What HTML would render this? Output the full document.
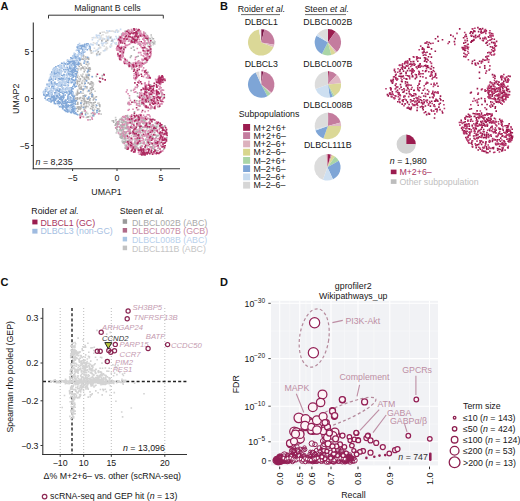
<!DOCTYPE html><html><head><meta charset="utf-8"><style>html,body{margin:0;padding:0;background:#fff;width:520px;height:501px;overflow:hidden}svg{display:block}</style></head><body><svg width="520" height="501" viewBox="0 0 520 501" font-family="Liberation Sans, sans-serif">
<rect width="520" height="501" fill="#fff"/>
<g>
<text x="0.5" y="9.8" font-size="11" fill="#111" stroke="#111" stroke-width="0" text-anchor="start" font-weight="bold">A</text>
<text x="107.5" y="11.0" font-size="8.8" fill="#222" stroke="#222" stroke-width="0" text-anchor="middle" >Malignant B cells</text>
<path d="M48.5,18.5 V15.2 H163.3 V18.5" fill="none" stroke="#333" stroke-width="1"/>
<line x1="33.3" y1="22.5" x2="33.3" y2="169.3" stroke="#333" stroke-width="1.1" />
<line x1="32.7" y1="168.8" x2="180.0" y2="168.8" stroke="#333" stroke-width="1.1" />
<line x1="31.0" y1="51.5" x2="33.3" y2="51.5" stroke="#333" stroke-width="1" />
<text x="29.5" y="54.6" font-size="8.8" fill="#161616" stroke="#161616" stroke-width="0" text-anchor="end" >5</text>
<line x1="31.0" y1="98.5" x2="33.3" y2="98.5" stroke="#333" stroke-width="1" />
<text x="29.5" y="101.6" font-size="8.8" fill="#161616" stroke="#161616" stroke-width="0" text-anchor="end" >0</text>
<line x1="31.0" y1="145.5" x2="33.3" y2="145.5" stroke="#333" stroke-width="1" />
<text x="29.5" y="148.6" font-size="8.8" fill="#161616" stroke="#161616" stroke-width="0" text-anchor="end" >−5</text>
<line x1="72.6" y1="168.8" x2="72.6" y2="171.0" stroke="#333" stroke-width="1" />
<text x="72.6" y="180.8" font-size="8.8" fill="#161616" stroke="#161616" stroke-width="0" text-anchor="middle" >−5</text>
<line x1="117.0" y1="168.8" x2="117.0" y2="171.0" stroke="#333" stroke-width="1" />
<text x="117.0" y="180.8" font-size="8.8" fill="#161616" stroke="#161616" stroke-width="0" text-anchor="middle" >0</text>
<line x1="160.9" y1="168.8" x2="160.9" y2="171.0" stroke="#333" stroke-width="1" />
<text x="160.9" y="180.8" font-size="8.8" fill="#161616" stroke="#161616" stroke-width="0" text-anchor="middle" >5</text>
<text x="106.5" y="194.5" font-size="8.8" fill="#161616" stroke="#161616" stroke-width="0" text-anchor="middle" >UMAP1</text>
<text x="0" y="0" font-size="8.8" fill="#161616" stroke="#161616" stroke-width="0" text-anchor="middle" transform="translate(18.8,98.8) rotate(-90)">UMAP2</text>
<text x="35.6" y="165.3" font-size="8.8" fill="#161616" stroke="#161616" stroke-width="0" text-anchor="start" ><tspan font-style="italic">n</tspan> = 8,235</text>
<text x="31.3" y="213.8" font-size="8.8" fill="#161616" stroke="#161616" stroke-width="0" text-anchor="start" >Roider <tspan font-style="italic">et al.</tspan></text>
<rect x="32.3" y="219.6" width="5.2" height="4.8" fill="#9b1c4f"/>
<text x="40.4" y="225.6" font-size="8.8" fill="#a8345f" stroke="#a8345f" stroke-width="0" text-anchor="start" >DLBCL1 (GC)</text>
<rect x="32.3" y="228.8" width="5.2" height="4.8" fill="#9fbbe0"/>
<text x="40.4" y="234.4" font-size="8.8" fill="#a6c0e2" stroke="#a6c0e2" stroke-width="0" text-anchor="start" >DLBCL3 (non-GC)</text>
<text x="119.8" y="213.8" font-size="8.8" fill="#161616" stroke="#161616" stroke-width="0" text-anchor="start" >Steen <tspan font-style="italic">et al.</tspan></text>
<rect x="122.7" y="219.2" width="4.4" height="4.6" fill="#9a9a9a"/>
<text x="131.9" y="225.5" font-size="8.8" fill="#a9a9a9" stroke="#a9a9a9" stroke-width="0" text-anchor="start" >DLBCL002B (ABC)</text>
<rect x="122.7" y="228.0" width="4.4" height="4.6" fill="#b06a88"/>
<text x="131.9" y="234.3" font-size="8.8" fill="#c88aa4" stroke="#c88aa4" stroke-width="0" text-anchor="start" >DLBCL007B (GCB)</text>
<rect x="122.7" y="236.8" width="4.4" height="4.6" fill="#a9c6e4"/>
<text x="131.9" y="243.1" font-size="8.8" fill="#b9d1ec" stroke="#b9d1ec" stroke-width="0" text-anchor="start" >DLBCL008B (ABC)</text>
<rect x="122.7" y="245.6" width="4.4" height="4.6" fill="#c2c2c2"/>
<text x="131.9" y="251.9" font-size="8.8" fill="#c6c6c6" stroke="#c6c6c6" stroke-width="0" text-anchor="start" >DLBCL111B (ABC)</text>
<path fill="#dcdcdc" d="M103.3 45.3h1.6v1.6h-1.6zM97.8 47.6h1.6v1.6h-1.6zM94.4 42.7h1.6v1.6h-1.6zM105.3 42.9h1.6v1.6h-1.6zM110.2 43.7h1.6v1.6h-1.6zM104.5 48.4h1.6v1.6h-1.6zM107.2 30.8h1.6v1.6h-1.6zM102.1 39.0h1.6v1.6h-1.6zM102.1 37.6h1.6v1.6h-1.6zM95.4 49.6h1.6v1.6h-1.6zM103.3 31.3h1.6v1.6h-1.6zM89.6 49.9h1.6v1.6h-1.6zM112.8 30.6h1.6v1.6h-1.6zM95.2 36.8h1.6v1.6h-1.6zM102.6 50.0h1.6v1.6h-1.6zM93.6 47.4h1.6v1.6h-1.6zM120.5 36.4h1.6v1.6h-1.6zM106.8 32.0h1.6v1.6h-1.6zM98.8 38.3h1.6v1.6h-1.6zM103.8 38.3h1.6v1.6h-1.6zM105.6 46.3h1.6v1.6h-1.6zM100.5 34.8h1.6v1.6h-1.6zM91.9 52.0h1.6v1.6h-1.6zM99.8 46.8h1.6v1.6h-1.6zM99.0 46.3h1.6v1.6h-1.6zM106.5 36.4h1.6v1.6h-1.6zM110.1 30.4h1.6v1.6h-1.6zM116.0 43.6h1.6v1.6h-1.6zM102.2 34.0h1.6v1.6h-1.6zM116.9 30.5h1.6v1.6h-1.6zM118.3 35.5h1.6v1.6h-1.6zM109.2 45.6h1.6v1.6h-1.6zM105.1 32.2h1.6v1.6h-1.6zM117.8 30.3h1.6v1.6h-1.6zM106.6 47.6h1.6v1.6h-1.6zM118.5 40.3h1.6v1.6h-1.6zM114.6 30.8h1.6v1.6h-1.6zM111.3 30.2h1.6v1.6h-1.6zM101.5 31.5h1.6v1.6h-1.6zM110.3 36.1h1.6v1.6h-1.6zM106.5 38.5h1.6v1.6h-1.6zM115.2 29.7h1.6v1.6h-1.6zM114.0 42.2h1.6v1.6h-1.6zM90.6 51.7h1.6v1.6h-1.6zM98.5 38.6h1.6v1.6h-1.6zM100.2 36.8h1.6v1.6h-1.6zM105.2 48.1h1.6v1.6h-1.6zM96.8 52.0h1.6v1.6h-1.6zM106.6 42.3h1.6v1.6h-1.6zM101.6 42.8h1.6v1.6h-1.6zM110.7 45.1h1.6v1.6h-1.6zM105.8 48.8h1.6v1.6h-1.6zM92.7 42.0h1.6v1.6h-1.6zM99.9 51.9h1.6v1.6h-1.6zM99.0 47.2h1.6v1.6h-1.6zM91.5 36.9h1.6v1.6h-1.6zM105.7 35.6h1.6v1.6h-1.6zM108.1 35.6h1.6v1.6h-1.6z"/>
<path fill="#c9daef" d="M105.1 41.6h1.6v1.6h-1.6zM121.8 33.2h1.6v1.6h-1.6zM93.1 36.8h1.6v1.6h-1.6zM102.3 42.9h1.6v1.6h-1.6zM99.9 38.2h1.6v1.6h-1.6zM107.9 37.5h1.6v1.6h-1.6zM97.2 40.2h1.6v1.6h-1.6zM95.6 34.3h1.6v1.6h-1.6zM103.6 38.0h1.6v1.6h-1.6zM91.2 43.8h1.6v1.6h-1.6zM89.3 47.7h1.6v1.6h-1.6zM110.5 40.5h1.6v1.6h-1.6zM108.8 30.0h1.6v1.6h-1.6zM107.8 39.0h1.6v1.6h-1.6zM107.3 36.3h1.6v1.6h-1.6zM108.4 30.3h1.6v1.6h-1.6zM101.6 44.7h1.6v1.6h-1.6zM96.1 43.6h1.6v1.6h-1.6zM96.8 49.1h1.6v1.6h-1.6zM113.8 38.5h1.6v1.6h-1.6zM96.0 54.6h1.6v1.6h-1.6zM103.3 41.9h1.6v1.6h-1.6zM112.1 39.3h1.6v1.6h-1.6zM94.6 50.2h1.6v1.6h-1.6zM95.9 35.4h1.6v1.6h-1.6zM97.0 36.9h1.6v1.6h-1.6zM96.2 42.0h1.6v1.6h-1.6zM121.6 34.4h1.6v1.6h-1.6zM110.1 37.2h1.6v1.6h-1.6zM109.7 46.3h1.6v1.6h-1.6zM97.1 34.8h1.6v1.6h-1.6zM88.7 44.3h1.6v1.6h-1.6zM92.2 44.1h1.6v1.6h-1.6zM100.7 42.6h1.6v1.6h-1.6zM98.7 53.3h1.6v1.6h-1.6zM114.8 43.2h1.6v1.6h-1.6zM106.0 30.0h1.6v1.6h-1.6zM92.6 50.5h1.6v1.6h-1.6zM103.3 49.9h1.6v1.6h-1.6zM99.1 36.2h1.6v1.6h-1.6zM118.1 37.1h1.6v1.6h-1.6zM111.5 38.5h1.6v1.6h-1.6zM106.6 37.4h1.6v1.6h-1.6zM115.2 35.7h1.6v1.6h-1.6zM115.5 42.0h1.6v1.6h-1.6zM119.8 28.6h1.6v1.6h-1.6zM114.5 31.5h1.6v1.6h-1.6zM101.1 40.6h1.6v1.6h-1.6zM96.9 54.1h1.6v1.6h-1.6zM97.8 47.7h1.6v1.6h-1.6zM104.2 49.6h1.6v1.6h-1.6zM112.2 40.9h1.6v1.6h-1.6zM116.9 31.4h1.6v1.6h-1.6zM116.0 37.6h1.6v1.6h-1.6zM89.9 43.2h1.6v1.6h-1.6zM98.5 34.5h1.6v1.6h-1.6zM98.0 44.1h1.6v1.6h-1.6zM116.1 29.3h1.6v1.6h-1.6zM91.6 39.0h1.6v1.6h-1.6zM120.8 33.4h1.6v1.6h-1.6zM110.8 42.9h1.6v1.6h-1.6zM112.2 40.4h1.6v1.6h-1.6z"/>
<path fill="#cdcdcd" d="M85.3 58.5h1.6v1.6h-1.6zM91.8 82.1h1.6v1.6h-1.6zM98.9 104.3h1.6v1.6h-1.6zM89.3 115.6h1.6v1.6h-1.6zM74.9 97.4h1.6v1.6h-1.6zM83.1 96.0h1.6v1.6h-1.6zM81.2 115.7h1.6v1.6h-1.6zM76.2 98.2h1.6v1.6h-1.6zM83.2 108.5h1.6v1.6h-1.6zM98.2 102.3h1.6v1.6h-1.6zM88.1 66.9h1.6v1.6h-1.6zM94.5 96.6h1.6v1.6h-1.6zM87.5 73.8h1.6v1.6h-1.6zM79.4 79.1h1.6v1.6h-1.6zM83.4 69.0h1.6v1.6h-1.6zM86.9 73.4h1.6v1.6h-1.6zM81.0 81.6h1.6v1.6h-1.6zM82.2 115.4h1.6v1.6h-1.6zM85.2 61.1h1.6v1.6h-1.6zM74.3 94.6h1.6v1.6h-1.6zM79.1 107.1h1.6v1.6h-1.6zM82.5 92.5h1.6v1.6h-1.6zM82.1 76.6h1.6v1.6h-1.6zM83.5 110.4h1.6v1.6h-1.6zM95.2 104.0h1.6v1.6h-1.6zM81.0 101.6h1.6v1.6h-1.6zM94.7 106.2h1.6v1.6h-1.6zM85.6 116.7h1.6v1.6h-1.6zM76.2 79.8h1.6v1.6h-1.6zM92.7 83.6h1.6v1.6h-1.6zM83.7 107.6h1.6v1.6h-1.6zM79.4 108.7h1.6v1.6h-1.6zM82.8 76.7h1.6v1.6h-1.6zM84.6 59.0h1.6v1.6h-1.6zM91.6 93.9h1.6v1.6h-1.6zM80.0 102.6h1.6v1.6h-1.6zM86.0 105.5h1.6v1.6h-1.6zM83.8 98.7h1.6v1.6h-1.6zM86.5 61.4h1.6v1.6h-1.6zM86.8 90.6h1.6v1.6h-1.6zM77.3 69.2h1.6v1.6h-1.6zM92.0 85.7h1.6v1.6h-1.6zM83.5 78.9h1.6v1.6h-1.6zM92.3 84.7h1.6v1.6h-1.6zM78.0 68.0h1.6v1.6h-1.6zM81.2 111.6h1.6v1.6h-1.6zM88.6 90.3h1.6v1.6h-1.6zM81.3 99.5h1.6v1.6h-1.6zM87.5 82.5h1.6v1.6h-1.6zM74.4 100.1h1.6v1.6h-1.6zM93.8 108.6h1.6v1.6h-1.6zM87.4 102.4h1.6v1.6h-1.6zM83.2 104.2h1.6v1.6h-1.6zM83.9 87.9h1.6v1.6h-1.6zM88.6 89.5h1.6v1.6h-1.6zM97.0 102.4h1.6v1.6h-1.6zM92.0 104.4h1.6v1.6h-1.6zM85.5 94.5h1.6v1.6h-1.6zM87.5 58.1h1.6v1.6h-1.6zM84.2 58.0h1.6v1.6h-1.6zM88.2 78.3h1.6v1.6h-1.6zM87.3 105.9h1.6v1.6h-1.6zM88.2 62.8h1.6v1.6h-1.6zM83.7 81.1h1.6v1.6h-1.6zM75.5 92.4h1.6v1.6h-1.6zM76.4 106.0h1.6v1.6h-1.6zM86.9 65.1h1.6v1.6h-1.6zM81.8 79.8h1.6v1.6h-1.6zM84.3 69.4h1.6v1.6h-1.6zM87.5 78.3h1.6v1.6h-1.6zM78.5 75.9h1.6v1.6h-1.6zM86.2 87.7h1.6v1.6h-1.6zM77.2 68.6h1.6v1.6h-1.6zM79.2 92.4h1.6v1.6h-1.6zM82.8 56.6h1.6v1.6h-1.6zM88.4 103.9h1.6v1.6h-1.6zM76.8 98.5h1.6v1.6h-1.6zM85.6 100.7h1.6v1.6h-1.6zM87.7 77.3h1.6v1.6h-1.6zM85.7 111.3h1.6v1.6h-1.6zM87.1 60.7h1.6v1.6h-1.6zM81.1 92.4h1.6v1.6h-1.6zM76.0 103.4h1.6v1.6h-1.6zM87.1 63.6h1.6v1.6h-1.6zM83.8 76.4h1.6v1.6h-1.6zM100.4 113.3h1.6v1.6h-1.6zM80.6 104.3h1.6v1.6h-1.6zM86.2 97.3h1.6v1.6h-1.6zM76.3 93.6h1.6v1.6h-1.6zM85.2 73.7h1.6v1.6h-1.6zM91.3 75.7h1.6v1.6h-1.6zM78.8 113.7h1.6v1.6h-1.6zM93.8 97.4h1.6v1.6h-1.6zM82.1 73.3h1.6v1.6h-1.6zM95.3 106.3h1.6v1.6h-1.6zM77.9 97.5h1.6v1.6h-1.6zM85.5 74.1h1.6v1.6h-1.6zM74.3 97.1h1.6v1.6h-1.6zM88.5 104.2h1.6v1.6h-1.6zM80.9 75.4h1.6v1.6h-1.6zM78.9 96.9h1.6v1.6h-1.6zM98.6 104.2h1.6v1.6h-1.6zM89.0 70.4h1.6v1.6h-1.6zM87.0 70.9h1.6v1.6h-1.6zM75.8 79.2h1.6v1.6h-1.6zM80.1 68.9h1.6v1.6h-1.6zM87.0 75.2h1.6v1.6h-1.6zM91.1 82.8h1.6v1.6h-1.6zM82.4 89.9h1.6v1.6h-1.6zM84.1 65.9h1.6v1.6h-1.6zM90.5 52.3h1.6v1.6h-1.6zM87.0 75.8h1.6v1.6h-1.6zM76.8 89.3h1.6v1.6h-1.6zM83.9 68.3h1.6v1.6h-1.6zM94.3 90.5h1.6v1.6h-1.6zM82.7 85.4h1.6v1.6h-1.6zM93.3 115.0h1.6v1.6h-1.6zM90.8 84.8h1.6v1.6h-1.6zM91.2 103.3h1.6v1.6h-1.6zM80.1 74.2h1.6v1.6h-1.6zM78.4 86.5h1.6v1.6h-1.6zM94.6 112.7h1.6v1.6h-1.6zM87.0 112.8h1.6v1.6h-1.6zM77.3 68.8h1.6v1.6h-1.6zM92.6 88.0h1.6v1.6h-1.6zM82.2 95.2h1.6v1.6h-1.6zM80.5 85.4h1.6v1.6h-1.6zM77.4 107.4h1.6v1.6h-1.6zM92.5 94.5h1.6v1.6h-1.6zM77.1 74.5h1.6v1.6h-1.6zM81.6 67.3h1.6v1.6h-1.6zM86.7 74.1h1.6v1.6h-1.6zM98.6 113.0h1.6v1.6h-1.6zM85.8 87.1h1.6v1.6h-1.6zM77.9 77.8h1.6v1.6h-1.6zM84.0 106.0h1.6v1.6h-1.6zM93.7 111.9h1.6v1.6h-1.6zM149.2 37.9h1.6v1.6h-1.6zM148.6 42.1h1.6v1.6h-1.6zM146.3 42.1h1.6v1.6h-1.6zM149.7 41.7h1.6v1.6h-1.6zM149.7 41.0h1.6v1.6h-1.6zM145.7 34.1h1.6v1.6h-1.6zM150.0 42.4h1.6v1.6h-1.6zM147.1 39.2h1.6v1.6h-1.6zM153.1 42.0h1.6v1.6h-1.6zM147.7 37.0h1.6v1.6h-1.6zM152.4 43.8h1.6v1.6h-1.6zM151.7 37.9h1.6v1.6h-1.6zM153.5 40.3h1.6v1.6h-1.6zM154.2 41.1h1.6v1.6h-1.6zM154.0 43.2h1.6v1.6h-1.6zM153.6 41.6h1.6v1.6h-1.6zM151.2 36.7h1.6v1.6h-1.6zM150.5 39.4h1.6v1.6h-1.6zM150.4 34.0h1.6v1.6h-1.6zM149.0 43.7h1.6v1.6h-1.6zM150.4 34.9h1.6v1.6h-1.6zM144.7 32.4h1.6v1.6h-1.6zM152.5 42.6h1.6v1.6h-1.6zM149.4 42.5h1.6v1.6h-1.6zM114.8 116.8h1.6v1.6h-1.6zM119.6 128.3h1.6v1.6h-1.6zM122.7 115.9h1.6v1.6h-1.6zM119.0 119.2h1.6v1.6h-1.6zM115.5 132.1h1.6v1.6h-1.6zM116.1 130.6h1.6v1.6h-1.6zM121.2 124.7h1.6v1.6h-1.6zM121.0 134.2h1.6v1.6h-1.6zM121.5 134.5h1.6v1.6h-1.6zM114.5 119.8h1.6v1.6h-1.6zM111.3 119.9h1.6v1.6h-1.6zM129.6 120.0h1.6v1.6h-1.6zM142.3 121.9h1.6v1.6h-1.6zM124.8 122.6h1.6v1.6h-1.6zM122.7 115.4h1.6v1.6h-1.6zM124.8 127.0h1.6v1.6h-1.6zM153.5 145.5h1.6v1.6h-1.6zM125.7 115.3h1.6v1.6h-1.6zM126.1 134.5h1.6v1.6h-1.6zM146.7 131.1h1.6v1.6h-1.6zM118.9 121.1h1.6v1.6h-1.6zM144.5 134.0h1.6v1.6h-1.6zM124.9 118.2h1.6v1.6h-1.6zM151.4 146.1h1.6v1.6h-1.6zM118.5 133.3h1.6v1.6h-1.6zM122.5 127.0h1.6v1.6h-1.6zM149.6 138.3h1.6v1.6h-1.6zM124.6 134.2h1.6v1.6h-1.6zM122.6 137.6h1.6v1.6h-1.6zM135.7 129.1h1.6v1.6h-1.6zM120.9 133.2h1.6v1.6h-1.6zM121.8 133.9h1.6v1.6h-1.6zM125.4 130.9h1.6v1.6h-1.6zM122.1 139.6h1.6v1.6h-1.6zM153.5 125.4h1.6v1.6h-1.6zM138.7 131.8h1.6v1.6h-1.6zM124.0 126.5h1.6v1.6h-1.6zM132.1 118.1h1.6v1.6h-1.6zM139.1 138.7h1.6v1.6h-1.6zM142.1 122.7h1.6v1.6h-1.6zM146.2 142.6h1.6v1.6h-1.6zM124.6 139.6h1.6v1.6h-1.6zM144.7 126.6h1.6v1.6h-1.6zM121.7 134.9h1.6v1.6h-1.6zM121.0 117.7h1.6v1.6h-1.6zM156.1 126.8h1.6v1.6h-1.6zM125.4 121.0h1.6v1.6h-1.6zM148.8 127.8h1.6v1.6h-1.6zM139.3 131.7h1.6v1.6h-1.6zM115.2 126.7h1.6v1.6h-1.6zM146.8 134.8h1.6v1.6h-1.6zM143.5 143.6h1.6v1.6h-1.6zM145.1 138.2h1.6v1.6h-1.6zM137.3 128.9h1.6v1.6h-1.6zM147.9 140.7h1.6v1.6h-1.6zM133.1 134.8h1.6v1.6h-1.6zM149.0 140.3h1.6v1.6h-1.6zM157.0 142.8h1.6v1.6h-1.6zM124.8 144.0h1.6v1.6h-1.6zM134.8 144.4h1.6v1.6h-1.6zM118.5 129.3h1.6v1.6h-1.6zM121.4 134.5h1.6v1.6h-1.6zM143.1 130.7h1.6v1.6h-1.6zM117.6 122.5h1.6v1.6h-1.6zM140.5 144.9h1.6v1.6h-1.6zM141.6 131.6h1.6v1.6h-1.6zM136.6 137.3h1.6v1.6h-1.6zM134.9 115.9h1.6v1.6h-1.6zM152.1 131.1h1.6v1.6h-1.6zM139.0 122.3h1.6v1.6h-1.6zM153.2 147.8h1.6v1.6h-1.6zM118.5 123.0h1.6v1.6h-1.6zM139.1 125.8h1.6v1.6h-1.6zM124.2 144.5h1.6v1.6h-1.6zM136.4 146.7h1.6v1.6h-1.6zM138.8 119.8h1.6v1.6h-1.6zM139.9 115.5h1.6v1.6h-1.6zM136.8 144.3h1.6v1.6h-1.6zM153.7 128.1h1.6v1.6h-1.6zM139.6 136.0h1.6v1.6h-1.6zM124.4 146.2h1.6v1.6h-1.6zM141.8 136.2h1.6v1.6h-1.6zM144.3 116.0h1.6v1.6h-1.6zM118.9 134.1h1.6v1.6h-1.6zM122.3 125.2h1.6v1.6h-1.6zM123.6 138.5h1.6v1.6h-1.6zM121.3 140.3h1.6v1.6h-1.6zM121.1 136.6h1.6v1.6h-1.6zM145.4 125.1h1.6v1.6h-1.6zM124.7 122.7h1.6v1.6h-1.6zM121.7 117.7h1.6v1.6h-1.6zM133.5 145.7h1.6v1.6h-1.6zM136.6 147.8h1.6v1.6h-1.6zM131.9 139.0h1.6v1.6h-1.6zM134.4 125.9h1.6v1.6h-1.6zM156.8 135.1h1.6v1.6h-1.6zM149.4 134.1h1.6v1.6h-1.6zM120.7 128.7h1.6v1.6h-1.6zM145.7 129.1h1.6v1.6h-1.6zM158.1 140.3h1.6v1.6h-1.6zM146.7 125.7h1.6v1.6h-1.6zM116.1 125.6h1.6v1.6h-1.6zM124.2 120.2h1.6v1.6h-1.6zM134.0 147.1h1.6v1.6h-1.6zM154.8 139.7h1.6v1.6h-1.6zM121.2 118.1h1.6v1.6h-1.6zM120.8 126.5h1.6v1.6h-1.6zM116.3 125.5h1.6v1.6h-1.6zM144.6 139.5h1.6v1.6h-1.6zM151.2 143.1h1.6v1.6h-1.6zM127.2 137.5h1.6v1.6h-1.6zM118.0 130.6h1.6v1.6h-1.6zM146.4 146.3h1.6v1.6h-1.6zM123.1 128.5h1.6v1.6h-1.6zM135.8 144.0h1.6v1.6h-1.6zM148.2 132.9h1.6v1.6h-1.6zM137.4 147.6h1.6v1.6h-1.6zM141.4 129.7h1.6v1.6h-1.6zM123.9 125.1h1.6v1.6h-1.6zM140.1 119.5h1.6v1.6h-1.6zM123.8 135.1h1.6v1.6h-1.6zM131.2 117.7h1.6v1.6h-1.6zM135.8 125.4h1.6v1.6h-1.6zM137.6 122.1h1.6v1.6h-1.6zM123.7 137.4h1.6v1.6h-1.6zM134.1 139.3h1.6v1.6h-1.6zM131.8 146.1h1.6v1.6h-1.6zM122.0 126.4h1.6v1.6h-1.6zM124.0 124.8h1.6v1.6h-1.6zM143.1 143.0h1.6v1.6h-1.6zM133.1 122.4h1.6v1.6h-1.6zM153.1 128.3h1.6v1.6h-1.6zM118.4 119.8h1.6v1.6h-1.6zM156.4 126.0h1.6v1.6h-1.6zM127.4 121.7h1.6v1.6h-1.6zM138.5 133.8h1.6v1.6h-1.6zM129.6 138.2h1.6v1.6h-1.6zM121.2 131.3h1.6v1.6h-1.6zM124.4 138.5h1.6v1.6h-1.6zM125.8 127.8h1.6v1.6h-1.6zM125.5 148.0h1.6v1.6h-1.6zM146.7 128.0h1.6v1.6h-1.6zM136.5 121.9h1.6v1.6h-1.6zM123.2 119.7h1.6v1.6h-1.6zM129.6 130.0h1.6v1.6h-1.6zM125.6 132.7h1.6v1.6h-1.6zM143.4 140.9h1.6v1.6h-1.6zM134.4 116.3h1.6v1.6h-1.6zM151.1 124.1h1.6v1.6h-1.6zM144.9 121.2h1.6v1.6h-1.6zM130.4 116.6h1.6v1.6h-1.6zM130.8 134.9h1.6v1.6h-1.6zM125.7 144.1h1.6v1.6h-1.6zM131.2 118.5h1.6v1.6h-1.6zM125.7 139.8h1.6v1.6h-1.6zM134.3 118.4h1.6v1.6h-1.6zM119.5 129.9h1.6v1.6h-1.6zM154.0 125.2h1.6v1.6h-1.6zM134.9 140.3h1.6v1.6h-1.6zM118.0 121.4h1.6v1.6h-1.6zM132.1 138.6h1.6v1.6h-1.6zM129.9 122.1h1.6v1.6h-1.6zM153.7 145.3h1.6v1.6h-1.6zM125.7 143.5h1.6v1.6h-1.6zM132.5 126.8h1.6v1.6h-1.6zM120.8 116.9h1.6v1.6h-1.6zM135.2 120.4h1.6v1.6h-1.6zM118.5 129.8h1.6v1.6h-1.6zM125.1 136.2h1.6v1.6h-1.6zM119.8 135.5h1.6v1.6h-1.6zM124.7 117.9h1.6v1.6h-1.6zM156.5 135.1h1.6v1.6h-1.6zM126.2 133.2h1.6v1.6h-1.6zM149.0 121.2h1.6v1.6h-1.6zM125.0 138.3h1.6v1.6h-1.6zM124.4 133.1h1.6v1.6h-1.6zM123.2 116.2h1.6v1.6h-1.6zM130.0 126.5h1.6v1.6h-1.6zM127.9 138.2h1.6v1.6h-1.6zM140.3 142.0h1.6v1.6h-1.6zM140.4 120.6h1.6v1.6h-1.6zM157.0 125.6h1.6v1.6h-1.6zM121.4 141.0h1.6v1.6h-1.6zM145.4 122.5h1.6v1.6h-1.6zM127.8 116.7h1.6v1.6h-1.6zM122.2 130.5h1.6v1.6h-1.6zM146.6 132.7h1.6v1.6h-1.6zM135.5 148.1h1.6v1.6h-1.6zM133.1 114.3h1.6v1.6h-1.6zM136.1 146.1h1.6v1.6h-1.6zM145.8 142.8h1.6v1.6h-1.6zM143.0 142.1h1.6v1.6h-1.6zM128.6 119.9h1.6v1.6h-1.6zM127.5 118.3h1.6v1.6h-1.6zM135.2 146.2h1.6v1.6h-1.6zM140.9 127.7h1.6v1.6h-1.6zM155.9 135.7h1.6v1.6h-1.6zM125.1 132.6h1.6v1.6h-1.6zM152.3 125.0h1.6v1.6h-1.6zM118.1 132.4h1.6v1.6h-1.6zM120.5 132.3h1.6v1.6h-1.6zM122.7 131.7h1.6v1.6h-1.6zM146.1 141.1h1.6v1.6h-1.6zM133.6 116.7h1.6v1.6h-1.6zM117.0 130.6h1.6v1.6h-1.6z"/>
<path fill="#b0b0b0" d="M76.4 82.6h1.6v1.6h-1.6zM86.5 57.5h1.6v1.6h-1.6zM92.2 96.2h1.6v1.6h-1.6zM89.4 97.9h1.6v1.6h-1.6zM83.6 97.2h1.6v1.6h-1.6zM77.9 108.3h1.6v1.6h-1.6zM84.0 94.4h1.6v1.6h-1.6zM79.0 83.8h1.6v1.6h-1.6zM83.8 83.2h1.6v1.6h-1.6zM81.2 82.7h1.6v1.6h-1.6zM87.3 76.8h1.6v1.6h-1.6zM81.5 75.6h1.6v1.6h-1.6zM92.8 104.6h1.6v1.6h-1.6zM86.7 98.5h1.6v1.6h-1.6zM83.4 100.2h1.6v1.6h-1.6zM91.4 94.7h1.6v1.6h-1.6zM90.9 95.9h1.6v1.6h-1.6zM91.8 114.9h1.6v1.6h-1.6zM82.8 55.2h1.6v1.6h-1.6zM92.9 109.9h1.6v1.6h-1.6zM96.6 108.0h1.6v1.6h-1.6zM85.6 77.0h1.6v1.6h-1.6zM81.3 111.8h1.6v1.6h-1.6zM76.9 110.4h1.6v1.6h-1.6zM85.6 75.3h1.6v1.6h-1.6zM83.7 100.6h1.6v1.6h-1.6zM82.7 94.9h1.6v1.6h-1.6zM89.5 87.6h1.6v1.6h-1.6zM90.0 83.1h1.6v1.6h-1.6zM80.2 107.2h1.6v1.6h-1.6zM80.3 88.5h1.6v1.6h-1.6zM86.6 116.3h1.6v1.6h-1.6zM88.5 74.6h1.6v1.6h-1.6zM80.7 100.0h1.6v1.6h-1.6zM83.7 77.8h1.6v1.6h-1.6zM87.4 67.8h1.6v1.6h-1.6zM87.5 82.0h1.6v1.6h-1.6zM83.4 71.0h1.6v1.6h-1.6zM90.3 86.9h1.6v1.6h-1.6zM76.8 93.3h1.6v1.6h-1.6zM88.1 70.5h1.6v1.6h-1.6zM82.6 106.4h1.6v1.6h-1.6zM85.8 75.9h1.6v1.6h-1.6zM91.9 82.2h1.6v1.6h-1.6zM78.4 92.5h1.6v1.6h-1.6zM90.4 101.9h1.6v1.6h-1.6zM85.6 105.4h1.6v1.6h-1.6zM89.0 100.0h1.6v1.6h-1.6zM90.2 50.0h1.6v1.6h-1.6zM85.6 105.4h1.6v1.6h-1.6zM98.1 108.2h1.6v1.6h-1.6zM98.7 104.0h1.6v1.6h-1.6zM79.0 114.2h1.6v1.6h-1.6zM79.8 62.8h1.6v1.6h-1.6zM83.1 98.6h1.6v1.6h-1.6zM87.9 58.4h1.6v1.6h-1.6zM79.0 97.9h1.6v1.6h-1.6zM90.9 81.2h1.6v1.6h-1.6zM79.6 78.1h1.6v1.6h-1.6zM80.6 105.4h1.6v1.6h-1.6zM76.4 76.3h1.6v1.6h-1.6zM79.7 107.9h1.6v1.6h-1.6zM78.6 87.8h1.6v1.6h-1.6zM78.8 80.7h1.6v1.6h-1.6zM89.2 92.8h1.6v1.6h-1.6zM88.6 98.6h1.6v1.6h-1.6zM83.7 102.5h1.6v1.6h-1.6zM82.6 55.2h1.6v1.6h-1.6zM92.5 101.9h1.6v1.6h-1.6zM74.7 100.3h1.6v1.6h-1.6zM84.8 112.4h1.6v1.6h-1.6zM85.5 101.1h1.6v1.6h-1.6zM91.5 86.6h1.6v1.6h-1.6zM80.3 86.4h1.6v1.6h-1.6zM83.7 108.9h1.6v1.6h-1.6zM90.6 91.6h1.6v1.6h-1.6zM92.9 98.3h1.6v1.6h-1.6zM82.5 89.2h1.6v1.6h-1.6zM74.4 98.0h1.6v1.6h-1.6zM84.9 56.2h1.6v1.6h-1.6zM87.8 68.6h1.6v1.6h-1.6zM85.5 63.5h1.6v1.6h-1.6zM91.1 105.6h1.6v1.6h-1.6zM84.3 100.2h1.6v1.6h-1.6zM81.2 58.3h1.6v1.6h-1.6zM99.0 110.1h1.6v1.6h-1.6zM80.1 86.7h1.6v1.6h-1.6zM81.9 88.4h1.6v1.6h-1.6zM81.8 97.5h1.6v1.6h-1.6zM77.1 80.6h1.6v1.6h-1.6zM87.7 57.2h1.6v1.6h-1.6zM80.5 64.4h1.6v1.6h-1.6zM89.8 107.7h1.6v1.6h-1.6zM92.4 88.5h1.6v1.6h-1.6zM85.5 67.3h1.6v1.6h-1.6zM89.5 68.5h1.6v1.6h-1.6zM76.8 83.1h1.6v1.6h-1.6zM75.8 107.7h1.6v1.6h-1.6zM78.4 65.7h1.6v1.6h-1.6zM76.5 80.8h1.6v1.6h-1.6zM92.5 99.2h1.6v1.6h-1.6zM89.1 83.5h1.6v1.6h-1.6zM99.0 105.6h1.6v1.6h-1.6zM82.8 54.8h1.6v1.6h-1.6zM79.7 106.6h1.6v1.6h-1.6zM81.9 66.3h1.6v1.6h-1.6zM76.4 97.0h1.6v1.6h-1.6zM89.4 82.7h1.6v1.6h-1.6zM80.3 67.6h1.6v1.6h-1.6zM77.1 106.6h1.6v1.6h-1.6zM95.6 96.0h1.6v1.6h-1.6zM77.9 85.2h1.6v1.6h-1.6zM89.2 101.9h1.6v1.6h-1.6zM90.7 89.3h1.6v1.6h-1.6zM92.8 112.4h1.6v1.6h-1.6zM91.1 93.7h1.6v1.6h-1.6zM76.7 90.8h1.6v1.6h-1.6zM85.7 102.8h1.6v1.6h-1.6zM84.9 106.8h1.6v1.6h-1.6zM85.1 105.8h1.6v1.6h-1.6zM89.4 48.6h1.6v1.6h-1.6zM88.3 73.8h1.6v1.6h-1.6zM76.5 98.5h1.6v1.6h-1.6zM81.2 111.6h1.6v1.6h-1.6zM80.4 87.8h1.6v1.6h-1.6zM86.1 86.1h1.6v1.6h-1.6zM90.5 80.9h1.6v1.6h-1.6zM92.7 113.5h1.6v1.6h-1.6zM79.8 96.7h1.6v1.6h-1.6zM83.0 103.5h1.6v1.6h-1.6zM78.1 106.1h1.6v1.6h-1.6zM82.6 58.5h1.6v1.6h-1.6zM77.0 103.4h1.6v1.6h-1.6zM87.4 57.6h1.6v1.6h-1.6zM79.6 113.0h1.6v1.6h-1.6zM94.4 101.4h1.6v1.6h-1.6zM90.8 105.6h1.6v1.6h-1.6zM92.2 106.7h1.6v1.6h-1.6zM89.0 66.9h1.6v1.6h-1.6zM77.0 101.8h1.6v1.6h-1.6zM76.6 72.0h1.6v1.6h-1.6zM76.2 94.1h1.6v1.6h-1.6zM91.6 108.4h1.6v1.6h-1.6zM84.7 78.9h1.6v1.6h-1.6zM93.0 102.2h1.6v1.6h-1.6zM82.5 67.3h1.6v1.6h-1.6zM87.3 101.1h1.6v1.6h-1.6zM77.0 91.9h1.6v1.6h-1.6zM87.6 67.7h1.6v1.6h-1.6zM85.7 80.2h1.6v1.6h-1.6zM98.3 110.7h1.6v1.6h-1.6zM101.0 39.8h1.6v1.6h-1.6zM95.9 53.2h1.6v1.6h-1.6zM98.8 53.6h1.6v1.6h-1.6zM109.5 36.8h1.6v1.6h-1.6zM97.9 44.5h1.6v1.6h-1.6zM99.4 32.4h1.6v1.6h-1.6zM105.2 40.5h1.6v1.6h-1.6zM97.5 51.0h1.6v1.6h-1.6zM111.2 39.8h1.6v1.6h-1.6zM106.8 39.6h1.6v1.6h-1.6zM87.6 116.1h1.6v1.6h-1.6zM90.6 112.7h1.6v1.6h-1.6zM89.3 118.9h1.6v1.6h-1.6zM101.5 74.8h1.6v1.6h-1.6zM101.4 77.5h1.6v1.6h-1.6zM103.0 73.2h1.6v1.6h-1.6zM98.4 80.3h1.6v1.6h-1.6zM95.6 75.6h1.6v1.6h-1.6zM99.6 81.1h1.6v1.6h-1.6zM123.9 61.0h1.6v1.6h-1.6zM146.6 52.3h1.6v1.6h-1.6zM139.2 33.0h1.6v1.6h-1.6zM145.7 61.3h1.6v1.6h-1.6zM122.1 33.1h1.6v1.6h-1.6zM146.2 56.9h1.6v1.6h-1.6zM137.1 31.0h1.6v1.6h-1.6zM127.7 64.4h1.6v1.6h-1.6zM143.6 36.4h1.6v1.6h-1.6zM133.3 64.2h1.6v1.6h-1.6zM127.5 29.3h1.6v1.6h-1.6zM119.7 36.0h1.6v1.6h-1.6zM136.9 29.8h1.6v1.6h-1.6zM137.1 32.5h1.6v1.6h-1.6zM124.4 30.6h1.6v1.6h-1.6zM148.8 49.3h1.6v1.6h-1.6zM137.7 61.7h1.6v1.6h-1.6zM119.3 50.1h1.6v1.6h-1.6zM146.8 48.9h1.6v1.6h-1.6zM149.2 46.9h1.6v1.6h-1.6zM133.2 40.5h1.6v1.6h-1.6zM135.4 28.8h1.6v1.6h-1.6zM146.3 38.8h1.6v1.6h-1.6zM144.5 53.0h1.6v1.6h-1.6zM145.7 37.7h1.6v1.6h-1.6zM127.8 64.1h1.6v1.6h-1.6zM118.2 47.3h1.6v1.6h-1.6zM132.5 65.5h1.6v1.6h-1.6zM122.5 52.4h1.6v1.6h-1.6zM127.7 40.5h1.6v1.6h-1.6zM127.3 30.9h1.6v1.6h-1.6zM146.6 42.3h1.6v1.6h-1.6zM147.0 39.2h1.6v1.6h-1.6zM127.2 31.0h1.6v1.6h-1.6zM132.5 64.2h1.6v1.6h-1.6zM136.4 36.4h1.6v1.6h-1.6zM141.1 64.6h1.6v1.6h-1.6zM129.8 62.4h1.6v1.6h-1.6zM139.9 43.7h1.6v1.6h-1.6zM135.0 41.5h1.6v1.6h-1.6zM142.5 59.1h1.6v1.6h-1.6zM131.7 39.6h1.6v1.6h-1.6zM146.7 43.0h1.6v1.6h-1.6zM137.0 32.3h1.6v1.6h-1.6zM126.8 60.7h1.6v1.6h-1.6zM139.6 43.3h1.6v1.6h-1.6zM145.9 60.6h1.6v1.6h-1.6zM118.3 37.7h1.6v1.6h-1.6zM144.3 58.7h1.6v1.6h-1.6zM132.6 28.5h1.6v1.6h-1.6zM137.4 43.2h1.6v1.6h-1.6zM144.3 61.8h1.6v1.6h-1.6zM145.9 53.0h1.6v1.6h-1.6zM123.0 47.5h1.6v1.6h-1.6zM130.7 65.8h1.6v1.6h-1.6zM121.2 33.3h1.6v1.6h-1.6zM147.4 45.5h1.6v1.6h-1.6zM144.1 32.4h1.6v1.6h-1.6zM130.6 66.0h1.6v1.6h-1.6zM122.4 34.7h1.6v1.6h-1.6zM144.1 46.9h1.6v1.6h-1.6zM149.0 43.6h1.6v1.6h-1.6zM132.7 66.4h1.6v1.6h-1.6zM124.7 35.3h1.6v1.6h-1.6zM117.3 46.7h1.6v1.6h-1.6zM133.5 49.3h1.6v1.6h-1.6zM129.6 56.6h1.6v1.6h-1.6zM135.9 56.0h1.6v1.6h-1.6zM132.6 46.1h1.6v1.6h-1.6zM130.5 47.5h1.6v1.6h-1.6zM130.5 55.1h1.6v1.6h-1.6zM137.4 55.5h1.6v1.6h-1.6zM149.9 45.4h1.6v1.6h-1.6zM153.0 42.4h1.6v1.6h-1.6zM149.6 46.0h1.6v1.6h-1.6zM151.7 41.5h1.6v1.6h-1.6zM148.9 43.6h1.6v1.6h-1.6zM149.3 37.7h1.6v1.6h-1.6zM152.6 38.0h1.6v1.6h-1.6zM147.1 38.0h1.6v1.6h-1.6zM146.2 36.0h1.6v1.6h-1.6zM131.1 68.1h1.6v1.6h-1.6zM137.9 60.0h1.6v1.6h-1.6zM147.2 75.8h1.6v1.6h-1.6zM147.2 71.4h1.6v1.6h-1.6zM141.0 65.0h1.6v1.6h-1.6zM158.0 93.6h1.6v1.6h-1.6zM144.9 98.7h1.6v1.6h-1.6zM160.9 93.1h1.6v1.6h-1.6zM151.7 106.8h1.6v1.6h-1.6zM144.8 90.0h1.6v1.6h-1.6zM158.3 106.1h1.6v1.6h-1.6zM162.1 93.5h1.6v1.6h-1.6zM149.0 102.6h1.6v1.6h-1.6zM160.0 90.7h1.6v1.6h-1.6zM154.0 107.0h1.6v1.6h-1.6zM152.6 86.6h1.6v1.6h-1.6zM145.5 89.9h1.6v1.6h-1.6zM163.5 95.9h1.6v1.6h-1.6zM151.8 95.5h1.6v1.6h-1.6zM149.0 97.1h1.6v1.6h-1.6zM149.9 98.4h1.6v1.6h-1.6zM149.5 99.9h1.6v1.6h-1.6zM145.2 98.3h1.6v1.6h-1.6zM139.7 95.3h1.6v1.6h-1.6zM139.2 94.5h1.6v1.6h-1.6zM156.6 93.8h1.6v1.6h-1.6zM140.5 89.6h1.6v1.6h-1.6zM147.5 99.3h1.6v1.6h-1.6zM146.0 101.5h1.6v1.6h-1.6zM153.6 96.9h1.6v1.6h-1.6zM145.6 90.2h1.6v1.6h-1.6zM148.4 92.2h1.6v1.6h-1.6zM148.2 92.7h1.6v1.6h-1.6zM142.5 95.8h1.6v1.6h-1.6zM148.1 92.6h1.6v1.6h-1.6zM161.7 89.0h1.6v1.6h-1.6zM141.1 103.3h1.6v1.6h-1.6zM142.8 100.5h1.6v1.6h-1.6zM160.8 95.6h1.6v1.6h-1.6zM149.9 107.5h1.6v1.6h-1.6zM160.9 92.1h1.6v1.6h-1.6zM149.7 84.1h1.6v1.6h-1.6zM148.2 99.5h1.6v1.6h-1.6zM147.9 98.7h1.6v1.6h-1.6zM143.6 96.6h1.6v1.6h-1.6zM143.1 93.8h1.6v1.6h-1.6zM127.1 102.8h1.6v1.6h-1.6zM139.2 99.8h1.6v1.6h-1.6zM130.3 89.8h1.6v1.6h-1.6zM127.0 102.4h1.6v1.6h-1.6zM136.0 100.0h1.6v1.6h-1.6zM128.7 97.3h1.6v1.6h-1.6zM136.7 92.3h1.6v1.6h-1.6zM137.2 102.8h1.6v1.6h-1.6zM136.9 85.5h1.6v1.6h-1.6zM133.5 88.4h1.6v1.6h-1.6zM136.8 95.6h1.6v1.6h-1.6zM138.9 104.3h1.6v1.6h-1.6zM137.9 108.7h1.6v1.6h-1.6zM138.6 116.1h1.6v1.6h-1.6zM133.7 111.1h1.6v1.6h-1.6zM132.3 101.4h1.6v1.6h-1.6zM119.7 124.5h1.6v1.6h-1.6zM117.8 123.3h1.6v1.6h-1.6zM112.9 121.5h1.6v1.6h-1.6zM112.4 119.9h1.6v1.6h-1.6zM115.3 127.4h1.6v1.6h-1.6zM115.3 118.9h1.6v1.6h-1.6zM124.3 127.2h1.6v1.6h-1.6zM124.1 131.5h1.6v1.6h-1.6zM115.7 121.6h1.6v1.6h-1.6zM114.4 124.4h1.6v1.6h-1.6zM124.5 127.6h1.6v1.6h-1.6zM116.3 129.0h1.6v1.6h-1.6zM150.8 129.3h1.6v1.6h-1.6zM156.2 140.6h1.6v1.6h-1.6zM148.0 151.7h1.6v1.6h-1.6zM135.2 130.9h1.6v1.6h-1.6zM122.0 119.2h1.6v1.6h-1.6zM124.3 134.4h1.6v1.6h-1.6zM137.7 122.1h1.6v1.6h-1.6zM118.1 120.7h1.6v1.6h-1.6zM161.6 132.8h1.6v1.6h-1.6zM123.2 124.5h1.6v1.6h-1.6zM132.6 133.2h1.6v1.6h-1.6zM157.9 146.5h1.6v1.6h-1.6zM150.7 141.9h1.6v1.6h-1.6zM159.4 123.2h1.6v1.6h-1.6zM156.8 142.6h1.6v1.6h-1.6zM121.2 137.7h1.6v1.6h-1.6zM155.3 127.5h1.6v1.6h-1.6zM134.1 142.8h1.6v1.6h-1.6zM143.1 122.8h1.6v1.6h-1.6zM128.6 141.0h1.6v1.6h-1.6zM134.4 143.0h1.6v1.6h-1.6zM121.4 128.8h1.6v1.6h-1.6zM121.3 124.8h1.6v1.6h-1.6zM122.9 124.7h1.6v1.6h-1.6zM146.0 126.6h1.6v1.6h-1.6zM149.9 125.2h1.6v1.6h-1.6zM154.4 127.9h1.6v1.6h-1.6zM159.4 133.4h1.6v1.6h-1.6zM137.4 147.7h1.6v1.6h-1.6zM124.7 116.8h1.6v1.6h-1.6zM137.1 119.5h1.6v1.6h-1.6zM124.4 141.6h1.6v1.6h-1.6zM124.4 140.4h1.6v1.6h-1.6zM124.2 134.0h1.6v1.6h-1.6zM136.6 121.6h1.6v1.6h-1.6zM164.6 132.7h1.6v1.6h-1.6zM162.9 138.3h1.6v1.6h-1.6zM120.7 118.3h1.6v1.6h-1.6zM133.1 130.5h1.6v1.6h-1.6zM149.0 152.0h1.6v1.6h-1.6zM127.4 143.2h1.6v1.6h-1.6zM156.6 141.6h1.6v1.6h-1.6zM137.3 130.3h1.6v1.6h-1.6zM135.3 135.4h1.6v1.6h-1.6zM136.1 131.1h1.6v1.6h-1.6zM129.1 132.1h1.6v1.6h-1.6zM116.5 126.7h1.6v1.6h-1.6zM157.4 144.5h1.6v1.6h-1.6zM128.2 132.4h1.6v1.6h-1.6zM151.6 137.0h1.6v1.6h-1.6zM122.6 140.9h1.6v1.6h-1.6zM148.4 138.8h1.6v1.6h-1.6zM130.6 141.5h1.6v1.6h-1.6zM142.8 118.5h1.6v1.6h-1.6zM163.9 137.0h1.6v1.6h-1.6zM146.9 124.2h1.6v1.6h-1.6zM121.9 126.8h1.6v1.6h-1.6zM140.3 129.4h1.6v1.6h-1.6zM124.7 134.9h1.6v1.6h-1.6zM124.7 118.5h1.6v1.6h-1.6zM130.6 125.0h1.6v1.6h-1.6zM155.9 149.9h1.6v1.6h-1.6zM151.9 129.8h1.6v1.6h-1.6zM123.5 140.9h1.6v1.6h-1.6zM133.9 121.0h1.6v1.6h-1.6zM134.2 135.7h1.6v1.6h-1.6zM139.6 127.6h1.6v1.6h-1.6zM132.5 143.7h1.6v1.6h-1.6zM125.9 127.5h1.6v1.6h-1.6zM152.2 129.7h1.6v1.6h-1.6zM138.7 124.3h1.6v1.6h-1.6zM150.7 126.1h1.6v1.6h-1.6zM119.4 136.3h1.6v1.6h-1.6zM142.0 126.3h1.6v1.6h-1.6zM149.8 131.7h1.6v1.6h-1.6zM115.2 123.0h1.6v1.6h-1.6zM142.4 148.0h1.6v1.6h-1.6zM151.3 146.1h1.6v1.6h-1.6zM154.8 133.9h1.6v1.6h-1.6zM120.5 133.0h1.6v1.6h-1.6zM147.9 132.3h1.6v1.6h-1.6zM151.1 147.6h1.6v1.6h-1.6zM126.4 125.6h1.6v1.6h-1.6zM141.9 122.5h1.6v1.6h-1.6zM127.5 143.3h1.6v1.6h-1.6zM137.2 118.1h1.6v1.6h-1.6zM116.5 125.6h1.6v1.6h-1.6zM142.3 130.9h1.6v1.6h-1.6zM144.3 116.0h1.6v1.6h-1.6zM153.9 132.0h1.6v1.6h-1.6zM151.6 128.7h1.6v1.6h-1.6zM148.6 135.2h1.6v1.6h-1.6zM150.8 135.7h1.6v1.6h-1.6zM125.8 122.7h1.6v1.6h-1.6zM125.7 123.7h1.6v1.6h-1.6zM153.1 128.2h1.6v1.6h-1.6zM160.4 136.1h1.6v1.6h-1.6zM161.1 127.1h1.6v1.6h-1.6zM129.7 126.4h1.6v1.6h-1.6zM140.6 134.3h1.6v1.6h-1.6zM122.1 141.9h1.6v1.6h-1.6zM121.7 121.7h1.6v1.6h-1.6zM120.7 126.3h1.6v1.6h-1.6zM123.0 120.9h1.6v1.6h-1.6zM135.1 142.7h1.6v1.6h-1.6zM130.5 127.3h1.6v1.6h-1.6zM155.5 125.6h1.6v1.6h-1.6zM155.2 143.3h1.6v1.6h-1.6zM120.4 137.3h1.6v1.6h-1.6zM139.7 127.2h1.6v1.6h-1.6zM120.0 124.3h1.6v1.6h-1.6zM141.3 119.3h1.6v1.6h-1.6zM119.2 128.9h1.6v1.6h-1.6zM123.9 135.1h1.6v1.6h-1.6zM122.6 132.4h1.6v1.6h-1.6zM151.2 135.7h1.6v1.6h-1.6zM157.1 123.6h1.6v1.6h-1.6zM153.9 143.1h1.6v1.6h-1.6zM125.4 144.9h1.6v1.6h-1.6zM121.8 122.7h1.6v1.6h-1.6zM144.8 126.3h1.6v1.6h-1.6zM143.1 135.2h1.6v1.6h-1.6zM136.5 122.7h1.6v1.6h-1.6zM134.1 145.6h1.6v1.6h-1.6zM129.4 140.8h1.6v1.6h-1.6zM146.6 126.9h1.6v1.6h-1.6zM127.2 140.0h1.6v1.6h-1.6zM124.4 135.5h1.6v1.6h-1.6zM163.2 138.9h1.6v1.6h-1.6zM120.5 135.5h1.6v1.6h-1.6zM157.6 141.1h1.6v1.6h-1.6zM150.0 129.9h1.6v1.6h-1.6zM155.0 142.8h1.6v1.6h-1.6zM123.8 131.1h1.6v1.6h-1.6zM152.3 144.4h1.6v1.6h-1.6zM126.9 116.4h1.6v1.6h-1.6zM149.0 117.9h1.6v1.6h-1.6zM120.6 121.4h1.6v1.6h-1.6zM134.3 147.2h1.6v1.6h-1.6zM121.1 119.6h1.6v1.6h-1.6zM128.0 143.3h1.6v1.6h-1.6zM143.4 121.1h1.6v1.6h-1.6zM124.9 137.5h1.6v1.6h-1.6zM135.3 133.9h1.6v1.6h-1.6zM124.3 121.1h1.6v1.6h-1.6zM163.9 125.7h1.6v1.6h-1.6zM136.2 137.7h1.6v1.6h-1.6zM166.0 137.1h1.6v1.6h-1.6zM149.6 125.6h1.6v1.6h-1.6zM120.5 130.0h1.6v1.6h-1.6zM152.8 147.8h1.6v1.6h-1.6zM139.2 130.9h1.6v1.6h-1.6zM123.9 136.4h1.6v1.6h-1.6zM146.2 136.1h1.6v1.6h-1.6zM122.1 135.6h1.6v1.6h-1.6zM128.2 140.0h1.6v1.6h-1.6zM119.9 133.7h1.6v1.6h-1.6zM122.9 133.5h1.6v1.6h-1.6zM162.0 125.7h1.6v1.6h-1.6zM138.0 142.5h1.6v1.6h-1.6zM145.1 138.8h1.6v1.6h-1.6zM127.5 142.3h1.6v1.6h-1.6zM164.1 125.1h1.6v1.6h-1.6zM149.2 141.4h1.6v1.6h-1.6zM131.3 121.3h1.6v1.6h-1.6zM126.1 122.4h1.6v1.6h-1.6zM131.2 123.0h1.6v1.6h-1.6zM162.9 148.4h1.6v1.6h-1.6zM116.6 123.0h1.6v1.6h-1.6zM129.7 131.0h1.6v1.6h-1.6zM143.1 141.9h1.6v1.6h-1.6zM124.5 147.3h1.6v1.6h-1.6zM122.1 121.5h1.6v1.6h-1.6zM116.7 125.5h1.6v1.6h-1.6zM127.5 129.0h1.6v1.6h-1.6zM115.0 123.3h1.6v1.6h-1.6zM156.3 134.9h1.6v1.6h-1.6zM140.0 142.7h1.6v1.6h-1.6zM129.7 119.6h1.6v1.6h-1.6zM150.4 146.2h1.6v1.6h-1.6zM152.1 147.2h1.6v1.6h-1.6zM151.1 119.3h1.6v1.6h-1.6zM149.1 118.3h1.6v1.6h-1.6zM137.8 125.1h1.6v1.6h-1.6zM165.4 129.2h1.6v1.6h-1.6zM151.4 131.0h1.6v1.6h-1.6zM154.6 122.3h1.6v1.6h-1.6zM158.1 142.9h1.6v1.6h-1.6zM155.4 136.6h1.6v1.6h-1.6zM126.7 114.8h1.6v1.6h-1.6zM142.7 119.5h1.6v1.6h-1.6zM115.3 123.7h1.6v1.6h-1.6zM139.0 126.2h1.6v1.6h-1.6zM116.0 128.7h1.6v1.6h-1.6zM123.1 141.9h1.6v1.6h-1.6zM161.7 140.0h1.6v1.6h-1.6zM153.5 125.9h1.6v1.6h-1.6zM121.5 136.3h1.6v1.6h-1.6zM134.2 140.8h1.6v1.6h-1.6zM145.3 145.2h1.6v1.6h-1.6zM125.9 115.2h1.6v1.6h-1.6zM157.3 142.0h1.6v1.6h-1.6zM143.5 149.0h1.6v1.6h-1.6zM128.6 135.8h1.6v1.6h-1.6zM135.6 128.3h1.6v1.6h-1.6zM140.9 116.9h1.6v1.6h-1.6zM136.4 118.1h1.6v1.6h-1.6zM129.9 118.6h1.6v1.6h-1.6zM154.2 137.9h1.6v1.6h-1.6zM125.4 145.4h1.6v1.6h-1.6zM122.3 129.1h1.6v1.6h-1.6zM132.7 127.2h1.6v1.6h-1.6zM133.6 148.9h1.6v1.6h-1.6zM121.8 134.9h1.6v1.6h-1.6zM123.3 134.8h1.6v1.6h-1.6zM137.6 133.2h1.6v1.6h-1.6zM138.6 139.1h1.6v1.6h-1.6zM123.9 137.8h1.6v1.6h-1.6zM152.7 124.5h1.6v1.6h-1.6zM157.3 134.6h1.6v1.6h-1.6zM149.7 146.1h1.6v1.6h-1.6zM133.7 141.9h1.6v1.6h-1.6zM130.5 119.3h1.6v1.6h-1.6zM155.0 149.2h1.6v1.6h-1.6zM125.9 121.4h1.6v1.6h-1.6zM125.8 125.0h1.6v1.6h-1.6zM138.2 143.0h1.6v1.6h-1.6zM148.1 136.6h1.6v1.6h-1.6zM132.4 132.5h1.6v1.6h-1.6zM152.1 134.9h1.6v1.6h-1.6zM159.3 141.9h1.6v1.6h-1.6zM134.2 134.8h1.6v1.6h-1.6zM134.5 149.3h1.6v1.6h-1.6zM129.9 120.8h1.6v1.6h-1.6zM126.8 123.6h1.6v1.6h-1.6zM157.2 141.7h1.6v1.6h-1.6zM163.3 147.2h1.6v1.6h-1.6zM144.4 119.7h1.6v1.6h-1.6zM153.3 129.8h1.6v1.6h-1.6zM118.4 126.2h1.6v1.6h-1.6zM159.3 125.5h1.6v1.6h-1.6zM161.2 144.7h1.6v1.6h-1.6zM137.2 116.7h1.6v1.6h-1.6zM116.9 121.1h1.6v1.6h-1.6zM126.2 127.6h1.6v1.6h-1.6zM128.8 119.7h1.6v1.6h-1.6zM152.5 118.6h1.6v1.6h-1.6zM138.4 119.5h1.6v1.6h-1.6zM146.9 140.3h1.6v1.6h-1.6zM140.3 145.7h1.6v1.6h-1.6zM119.4 118.6h1.6v1.6h-1.6zM139.7 146.1h1.6v1.6h-1.6zM142.6 141.5h1.6v1.6h-1.6zM138.4 135.3h1.6v1.6h-1.6zM121.6 125.2h1.6v1.6h-1.6zM160.0 133.4h1.6v1.6h-1.6zM124.5 137.8h1.6v1.6h-1.6zM148.2 118.0h1.6v1.6h-1.6zM139.3 124.3h1.6v1.6h-1.6zM126.4 122.3h1.6v1.6h-1.6zM137.8 137.9h1.6v1.6h-1.6zM128.6 130.5h1.6v1.6h-1.6zM165.0 132.6h1.6v1.6h-1.6zM127.2 117.7h1.6v1.6h-1.6zM127.1 126.4h1.6v1.6h-1.6zM149.3 146.0h1.6v1.6h-1.6zM151.1 149.9h1.6v1.6h-1.6zM152.2 137.0h1.6v1.6h-1.6zM149.9 126.7h1.6v1.6h-1.6zM126.6 125.8h1.6v1.6h-1.6zM122.0 132.9h1.6v1.6h-1.6zM148.8 123.2h1.6v1.6h-1.6zM155.1 140.1h1.6v1.6h-1.6zM135.2 145.5h1.6v1.6h-1.6zM152.8 125.3h1.6v1.6h-1.6zM128.3 127.8h1.6v1.6h-1.6zM134.2 141.5h1.6v1.6h-1.6zM124.9 131.6h1.6v1.6h-1.6zM136.7 139.0h1.6v1.6h-1.6zM133.0 143.4h1.6v1.6h-1.6z"/>
<path fill="#82a8d8" d="M67.4 68.6h1.6v1.6h-1.6zM62.0 101.8h1.6v1.6h-1.6zM71.8 110.4h1.6v1.6h-1.6zM69.4 70.8h1.6v1.6h-1.6zM88.7 45.6h1.6v1.6h-1.6zM56.4 101.0h1.6v1.6h-1.6zM72.4 69.1h1.6v1.6h-1.6zM74.4 73.0h1.6v1.6h-1.6zM63.4 63.9h1.6v1.6h-1.6zM66.9 105.2h1.6v1.6h-1.6zM76.8 63.0h1.6v1.6h-1.6zM61.7 96.7h1.6v1.6h-1.6zM69.5 75.1h1.6v1.6h-1.6zM44.3 97.5h1.6v1.6h-1.6zM68.0 105.8h1.6v1.6h-1.6zM54.9 72.2h1.6v1.6h-1.6zM58.8 105.9h1.6v1.6h-1.6zM70.0 61.2h1.6v1.6h-1.6zM53.6 67.3h1.6v1.6h-1.6zM54.1 68.7h1.6v1.6h-1.6zM49.5 97.8h1.6v1.6h-1.6zM67.2 98.3h1.6v1.6h-1.6zM52.4 79.5h1.6v1.6h-1.6zM54.0 92.1h1.6v1.6h-1.6zM71.7 107.0h1.6v1.6h-1.6zM73.1 99.8h1.6v1.6h-1.6zM50.1 99.0h1.6v1.6h-1.6zM57.5 99.9h1.6v1.6h-1.6zM58.4 81.7h1.6v1.6h-1.6zM66.9 109.4h1.6v1.6h-1.6zM62.4 105.0h1.6v1.6h-1.6zM53.1 84.5h1.6v1.6h-1.6zM54.0 72.4h1.6v1.6h-1.6zM65.7 80.5h1.6v1.6h-1.6zM49.8 76.3h1.6v1.6h-1.6zM71.1 78.6h1.6v1.6h-1.6zM66.2 92.1h1.6v1.6h-1.6zM64.6 110.0h1.6v1.6h-1.6zM68.5 110.1h1.6v1.6h-1.6zM82.1 52.2h1.6v1.6h-1.6zM44.9 90.4h1.6v1.6h-1.6zM60.7 77.3h1.6v1.6h-1.6zM66.4 66.7h1.6v1.6h-1.6zM68.3 74.0h1.6v1.6h-1.6zM71.7 79.1h1.6v1.6h-1.6zM61.9 107.8h1.6v1.6h-1.6zM69.1 92.7h1.6v1.6h-1.6zM74.8 72.9h1.6v1.6h-1.6zM72.2 99.9h1.6v1.6h-1.6zM78.2 63.1h1.6v1.6h-1.6zM65.4 102.3h1.6v1.6h-1.6zM60.5 78.7h1.6v1.6h-1.6zM74.8 112.9h1.6v1.6h-1.6zM58.0 102.1h1.6v1.6h-1.6zM61.0 67.3h1.6v1.6h-1.6zM44.8 95.6h1.6v1.6h-1.6zM64.4 78.4h1.6v1.6h-1.6zM51.1 78.6h1.6v1.6h-1.6zM48.2 80.0h1.6v1.6h-1.6zM65.9 102.3h1.6v1.6h-1.6zM69.7 106.5h1.6v1.6h-1.6zM68.5 87.4h1.6v1.6h-1.6zM71.8 91.2h1.6v1.6h-1.6zM65.8 80.8h1.6v1.6h-1.6zM76.8 57.1h1.6v1.6h-1.6zM64.6 91.5h1.6v1.6h-1.6zM77.4 64.2h1.6v1.6h-1.6zM74.2 63.2h1.6v1.6h-1.6zM51.6 84.1h1.6v1.6h-1.6zM48.3 80.0h1.6v1.6h-1.6zM56.7 102.7h1.6v1.6h-1.6zM82.1 50.9h1.6v1.6h-1.6zM58.9 73.1h1.6v1.6h-1.6zM72.0 108.0h1.6v1.6h-1.6zM55.8 95.4h1.6v1.6h-1.6zM73.2 63.9h1.6v1.6h-1.6zM68.4 70.7h1.6v1.6h-1.6zM61.5 80.0h1.6v1.6h-1.6zM60.8 74.4h1.6v1.6h-1.6zM83.7 43.9h1.6v1.6h-1.6zM43.0 93.3h1.6v1.6h-1.6zM66.7 91.3h1.6v1.6h-1.6zM72.8 97.3h1.6v1.6h-1.6zM72.7 64.1h1.6v1.6h-1.6zM72.3 92.5h1.6v1.6h-1.6zM65.6 90.8h1.6v1.6h-1.6zM73.8 108.8h1.6v1.6h-1.6zM57.8 72.5h1.6v1.6h-1.6zM74.5 56.5h1.6v1.6h-1.6zM52.1 97.0h1.6v1.6h-1.6zM73.7 110.5h1.6v1.6h-1.6zM76.9 114.0h1.6v1.6h-1.6zM73.6 69.5h1.6v1.6h-1.6zM58.7 101.4h1.6v1.6h-1.6zM61.3 100.7h1.6v1.6h-1.6zM78.6 45.2h1.6v1.6h-1.6zM62.3 77.8h1.6v1.6h-1.6zM70.9 65.9h1.6v1.6h-1.6zM79.3 48.0h1.6v1.6h-1.6zM51.0 96.4h1.6v1.6h-1.6zM52.8 72.3h1.6v1.6h-1.6zM71.5 90.8h1.6v1.6h-1.6zM69.4 65.8h1.6v1.6h-1.6zM64.4 101.2h1.6v1.6h-1.6zM54.0 98.2h1.6v1.6h-1.6zM70.3 86.9h1.6v1.6h-1.6zM73.0 56.9h1.6v1.6h-1.6zM74.3 55.6h1.6v1.6h-1.6zM61.3 62.7h1.6v1.6h-1.6zM56.5 83.0h1.6v1.6h-1.6zM58.7 72.2h1.6v1.6h-1.6zM62.0 101.3h1.6v1.6h-1.6zM61.1 105.8h1.6v1.6h-1.6zM72.5 107.7h1.6v1.6h-1.6zM59.4 78.6h1.6v1.6h-1.6zM66.7 108.8h1.6v1.6h-1.6zM79.5 58.3h1.6v1.6h-1.6zM61.0 103.2h1.6v1.6h-1.6zM78.1 45.0h1.6v1.6h-1.6zM82.1 50.8h1.6v1.6h-1.6zM70.5 81.8h1.6v1.6h-1.6zM63.1 73.8h1.6v1.6h-1.6zM81.0 52.6h1.6v1.6h-1.6zM65.8 108.4h1.6v1.6h-1.6zM49.6 98.7h1.6v1.6h-1.6zM72.3 68.2h1.6v1.6h-1.6zM69.5 105.8h1.6v1.6h-1.6zM71.9 70.6h1.6v1.6h-1.6zM58.9 97.3h1.6v1.6h-1.6zM77.5 45.8h1.6v1.6h-1.6zM69.8 90.0h1.6v1.6h-1.6zM71.3 73.4h1.6v1.6h-1.6zM66.3 106.7h1.6v1.6h-1.6zM70.0 57.0h1.6v1.6h-1.6zM71.7 76.4h1.6v1.6h-1.6zM68.7 67.5h1.6v1.6h-1.6zM72.7 74.2h1.6v1.6h-1.6zM51.1 86.0h1.6v1.6h-1.6zM80.8 54.9h1.6v1.6h-1.6zM57.7 96.2h1.6v1.6h-1.6zM75.9 61.4h1.6v1.6h-1.6zM68.3 73.7h1.6v1.6h-1.6zM54.3 88.5h1.6v1.6h-1.6zM84.1 43.4h1.6v1.6h-1.6zM72.0 92.1h1.6v1.6h-1.6zM73.7 112.7h1.6v1.6h-1.6zM64.2 102.7h1.6v1.6h-1.6zM62.6 94.4h1.6v1.6h-1.6zM69.1 64.4h1.6v1.6h-1.6zM59.0 101.1h1.6v1.6h-1.6zM72.2 101.6h1.6v1.6h-1.6zM72.0 63.0h1.6v1.6h-1.6zM78.1 57.0h1.6v1.6h-1.6zM55.1 93.8h1.6v1.6h-1.6zM62.6 97.9h1.6v1.6h-1.6zM58.2 93.0h1.6v1.6h-1.6zM65.2 99.6h1.6v1.6h-1.6zM50.3 77.9h1.6v1.6h-1.6zM58.2 102.1h1.6v1.6h-1.6zM46.7 88.1h1.6v1.6h-1.6zM71.9 67.9h1.6v1.6h-1.6zM60.9 70.7h1.6v1.6h-1.6zM84.6 48.5h1.6v1.6h-1.6zM84.5 44.1h1.6v1.6h-1.6zM59.8 105.9h1.6v1.6h-1.6zM52.7 75.4h1.6v1.6h-1.6zM67.2 96.5h1.6v1.6h-1.6zM73.5 95.6h1.6v1.6h-1.6zM60.8 99.2h1.6v1.6h-1.6zM75.0 78.3h1.6v1.6h-1.6zM72.1 75.6h1.6v1.6h-1.6zM48.3 85.7h1.6v1.6h-1.6zM61.0 95.6h1.6v1.6h-1.6zM69.2 96.2h1.6v1.6h-1.6zM72.5 74.9h1.6v1.6h-1.6zM56.6 87.5h1.6v1.6h-1.6zM71.9 60.3h1.6v1.6h-1.6zM61.9 75.0h1.6v1.6h-1.6zM71.5 71.7h1.6v1.6h-1.6zM74.1 109.2h1.6v1.6h-1.6zM50.3 89.4h1.6v1.6h-1.6zM49.2 98.5h1.6v1.6h-1.6zM46.3 83.6h1.6v1.6h-1.6zM67.6 93.9h1.6v1.6h-1.6zM66.2 88.3h1.6v1.6h-1.6zM60.4 97.1h1.6v1.6h-1.6zM61.8 92.5h1.6v1.6h-1.6zM52.3 95.6h1.6v1.6h-1.6zM52.0 99.9h1.6v1.6h-1.6zM47.7 98.1h1.6v1.6h-1.6zM64.2 82.7h1.6v1.6h-1.6zM58.5 88.2h1.6v1.6h-1.6zM64.1 63.5h1.6v1.6h-1.6zM62.2 88.1h1.6v1.6h-1.6zM73.4 68.4h1.6v1.6h-1.6zM73.2 60.3h1.6v1.6h-1.6zM52.7 98.1h1.6v1.6h-1.6zM73.8 106.6h1.6v1.6h-1.6zM51.0 92.1h1.6v1.6h-1.6zM67.1 95.6h1.6v1.6h-1.6zM62.7 105.8h1.6v1.6h-1.6zM68.3 61.3h1.6v1.6h-1.6zM65.2 78.1h1.6v1.6h-1.6zM67.6 104.3h1.6v1.6h-1.6zM73.7 102.7h1.6v1.6h-1.6zM72.3 88.0h1.6v1.6h-1.6zM66.2 77.1h1.6v1.6h-1.6zM66.9 97.7h1.6v1.6h-1.6zM73.1 99.2h1.6v1.6h-1.6zM57.4 65.1h1.6v1.6h-1.6zM72.2 98.7h1.6v1.6h-1.6zM43.3 94.3h1.6v1.6h-1.6zM73.3 99.0h1.6v1.6h-1.6zM71.3 87.4h1.6v1.6h-1.6zM74.4 57.6h1.6v1.6h-1.6zM73.7 75.2h1.6v1.6h-1.6zM78.4 49.6h1.6v1.6h-1.6zM73.2 68.8h1.6v1.6h-1.6zM68.7 60.9h1.6v1.6h-1.6zM56.0 72.6h1.6v1.6h-1.6zM56.8 73.3h1.6v1.6h-1.6zM72.5 109.4h1.6v1.6h-1.6zM70.1 109.7h1.6v1.6h-1.6zM72.7 57.6h1.6v1.6h-1.6zM76.3 59.7h1.6v1.6h-1.6zM77.0 55.8h1.6v1.6h-1.6zM71.9 93.3h1.6v1.6h-1.6zM63.7 109.3h1.6v1.6h-1.6zM81.0 48.0h1.6v1.6h-1.6zM56.5 94.7h1.6v1.6h-1.6zM62.7 91.0h1.6v1.6h-1.6zM59.0 88.7h1.6v1.6h-1.6zM71.9 72.4h1.6v1.6h-1.6zM60.1 98.8h1.6v1.6h-1.6zM68.9 63.3h1.6v1.6h-1.6zM70.6 64.5h1.6v1.6h-1.6zM62.2 106.2h1.6v1.6h-1.6zM59.7 91.5h1.6v1.6h-1.6zM70.6 106.7h1.6v1.6h-1.6zM69.1 62.0h1.6v1.6h-1.6zM74.6 108.0h1.6v1.6h-1.6zM68.3 99.6h1.6v1.6h-1.6zM51.1 96.2h1.6v1.6h-1.6zM70.8 91.0h1.6v1.6h-1.6zM53.8 96.3h1.6v1.6h-1.6zM78.9 59.0h1.6v1.6h-1.6zM69.5 106.8h1.6v1.6h-1.6zM64.5 84.7h1.6v1.6h-1.6zM46.5 87.8h1.6v1.6h-1.6zM70.4 67.1h1.6v1.6h-1.6zM68.9 61.1h1.6v1.6h-1.6zM68.4 104.9h1.6v1.6h-1.6zM70.4 70.9h1.6v1.6h-1.6zM53.9 82.9h1.6v1.6h-1.6zM72.5 111.1h1.6v1.6h-1.6zM73.9 70.6h1.6v1.6h-1.6zM82.0 45.7h1.6v1.6h-1.6zM74.2 63.8h1.6v1.6h-1.6zM70.1 96.8h1.6v1.6h-1.6zM76.2 56.3h1.6v1.6h-1.6zM54.3 71.9h1.6v1.6h-1.6zM64.6 62.9h1.6v1.6h-1.6zM84.9 46.4h1.6v1.6h-1.6zM76.6 63.4h1.6v1.6h-1.6zM50.4 73.6h1.6v1.6h-1.6zM50.1 97.7h1.6v1.6h-1.6zM75.9 56.4h1.6v1.6h-1.6zM70.9 77.9h1.6v1.6h-1.6zM71.1 93.2h1.6v1.6h-1.6zM76.4 46.3h1.6v1.6h-1.6zM59.4 85.1h1.6v1.6h-1.6zM47.3 93.7h1.6v1.6h-1.6zM59.9 96.3h1.6v1.6h-1.6zM53.5 101.1h1.6v1.6h-1.6zM75.3 56.3h1.6v1.6h-1.6zM70.1 104.2h1.6v1.6h-1.6zM48.5 83.5h1.6v1.6h-1.6zM53.5 72.7h1.6v1.6h-1.6zM72.1 68.5h1.6v1.6h-1.6zM62.4 78.6h1.6v1.6h-1.6zM84.3 44.8h1.6v1.6h-1.6zM72.5 61.4h1.6v1.6h-1.6zM74.3 62.0h1.6v1.6h-1.6zM67.7 108.8h1.6v1.6h-1.6zM71.5 60.3h1.6v1.6h-1.6zM66.6 73.5h1.6v1.6h-1.6zM56.2 88.9h1.6v1.6h-1.6zM54.4 75.8h1.6v1.6h-1.6zM55.6 71.5h1.6v1.6h-1.6zM51.2 93.4h1.6v1.6h-1.6zM60.0 84.4h1.6v1.6h-1.6zM68.4 77.6h1.6v1.6h-1.6zM55.7 97.8h1.6v1.6h-1.6zM62.7 95.2h1.6v1.6h-1.6zM58.5 90.9h1.6v1.6h-1.6zM71.3 103.4h1.6v1.6h-1.6zM69.1 72.3h1.6v1.6h-1.6zM70.9 69.6h1.6v1.6h-1.6zM76.5 63.4h1.6v1.6h-1.6zM65.6 74.2h1.6v1.6h-1.6zM62.1 107.8h1.6v1.6h-1.6zM68.8 78.1h1.6v1.6h-1.6zM74.6 70.3h1.6v1.6h-1.6zM74.2 80.1h1.6v1.6h-1.6zM69.2 105.6h1.6v1.6h-1.6zM67.1 101.0h1.6v1.6h-1.6zM72.0 85.7h1.6v1.6h-1.6zM61.4 98.9h1.6v1.6h-1.6zM73.8 56.4h1.6v1.6h-1.6zM78.2 50.0h1.6v1.6h-1.6zM66.7 101.5h1.6v1.6h-1.6zM71.1 100.3h1.6v1.6h-1.6zM76.1 67.7h1.6v1.6h-1.6zM69.6 67.4h1.6v1.6h-1.6zM69.7 111.3h1.6v1.6h-1.6zM70.6 111.3h1.6v1.6h-1.6zM65.4 110.6h1.6v1.6h-1.6zM53.2 70.3h1.6v1.6h-1.6zM64.9 99.3h1.6v1.6h-1.6zM67.3 70.0h1.6v1.6h-1.6zM73.6 66.8h1.6v1.6h-1.6zM49.0 93.1h1.6v1.6h-1.6zM81.9 51.5h1.6v1.6h-1.6zM62.9 102.4h1.6v1.6h-1.6zM80.4 53.7h1.6v1.6h-1.6zM58.5 94.2h1.6v1.6h-1.6zM75.7 61.0h1.6v1.6h-1.6zM70.9 57.6h1.6v1.6h-1.6zM83.7 51.1h1.6v1.6h-1.6zM66.3 81.3h1.6v1.6h-1.6zM54.5 97.8h1.6v1.6h-1.6zM68.9 64.6h1.6v1.6h-1.6zM57.0 90.0h1.6v1.6h-1.6zM58.9 78.3h1.6v1.6h-1.6zM47.5 93.8h1.6v1.6h-1.6zM42.8 91.2h1.6v1.6h-1.6zM73.6 67.6h1.6v1.6h-1.6zM75.3 60.2h1.6v1.6h-1.6zM56.1 69.7h1.6v1.6h-1.6zM72.4 55.2h1.6v1.6h-1.6zM46.8 99.2h1.6v1.6h-1.6zM77.8 48.5h1.6v1.6h-1.6zM75.1 70.6h1.6v1.6h-1.6zM71.9 74.9h1.6v1.6h-1.6zM62.2 79.1h1.6v1.6h-1.6zM78.4 45.4h1.6v1.6h-1.6zM54.1 81.6h1.6v1.6h-1.6zM67.8 60.3h1.6v1.6h-1.6zM57.6 100.9h1.6v1.6h-1.6zM68.0 97.0h1.6v1.6h-1.6zM70.4 75.5h1.6v1.6h-1.6zM45.5 93.9h1.6v1.6h-1.6zM71.8 109.5h1.6v1.6h-1.6zM73.1 60.4h1.6v1.6h-1.6zM49.6 98.7h1.6v1.6h-1.6zM59.3 102.1h1.6v1.6h-1.6zM55.1 89.9h1.6v1.6h-1.6zM68.7 67.3h1.6v1.6h-1.6zM57.1 75.4h1.6v1.6h-1.6zM80.7 46.6h1.6v1.6h-1.6zM74.2 86.1h1.6v1.6h-1.6zM55.8 83.4h1.6v1.6h-1.6zM72.8 63.8h1.6v1.6h-1.6zM45.5 89.8h1.6v1.6h-1.6zM68.8 70.8h1.6v1.6h-1.6zM67.1 60.4h1.6v1.6h-1.6zM62.7 104.4h1.6v1.6h-1.6zM68.1 93.7h1.6v1.6h-1.6zM78.1 50.5h1.6v1.6h-1.6zM79.0 52.1h1.6v1.6h-1.6zM75.7 72.9h1.6v1.6h-1.6zM58.0 97.2h1.6v1.6h-1.6zM74.4 101.7h1.6v1.6h-1.6zM68.0 100.0h1.6v1.6h-1.6zM74.1 60.6h1.6v1.6h-1.6zM50.4 82.2h1.6v1.6h-1.6zM55.5 91.7h1.6v1.6h-1.6zM87.4 43.3h1.6v1.6h-1.6zM65.7 105.1h1.6v1.6h-1.6zM80.2 44.8h1.6v1.6h-1.6zM50.2 101.1h1.6v1.6h-1.6zM74.4 70.5h1.6v1.6h-1.6zM73.9 61.9h1.6v1.6h-1.6zM54.7 78.3h1.6v1.6h-1.6zM54.1 83.2h1.6v1.6h-1.6zM67.0 111.1h1.6v1.6h-1.6zM68.6 97.7h1.6v1.6h-1.6zM72.1 87.9h1.6v1.6h-1.6zM56.1 97.2h1.6v1.6h-1.6zM72.2 67.5h1.6v1.6h-1.6zM64.8 68.7h1.6v1.6h-1.6zM63.4 74.3h1.6v1.6h-1.6zM58.7 98.0h1.6v1.6h-1.6zM62.2 104.7h1.6v1.6h-1.6zM75.6 58.0h1.6v1.6h-1.6zM70.6 104.4h1.6v1.6h-1.6zM72.8 56.4h1.6v1.6h-1.6zM50.5 80.9h1.6v1.6h-1.6zM57.2 96.2h1.6v1.6h-1.6zM72.9 71.4h1.6v1.6h-1.6zM74.3 66.6h1.6v1.6h-1.6zM57.6 77.8h1.6v1.6h-1.6zM70.4 60.8h1.6v1.6h-1.6zM89.3 46.3h1.6v1.6h-1.6zM71.2 94.4h1.6v1.6h-1.6zM67.5 84.6h1.6v1.6h-1.6zM68.3 89.6h1.6v1.6h-1.6zM77.3 60.8h1.6v1.6h-1.6zM63.4 62.3h1.6v1.6h-1.6zM66.8 110.0h1.6v1.6h-1.6zM78.1 48.8h1.6v1.6h-1.6zM79.1 59.7h1.6v1.6h-1.6zM72.3 67.0h1.6v1.6h-1.6zM46.6 95.0h1.6v1.6h-1.6zM44.6 88.7h1.6v1.6h-1.6zM60.9 104.4h1.6v1.6h-1.6zM54.1 73.5h1.6v1.6h-1.6zM51.9 83.2h1.6v1.6h-1.6zM55.1 66.1h1.6v1.6h-1.6zM64.9 106.4h1.6v1.6h-1.6zM70.4 74.9h1.6v1.6h-1.6zM69.5 105.8h1.6v1.6h-1.6zM58.9 98.4h1.6v1.6h-1.6zM48.7 95.2h1.6v1.6h-1.6zM52.8 99.3h1.6v1.6h-1.6zM50.1 91.6h1.6v1.6h-1.6zM48.6 95.4h1.6v1.6h-1.6zM58.5 78.0h1.6v1.6h-1.6zM67.8 81.8h1.6v1.6h-1.6zM74.9 112.9h1.6v1.6h-1.6zM60.8 65.2h1.6v1.6h-1.6zM70.9 108.9h1.6v1.6h-1.6zM75.1 65.6h1.6v1.6h-1.6zM52.8 87.6h1.6v1.6h-1.6zM75.9 70.6h1.6v1.6h-1.6zM74.2 65.5h1.6v1.6h-1.6zM71.9 81.3h1.6v1.6h-1.6zM52.2 86.3h1.6v1.6h-1.6zM64.4 94.2h1.6v1.6h-1.6zM66.8 80.2h1.6v1.6h-1.6zM83.5 45.4h1.6v1.6h-1.6zM59.9 102.1h1.6v1.6h-1.6zM75.1 74.6h1.6v1.6h-1.6zM64.6 99.7h1.6v1.6h-1.6zM78.2 53.1h1.6v1.6h-1.6zM74.4 68.7h1.6v1.6h-1.6zM66.7 59.4h1.6v1.6h-1.6zM59.4 66.8h1.6v1.6h-1.6zM51.1 83.3h1.6v1.6h-1.6zM81.9 48.9h1.6v1.6h-1.6zM72.3 104.1h1.6v1.6h-1.6zM62.9 68.7h1.6v1.6h-1.6zM76.0 63.5h1.6v1.6h-1.6zM60.1 83.9h1.6v1.6h-1.6zM59.5 90.2h1.6v1.6h-1.6zM66.9 78.0h1.6v1.6h-1.6zM64.4 106.3h1.6v1.6h-1.6zM62.7 77.6h1.6v1.6h-1.6zM66.2 101.6h1.6v1.6h-1.6zM74.4 82.1h1.6v1.6h-1.6zM44.1 91.3h1.6v1.6h-1.6zM61.7 84.3h1.6v1.6h-1.6zM67.4 69.2h1.6v1.6h-1.6zM69.7 68.6h1.6v1.6h-1.6zM67.3 71.7h1.6v1.6h-1.6zM68.8 65.6h1.6v1.6h-1.6zM54.7 99.5h1.6v1.6h-1.6zM63.0 105.4h1.6v1.6h-1.6zM61.5 89.7h1.6v1.6h-1.6zM82.2 53.2h1.6v1.6h-1.6zM59.8 88.4h1.6v1.6h-1.6zM81.6 51.1h1.6v1.6h-1.6zM86.5 49.0h1.6v1.6h-1.6zM64.9 104.4h1.6v1.6h-1.6zM70.4 81.2h1.6v1.6h-1.6zM86.2 44.6h1.6v1.6h-1.6zM70.4 111.9h1.6v1.6h-1.6zM53.4 95.7h1.6v1.6h-1.6zM50.1 98.9h1.6v1.6h-1.6zM68.2 99.0h1.6v1.6h-1.6zM70.3 75.5h1.6v1.6h-1.6zM58.5 69.2h1.6v1.6h-1.6zM73.6 54.1h1.6v1.6h-1.6zM57.5 102.9h1.6v1.6h-1.6zM65.5 80.8h1.6v1.6h-1.6zM66.0 68.7h1.6v1.6h-1.6zM51.0 71.3h1.6v1.6h-1.6zM65.7 106.3h1.6v1.6h-1.6zM65.1 99.2h1.6v1.6h-1.6zM69.1 91.8h1.6v1.6h-1.6zM52.5 96.2h1.6v1.6h-1.6zM66.5 63.3h1.6v1.6h-1.6zM84.6 48.4h1.6v1.6h-1.6zM70.3 98.7h1.6v1.6h-1.6zM53.3 85.4h1.6v1.6h-1.6zM71.4 92.0h1.6v1.6h-1.6zM86.1 43.1h1.6v1.6h-1.6zM53.3 95.1h1.6v1.6h-1.6zM74.3 53.2h1.6v1.6h-1.6zM64.7 78.1h1.6v1.6h-1.6zM51.1 87.2h1.6v1.6h-1.6zM45.9 93.9h1.6v1.6h-1.6zM70.0 73.6h1.6v1.6h-1.6zM53.6 102.6h1.6v1.6h-1.6zM65.3 107.6h1.6v1.6h-1.6zM60.4 98.7h1.6v1.6h-1.6zM73.0 102.4h1.6v1.6h-1.6zM70.7 75.2h1.6v1.6h-1.6zM58.6 103.0h1.6v1.6h-1.6zM71.4 63.3h1.6v1.6h-1.6zM75.4 74.1h1.6v1.6h-1.6zM73.5 100.3h1.6v1.6h-1.6zM47.3 91.4h1.6v1.6h-1.6zM71.0 106.6h1.6v1.6h-1.6zM60.5 78.2h1.6v1.6h-1.6zM63.4 100.5h1.6v1.6h-1.6zM53.6 67.6h1.6v1.6h-1.6zM58.9 89.8h1.6v1.6h-1.6zM72.0 69.3h1.6v1.6h-1.6zM63.1 96.3h1.6v1.6h-1.6zM60.4 96.0h1.6v1.6h-1.6zM72.5 62.5h1.6v1.6h-1.6zM78.4 63.2h1.6v1.6h-1.6zM67.8 72.5h1.6v1.6h-1.6zM69.3 101.7h1.6v1.6h-1.6zM48.2 79.4h1.6v1.6h-1.6zM77.2 54.6h1.6v1.6h-1.6zM57.0 73.8h1.6v1.6h-1.6zM60.5 70.0h1.6v1.6h-1.6zM63.2 102.5h1.6v1.6h-1.6zM72.3 98.3h1.6v1.6h-1.6zM68.5 90.5h1.6v1.6h-1.6zM77.9 62.1h1.6v1.6h-1.6zM67.1 63.0h1.6v1.6h-1.6zM72.0 61.0h1.6v1.6h-1.6zM78.8 45.3h1.6v1.6h-1.6zM61.4 100.4h1.6v1.6h-1.6zM72.7 111.8h1.6v1.6h-1.6zM67.2 79.8h1.6v1.6h-1.6zM73.9 107.1h1.6v1.6h-1.6zM65.8 103.6h1.6v1.6h-1.6zM73.8 83.8h1.6v1.6h-1.6zM61.0 83.6h1.6v1.6h-1.6zM54.7 103.0h1.6v1.6h-1.6zM48.7 90.6h1.6v1.6h-1.6zM72.9 105.5h1.6v1.6h-1.6zM47.8 92.9h1.6v1.6h-1.6zM70.7 101.6h1.6v1.6h-1.6zM74.2 112.4h1.6v1.6h-1.6zM52.0 99.4h1.6v1.6h-1.6zM72.0 94.4h1.6v1.6h-1.6zM69.8 71.1h1.6v1.6h-1.6zM89.2 47.4h1.6v1.6h-1.6zM63.4 91.4h1.6v1.6h-1.6zM60.9 62.6h1.6v1.6h-1.6zM50.8 95.2h1.6v1.6h-1.6zM68.6 92.7h1.6v1.6h-1.6zM54.2 67.9h1.6v1.6h-1.6zM48.9 98.2h1.6v1.6h-1.6zM64.5 101.4h1.6v1.6h-1.6zM68.7 78.8h1.6v1.6h-1.6zM51.8 84.4h1.6v1.6h-1.6zM71.7 106.0h1.6v1.6h-1.6zM64.9 88.3h1.6v1.6h-1.6zM63.5 84.4h1.6v1.6h-1.6zM76.5 46.2h1.6v1.6h-1.6zM64.2 71.1h1.6v1.6h-1.6zM75.0 76.2h1.6v1.6h-1.6zM72.1 95.6h1.6v1.6h-1.6zM78.1 49.8h1.6v1.6h-1.6zM50.5 100.3h1.6v1.6h-1.6zM49.3 79.1h1.6v1.6h-1.6zM46.5 98.9h1.6v1.6h-1.6zM68.4 101.4h1.6v1.6h-1.6zM65.8 86.9h1.6v1.6h-1.6zM70.2 99.8h1.6v1.6h-1.6zM67.9 63.2h1.6v1.6h-1.6zM77.5 44.0h1.6v1.6h-1.6zM82.5 49.6h1.6v1.6h-1.6zM61.2 86.2h1.6v1.6h-1.6zM72.9 108.2h1.6v1.6h-1.6zM74.4 103.4h1.6v1.6h-1.6zM62.3 105.4h1.6v1.6h-1.6zM62.8 93.1h1.6v1.6h-1.6zM58.3 65.6h1.6v1.6h-1.6zM77.9 62.0h1.6v1.6h-1.6zM53.5 72.0h1.6v1.6h-1.6zM67.5 109.7h1.6v1.6h-1.6zM74.9 111.9h1.6v1.6h-1.6zM76.1 113.5h1.6v1.6h-1.6zM70.1 89.5h1.6v1.6h-1.6zM70.4 92.3h1.6v1.6h-1.6zM54.7 97.6h1.6v1.6h-1.6zM56.1 71.7h1.6v1.6h-1.6zM74.8 74.3h1.6v1.6h-1.6zM76.7 49.1h1.6v1.6h-1.6zM81.8 44.5h1.6v1.6h-1.6zM73.9 62.3h1.6v1.6h-1.6zM73.4 84.5h1.6v1.6h-1.6zM73.5 55.3h1.6v1.6h-1.6zM73.0 83.3h1.6v1.6h-1.6zM59.0 94.3h1.6v1.6h-1.6zM53.4 99.5h1.6v1.6h-1.6zM78.5 58.4h1.6v1.6h-1.6zM72.5 76.2h1.6v1.6h-1.6zM83.6 45.9h1.6v1.6h-1.6zM73.6 102.4h1.6v1.6h-1.6zM76.9 47.7h1.6v1.6h-1.6zM63.4 65.2h1.6v1.6h-1.6zM73.1 79.3h1.6v1.6h-1.6zM70.7 89.1h1.6v1.6h-1.6zM48.4 100.1h1.6v1.6h-1.6zM52.4 85.3h1.6v1.6h-1.6zM50.7 96.1h1.6v1.6h-1.6zM60.9 91.1h1.6v1.6h-1.6zM66.2 110.5h1.6v1.6h-1.6zM71.5 57.9h1.6v1.6h-1.6zM57.0 71.6h1.6v1.6h-1.6zM58.0 90.4h1.6v1.6h-1.6zM68.7 93.5h1.6v1.6h-1.6zM84.4 46.4h1.6v1.6h-1.6zM61.2 106.2h1.6v1.6h-1.6zM73.1 79.2h1.6v1.6h-1.6zM73.3 84.5h1.6v1.6h-1.6zM52.9 68.6h1.6v1.6h-1.6zM66.8 91.0h1.6v1.6h-1.6zM45.0 95.6h1.6v1.6h-1.6zM71.7 76.2h1.6v1.6h-1.6zM74.0 99.8h1.6v1.6h-1.6zM84.5 95.5h1.6v1.6h-1.6zM75.6 85.4h1.6v1.6h-1.6zM86.9 61.2h1.6v1.6h-1.6zM86.8 56.5h1.6v1.6h-1.6zM86.7 71.1h1.6v1.6h-1.6zM80.4 112.0h1.6v1.6h-1.6zM80.0 102.2h1.6v1.6h-1.6zM95.2 98.9h1.6v1.6h-1.6zM96.7 109.6h1.6v1.6h-1.6zM79.9 91.1h1.6v1.6h-1.6zM87.5 69.5h1.6v1.6h-1.6zM83.3 62.3h1.6v1.6h-1.6zM91.5 75.9h1.6v1.6h-1.6zM91.4 93.4h1.6v1.6h-1.6zM83.7 60.2h1.6v1.6h-1.6zM84.4 82.5h1.6v1.6h-1.6zM87.3 97.7h1.6v1.6h-1.6zM91.2 95.5h1.6v1.6h-1.6zM82.6 106.7h1.6v1.6h-1.6zM76.5 70.9h1.6v1.6h-1.6zM85.7 79.8h1.6v1.6h-1.6zM92.2 109.7h1.6v1.6h-1.6zM84.8 114.0h1.6v1.6h-1.6zM92.5 114.8h1.6v1.6h-1.6zM96.0 109.9h1.6v1.6h-1.6zM88.0 89.8h1.6v1.6h-1.6zM82.5 88.5h1.6v1.6h-1.6zM87.6 74.5h1.6v1.6h-1.6zM84.4 85.8h1.6v1.6h-1.6zM95.9 104.7h1.6v1.6h-1.6zM96.2 111.7h1.6v1.6h-1.6zM75.7 100.0h1.6v1.6h-1.6zM80.2 102.5h1.6v1.6h-1.6zM88.1 96.3h1.6v1.6h-1.6z"/>
<path fill="#bdd3ee" d="M50.2 84.1h1.6v1.6h-1.6zM56.6 84.4h1.6v1.6h-1.6zM53.2 83.6h1.6v1.6h-1.6zM48.8 77.5h1.6v1.6h-1.6zM43.3 90.3h1.6v1.6h-1.6zM64.4 90.1h1.6v1.6h-1.6zM44.3 92.7h1.6v1.6h-1.6zM60.1 90.4h1.6v1.6h-1.6zM60.4 105.0h1.6v1.6h-1.6zM52.7 77.2h1.6v1.6h-1.6zM59.3 83.0h1.6v1.6h-1.6zM66.4 86.7h1.6v1.6h-1.6zM60.4 71.0h1.6v1.6h-1.6zM46.4 87.9h1.6v1.6h-1.6zM64.0 77.1h1.6v1.6h-1.6zM81.6 53.9h1.6v1.6h-1.6zM45.5 89.8h1.6v1.6h-1.6zM76.6 54.5h1.6v1.6h-1.6zM58.6 75.2h1.6v1.6h-1.6zM69.7 107.3h1.6v1.6h-1.6zM57.2 79.6h1.6v1.6h-1.6zM68.3 98.7h1.6v1.6h-1.6zM68.6 96.9h1.6v1.6h-1.6zM63.3 80.6h1.6v1.6h-1.6zM48.9 93.8h1.6v1.6h-1.6zM73.4 52.6h1.6v1.6h-1.6zM63.4 66.7h1.6v1.6h-1.6zM68.2 108.9h1.6v1.6h-1.6zM67.0 59.4h1.6v1.6h-1.6zM50.6 76.4h1.6v1.6h-1.6zM55.6 75.3h1.6v1.6h-1.6zM56.4 67.9h1.6v1.6h-1.6zM69.8 80.3h1.6v1.6h-1.6zM60.3 65.7h1.6v1.6h-1.6zM77.1 60.4h1.6v1.6h-1.6zM65.4 69.8h1.6v1.6h-1.6zM66.5 75.7h1.6v1.6h-1.6zM63.2 61.6h1.6v1.6h-1.6zM63.3 64.0h1.6v1.6h-1.6zM59.5 70.5h1.6v1.6h-1.6zM64.3 67.0h1.6v1.6h-1.6zM69.0 106.1h1.6v1.6h-1.6zM59.7 66.6h1.6v1.6h-1.6zM65.8 87.6h1.6v1.6h-1.6zM63.6 82.0h1.6v1.6h-1.6zM66.8 84.2h1.6v1.6h-1.6zM56.0 75.4h1.6v1.6h-1.6zM52.2 72.3h1.6v1.6h-1.6zM77.6 44.6h1.6v1.6h-1.6zM59.5 66.1h1.6v1.6h-1.6zM55.0 67.6h1.6v1.6h-1.6zM84.9 44.5h1.6v1.6h-1.6zM54.1 93.8h1.6v1.6h-1.6zM87.1 44.0h1.6v1.6h-1.6zM52.7 76.5h1.6v1.6h-1.6zM56.9 68.3h1.6v1.6h-1.6zM68.9 69.1h1.6v1.6h-1.6zM77.2 56.6h1.6v1.6h-1.6zM52.0 68.8h1.6v1.6h-1.6zM53.8 85.4h1.6v1.6h-1.6zM60.6 81.9h1.6v1.6h-1.6zM49.3 92.3h1.6v1.6h-1.6zM76.7 56.9h1.6v1.6h-1.6zM45.7 87.0h1.6v1.6h-1.6zM81.4 53.8h1.6v1.6h-1.6zM52.0 71.0h1.6v1.6h-1.6zM66.5 69.9h1.6v1.6h-1.6zM71.8 64.3h1.6v1.6h-1.6zM61.8 84.2h1.6v1.6h-1.6zM62.0 89.7h1.6v1.6h-1.6zM65.8 69.5h1.6v1.6h-1.6zM78.1 53.7h1.6v1.6h-1.6zM65.9 65.2h1.6v1.6h-1.6zM74.4 106.7h1.6v1.6h-1.6zM52.3 84.3h1.6v1.6h-1.6zM46.0 88.2h1.6v1.6h-1.6zM66.0 88.4h1.6v1.6h-1.6zM51.7 87.1h1.6v1.6h-1.6zM56.9 72.8h1.6v1.6h-1.6zM59.2 65.4h1.6v1.6h-1.6zM83.2 48.8h1.6v1.6h-1.6zM81.2 54.5h1.6v1.6h-1.6zM45.3 99.0h1.6v1.6h-1.6zM58.3 65.8h1.6v1.6h-1.6zM49.6 73.8h1.6v1.6h-1.6zM50.9 88.2h1.6v1.6h-1.6zM51.6 91.5h1.6v1.6h-1.6zM54.7 71.0h1.6v1.6h-1.6zM56.0 76.8h1.6v1.6h-1.6zM70.9 98.5h1.6v1.6h-1.6zM64.1 82.7h1.6v1.6h-1.6zM59.6 72.4h1.6v1.6h-1.6zM88.0 47.7h1.6v1.6h-1.6zM74.5 109.3h1.6v1.6h-1.6zM84.9 44.7h1.6v1.6h-1.6zM57.8 104.3h1.6v1.6h-1.6zM59.2 76.4h1.6v1.6h-1.6zM51.6 73.6h1.6v1.6h-1.6zM61.9 82.1h1.6v1.6h-1.6zM65.8 61.8h1.6v1.6h-1.6zM55.9 84.5h1.6v1.6h-1.6zM76.8 48.4h1.6v1.6h-1.6zM59.2 83.6h1.6v1.6h-1.6zM48.4 99.6h1.6v1.6h-1.6zM57.5 85.9h1.6v1.6h-1.6zM61.9 84.5h1.6v1.6h-1.6zM50.2 92.7h1.6v1.6h-1.6zM59.0 82.9h1.6v1.6h-1.6zM60.9 79.5h1.6v1.6h-1.6zM79.6 53.5h1.6v1.6h-1.6zM85.5 46.9h1.6v1.6h-1.6zM53.8 67.6h1.6v1.6h-1.6zM63.3 66.7h1.6v1.6h-1.6zM49.5 77.6h1.6v1.6h-1.6zM73.8 57.5h1.6v1.6h-1.6zM63.0 79.4h1.6v1.6h-1.6zM57.0 93.4h1.6v1.6h-1.6zM66.3 80.4h1.6v1.6h-1.6zM69.4 79.9h1.6v1.6h-1.6zM75.5 49.7h1.6v1.6h-1.6zM65.3 78.3h1.6v1.6h-1.6zM77.6 54.1h1.6v1.6h-1.6zM60.3 72.5h1.6v1.6h-1.6zM47.2 85.0h1.6v1.6h-1.6zM69.1 89.1h1.6v1.6h-1.6zM63.8 81.7h1.6v1.6h-1.6zM71.1 76.0h1.6v1.6h-1.6zM52.1 79.1h1.6v1.6h-1.6zM63.3 75.2h1.6v1.6h-1.6zM60.3 82.2h1.6v1.6h-1.6zM60.0 65.5h1.6v1.6h-1.6zM48.4 83.7h1.6v1.6h-1.6zM66.5 79.5h1.6v1.6h-1.6zM58.7 85.1h1.6v1.6h-1.6zM60.8 82.7h1.6v1.6h-1.6zM62.7 87.2h1.6v1.6h-1.6zM66.2 78.6h1.6v1.6h-1.6zM56.3 92.0h1.6v1.6h-1.6zM65.5 82.1h1.6v1.6h-1.6zM54.3 88.8h1.6v1.6h-1.6zM69.3 71.9h1.6v1.6h-1.6zM63.2 70.0h1.6v1.6h-1.6zM62.7 86.9h1.6v1.6h-1.6zM76.2 58.2h1.6v1.6h-1.6zM60.1 89.6h1.6v1.6h-1.6zM55.1 71.3h1.6v1.6h-1.6zM61.4 89.7h1.6v1.6h-1.6zM71.9 55.4h1.6v1.6h-1.6zM76.2 60.6h1.6v1.6h-1.6zM62.5 91.5h1.6v1.6h-1.6zM44.0 92.5h1.6v1.6h-1.6zM66.4 74.3h1.6v1.6h-1.6zM48.3 82.8h1.6v1.6h-1.6zM49.6 90.2h1.6v1.6h-1.6zM51.0 92.7h1.6v1.6h-1.6zM57.1 76.0h1.6v1.6h-1.6zM50.4 88.2h1.6v1.6h-1.6zM59.3 81.9h1.6v1.6h-1.6zM68.9 87.5h1.6v1.6h-1.6zM65.4 78.2h1.6v1.6h-1.6zM74.8 54.1h1.6v1.6h-1.6zM66.4 72.6h1.6v1.6h-1.6zM57.8 73.8h1.6v1.6h-1.6zM73.7 101.7h1.6v1.6h-1.6zM55.7 74.2h1.6v1.6h-1.6zM74.3 74.5h1.6v1.6h-1.6zM59.4 84.1h1.6v1.6h-1.6zM61.6 80.4h1.6v1.6h-1.6zM65.1 82.1h1.6v1.6h-1.6zM52.4 83.5h1.6v1.6h-1.6zM79.0 46.4h1.6v1.6h-1.6zM52.9 69.1h1.6v1.6h-1.6zM49.5 95.9h1.6v1.6h-1.6zM50.8 74.4h1.6v1.6h-1.6zM64.1 83.8h1.6v1.6h-1.6zM60.2 67.7h1.6v1.6h-1.6zM68.1 71.5h1.6v1.6h-1.6zM69.0 64.0h1.6v1.6h-1.6zM78.6 48.8h1.6v1.6h-1.6zM70.6 66.1h1.6v1.6h-1.6zM64.5 89.4h1.6v1.6h-1.6zM49.2 91.4h1.6v1.6h-1.6zM61.2 82.3h1.6v1.6h-1.6zM60.2 70.0h1.6v1.6h-1.6zM53.8 86.2h1.6v1.6h-1.6zM85.5 45.9h1.6v1.6h-1.6zM72.7 81.8h1.6v1.6h-1.6zM66.9 86.4h1.6v1.6h-1.6zM66.7 76.6h1.6v1.6h-1.6zM63.7 88.4h1.6v1.6h-1.6zM81.1 51.1h1.6v1.6h-1.6zM76.2 62.0h1.6v1.6h-1.6zM51.2 72.7h1.6v1.6h-1.6zM61.2 88.9h1.6v1.6h-1.6zM63.8 75.5h1.6v1.6h-1.6zM44.1 92.0h1.6v1.6h-1.6zM57.6 79.6h1.6v1.6h-1.6zM66.2 72.5h1.6v1.6h-1.6zM63.9 77.5h1.6v1.6h-1.6zM80.3 56.7h1.6v1.6h-1.6zM55.5 93.4h1.6v1.6h-1.6zM83.2 47.5h1.6v1.6h-1.6zM82.1 52.8h1.6v1.6h-1.6zM74.7 53.4h1.6v1.6h-1.6zM44.1 92.3h1.6v1.6h-1.6zM69.6 65.2h1.6v1.6h-1.6zM52.2 81.5h1.6v1.6h-1.6zM55.5 67.3h1.6v1.6h-1.6zM57.6 74.6h1.6v1.6h-1.6zM46.1 88.8h1.6v1.6h-1.6zM47.8 83.9h1.6v1.6h-1.6zM84.0 50.7h1.6v1.6h-1.6zM49.4 80.8h1.6v1.6h-1.6zM69.5 59.1h1.6v1.6h-1.6zM77.6 52.0h1.6v1.6h-1.6zM57.9 85.1h1.6v1.6h-1.6zM81.7 54.0h1.6v1.6h-1.6zM45.1 87.2h1.6v1.6h-1.6zM66.7 90.9h1.6v1.6h-1.6zM77.8 44.8h1.6v1.6h-1.6zM48.4 84.5h1.6v1.6h-1.6zM55.8 69.8h1.6v1.6h-1.6zM72.1 92.1h1.6v1.6h-1.6zM58.0 70.5h1.6v1.6h-1.6zM68.3 100.4h1.6v1.6h-1.6zM71.9 66.8h1.6v1.6h-1.6zM57.5 83.2h1.6v1.6h-1.6zM66.2 84.6h1.6v1.6h-1.6zM66.4 73.8h1.6v1.6h-1.6zM51.0 92.9h1.6v1.6h-1.6zM49.3 87.8h1.6v1.6h-1.6zM46.4 84.8h1.6v1.6h-1.6zM72.3 93.1h1.6v1.6h-1.6zM53.0 89.0h1.6v1.6h-1.6zM52.5 70.5h1.6v1.6h-1.6zM52.1 90.6h1.6v1.6h-1.6zM72.9 57.2h1.6v1.6h-1.6zM59.2 64.1h1.6v1.6h-1.6zM78.4 52.9h1.6v1.6h-1.6zM78.7 42.8h1.6v1.6h-1.6zM66.6 75.1h1.6v1.6h-1.6zM57.3 97.7h1.6v1.6h-1.6zM56.6 87.4h1.6v1.6h-1.6zM59.2 80.9h1.6v1.6h-1.6zM67.1 89.0h1.6v1.6h-1.6zM49.9 73.8h1.6v1.6h-1.6zM42.7 92.0h1.6v1.6h-1.6zM48.1 99.0h1.6v1.6h-1.6zM53.6 68.6h1.6v1.6h-1.6zM55.2 69.7h1.6v1.6h-1.6zM60.0 68.6h1.6v1.6h-1.6zM63.7 93.5h1.6v1.6h-1.6zM52.6 74.0h1.6v1.6h-1.6zM58.9 76.0h1.6v1.6h-1.6zM83.0 50.2h1.6v1.6h-1.6zM51.4 90.0h1.6v1.6h-1.6zM52.8 78.2h1.6v1.6h-1.6zM85.1 48.2h1.6v1.6h-1.6zM69.7 109.8h1.6v1.6h-1.6zM52.7 76.6h1.6v1.6h-1.6zM53.9 75.0h1.6v1.6h-1.6zM66.7 84.1h1.6v1.6h-1.6zM69.8 74.8h1.6v1.6h-1.6zM73.5 104.1h1.6v1.6h-1.6zM61.8 80.4h1.6v1.6h-1.6zM75.0 60.7h1.6v1.6h-1.6zM72.8 55.3h1.6v1.6h-1.6z"/>
<path fill="#da8ab0" d="M79.4 115.4h1.6v1.6h-1.6zM87.2 119.1h1.6v1.6h-1.6zM91.9 112.0h1.6v1.6h-1.6zM80.0 115.2h1.6v1.6h-1.6zM93.9 113.3h1.6v1.6h-1.6zM84.4 110.1h1.6v1.6h-1.6zM91.1 116.8h1.6v1.6h-1.6zM82.7 116.2h1.6v1.6h-1.6zM97.9 112.9h1.6v1.6h-1.6zM91.5 118.5h1.6v1.6h-1.6zM148.7 48.4h1.6v1.6h-1.6zM128.1 30.5h1.6v1.6h-1.6zM141.6 59.1h1.6v1.6h-1.6zM143.9 58.5h1.6v1.6h-1.6zM145.4 47.8h1.6v1.6h-1.6zM119.8 40.4h1.6v1.6h-1.6zM144.4 50.3h1.6v1.6h-1.6zM118.5 56.9h1.6v1.6h-1.6zM123.6 40.4h1.6v1.6h-1.6zM117.7 44.7h1.6v1.6h-1.6zM127.6 43.9h1.6v1.6h-1.6zM142.3 55.0h1.6v1.6h-1.6zM147.5 39.8h1.6v1.6h-1.6zM146.0 56.4h1.6v1.6h-1.6zM135.9 30.9h1.6v1.6h-1.6zM141.5 59.8h1.6v1.6h-1.6zM137.8 36.7h1.6v1.6h-1.6zM125.2 33.6h1.6v1.6h-1.6zM117.6 39.6h1.6v1.6h-1.6zM148.2 50.2h1.6v1.6h-1.6zM143.8 42.0h1.6v1.6h-1.6zM144.0 32.8h1.6v1.6h-1.6zM116.2 47.0h1.6v1.6h-1.6zM124.3 40.4h1.6v1.6h-1.6zM130.4 41.8h1.6v1.6h-1.6zM145.6 56.4h1.6v1.6h-1.6zM132.0 35.8h1.6v1.6h-1.6zM119.9 47.2h1.6v1.6h-1.6zM135.7 32.4h1.6v1.6h-1.6zM137.8 42.5h1.6v1.6h-1.6zM145.5 42.6h1.6v1.6h-1.6zM121.6 37.2h1.6v1.6h-1.6zM128.1 62.1h1.6v1.6h-1.6zM139.1 31.3h1.6v1.6h-1.6zM134.6 28.9h1.6v1.6h-1.6zM118.9 49.7h1.6v1.6h-1.6zM143.3 37.2h1.6v1.6h-1.6zM123.3 49.8h1.6v1.6h-1.6zM141.1 46.8h1.6v1.6h-1.6zM131.6 41.7h1.6v1.6h-1.6zM116.4 46.0h1.6v1.6h-1.6zM134.7 39.8h1.6v1.6h-1.6zM119.3 46.6h1.6v1.6h-1.6zM129.5 33.1h1.6v1.6h-1.6zM116.2 49.5h1.6v1.6h-1.6zM128.2 40.2h1.6v1.6h-1.6zM142.2 46.9h1.6v1.6h-1.6zM120.3 35.9h1.6v1.6h-1.6zM128.8 43.3h1.6v1.6h-1.6zM129.4 65.2h1.6v1.6h-1.6zM150.2 52.7h1.6v1.6h-1.6zM150.0 48.5h1.6v1.6h-1.6zM136.5 30.5h1.6v1.6h-1.6zM142.3 42.3h1.6v1.6h-1.6zM138.6 38.8h1.6v1.6h-1.6zM125.4 62.4h1.6v1.6h-1.6zM123.5 38.4h1.6v1.6h-1.6zM141.2 58.5h1.6v1.6h-1.6zM132.5 62.3h1.6v1.6h-1.6zM132.7 37.9h1.6v1.6h-1.6zM147.0 50.0h1.6v1.6h-1.6zM119.4 38.1h1.6v1.6h-1.6zM124.1 33.2h1.6v1.6h-1.6zM120.6 55.6h1.6v1.6h-1.6zM118.0 42.9h1.6v1.6h-1.6zM131.7 37.8h1.6v1.6h-1.6zM142.3 62.8h1.6v1.6h-1.6zM131.7 31.9h1.6v1.6h-1.6zM118.9 56.9h1.6v1.6h-1.6zM130.7 63.6h1.6v1.6h-1.6zM123.5 61.8h1.6v1.6h-1.6zM129.5 65.4h1.6v1.6h-1.6zM116.7 47.8h1.6v1.6h-1.6zM140.4 32.5h1.6v1.6h-1.6zM144.0 57.3h1.6v1.6h-1.6zM132.5 66.3h1.6v1.6h-1.6zM123.3 32.9h1.6v1.6h-1.6zM124.9 38.1h1.6v1.6h-1.6zM144.0 62.5h1.6v1.6h-1.6zM134.1 32.3h1.6v1.6h-1.6zM135.2 41.7h1.6v1.6h-1.6zM150.2 50.3h1.6v1.6h-1.6zM122.0 50.4h1.6v1.6h-1.6zM125.9 37.8h1.6v1.6h-1.6zM123.5 57.4h1.6v1.6h-1.6zM124.6 60.2h1.6v1.6h-1.6zM146.3 54.1h1.6v1.6h-1.6zM140.1 34.1h1.6v1.6h-1.6zM119.2 36.3h1.6v1.6h-1.6zM133.1 28.0h1.6v1.6h-1.6zM132.6 63.7h1.6v1.6h-1.6zM142.9 31.3h1.6v1.6h-1.6zM140.9 63.6h1.6v1.6h-1.6zM127.8 33.5h1.6v1.6h-1.6zM146.7 55.1h1.6v1.6h-1.6zM135.6 64.7h1.6v1.6h-1.6zM122.0 40.7h1.6v1.6h-1.6zM120.9 45.8h1.6v1.6h-1.6zM138.8 62.8h1.6v1.6h-1.6zM132.1 38.5h1.6v1.6h-1.6zM123.7 34.0h1.6v1.6h-1.6zM143.3 39.7h1.6v1.6h-1.6zM146.8 57.9h1.6v1.6h-1.6zM117.2 55.1h1.6v1.6h-1.6zM122.1 54.7h1.6v1.6h-1.6zM146.2 49.8h1.6v1.6h-1.6zM128.2 29.4h1.6v1.6h-1.6zM139.0 34.0h1.6v1.6h-1.6zM125.1 60.1h1.6v1.6h-1.6zM130.3 41.9h1.6v1.6h-1.6zM135.1 61.9h1.6v1.6h-1.6zM118.0 41.7h1.6v1.6h-1.6zM133.4 37.9h1.6v1.6h-1.6zM119.3 41.8h1.6v1.6h-1.6zM128.6 38.6h1.6v1.6h-1.6zM145.9 60.9h1.6v1.6h-1.6zM138.8 42.9h1.6v1.6h-1.6zM147.7 40.5h1.6v1.6h-1.6zM147.9 41.9h1.6v1.6h-1.6zM117.7 49.6h1.6v1.6h-1.6zM142.1 34.0h1.6v1.6h-1.6zM149.6 55.6h1.6v1.6h-1.6zM144.5 52.2h1.6v1.6h-1.6zM146.4 58.1h1.6v1.6h-1.6zM131.1 30.2h1.6v1.6h-1.6zM138.9 33.5h1.6v1.6h-1.6zM124.9 44.2h1.6v1.6h-1.6zM142.7 44.7h1.6v1.6h-1.6zM120.3 49.1h1.6v1.6h-1.6zM116.9 54.0h1.6v1.6h-1.6zM128.6 63.7h1.6v1.6h-1.6zM126.3 44.6h1.6v1.6h-1.6zM139.0 44.5h1.6v1.6h-1.6zM120.8 35.0h1.6v1.6h-1.6zM122.1 53.5h1.6v1.6h-1.6zM127.8 63.0h1.6v1.6h-1.6zM123.9 37.4h1.6v1.6h-1.6zM122.1 33.5h1.6v1.6h-1.6zM124.5 59.2h1.6v1.6h-1.6zM139.8 44.4h1.6v1.6h-1.6zM131.4 31.4h1.6v1.6h-1.6zM128.6 64.4h1.6v1.6h-1.6zM118.7 57.8h1.6v1.6h-1.6zM124.6 36.0h1.6v1.6h-1.6zM120.1 54.4h1.6v1.6h-1.6zM133.8 64.8h1.6v1.6h-1.6zM120.7 49.1h1.6v1.6h-1.6zM125.4 32.6h1.6v1.6h-1.6zM145.4 36.0h1.6v1.6h-1.6zM145.0 35.7h1.6v1.6h-1.6zM122.2 39.7h1.6v1.6h-1.6zM144.4 36.9h1.6v1.6h-1.6zM138.3 29.1h1.6v1.6h-1.6zM133.4 32.3h1.6v1.6h-1.6zM136.4 41.3h1.6v1.6h-1.6zM135.4 35.6h1.6v1.6h-1.6zM121.4 49.7h1.6v1.6h-1.6zM121.4 53.1h1.6v1.6h-1.6zM132.6 36.3h1.6v1.6h-1.6zM130.1 30.8h1.6v1.6h-1.6zM140.8 34.6h1.6v1.6h-1.6zM137.1 38.0h1.6v1.6h-1.6zM145.1 54.1h1.6v1.6h-1.6zM145.7 58.9h1.6v1.6h-1.6zM144.1 53.2h1.6v1.6h-1.6zM134.9 61.6h1.6v1.6h-1.6zM132.2 31.7h1.6v1.6h-1.6zM147.3 36.6h1.6v1.6h-1.6zM120.3 57.0h1.6v1.6h-1.6zM149.6 47.5h1.6v1.6h-1.6zM134.9 61.9h1.6v1.6h-1.6zM146.7 35.0h1.6v1.6h-1.6zM122.2 40.9h1.6v1.6h-1.6zM130.6 36.5h1.6v1.6h-1.6zM133.3 28.4h1.6v1.6h-1.6zM135.1 64.9h1.6v1.6h-1.6zM122.9 33.8h1.6v1.6h-1.6zM146.1 47.9h1.6v1.6h-1.6zM133.9 34.6h1.6v1.6h-1.6zM126.5 62.8h1.6v1.6h-1.6zM118.7 49.1h1.6v1.6h-1.6zM137.7 63.0h1.6v1.6h-1.6zM137.4 35.0h1.6v1.6h-1.6zM122.2 55.1h1.6v1.6h-1.6zM130.5 38.8h1.6v1.6h-1.6zM143.0 38.6h1.6v1.6h-1.6zM137.8 42.4h1.6v1.6h-1.6zM139.5 34.4h1.6v1.6h-1.6zM121.3 56.9h1.6v1.6h-1.6zM128.4 31.2h1.6v1.6h-1.6zM132.5 41.3h1.6v1.6h-1.6zM134.5 34.5h1.6v1.6h-1.6zM127.1 36.4h1.6v1.6h-1.6zM136.5 33.3h1.6v1.6h-1.6zM118.1 47.6h1.6v1.6h-1.6zM123.8 62.4h1.6v1.6h-1.6zM128.6 61.9h1.6v1.6h-1.6zM142.0 38.3h1.6v1.6h-1.6zM135.4 28.2h1.6v1.6h-1.6zM149.1 52.3h1.6v1.6h-1.6zM125.9 63.0h1.6v1.6h-1.6zM137.9 30.7h1.6v1.6h-1.6zM145.0 62.0h1.6v1.6h-1.6zM124.4 58.9h1.6v1.6h-1.6zM140.2 45.9h1.6v1.6h-1.6zM131.5 65.3h1.6v1.6h-1.6zM122.9 45.9h1.6v1.6h-1.6zM149.0 42.2h1.6v1.6h-1.6zM131.7 64.6h1.6v1.6h-1.6zM125.0 32.0h1.6v1.6h-1.6zM150.0 54.1h1.6v1.6h-1.6zM122.4 55.3h1.6v1.6h-1.6zM143.8 50.3h1.6v1.6h-1.6zM142.1 49.6h1.6v1.6h-1.6zM120.3 37.2h1.6v1.6h-1.6zM120.1 56.8h1.6v1.6h-1.6zM144.1 40.1h1.6v1.6h-1.6zM135.0 66.2h1.6v1.6h-1.6zM137.7 42.8h1.6v1.6h-1.6zM139.0 62.0h1.6v1.6h-1.6zM140.3 34.9h1.6v1.6h-1.6zM139.7 30.3h1.6v1.6h-1.6zM136.7 62.3h1.6v1.6h-1.6zM122.1 32.2h1.6v1.6h-1.6zM127.4 31.4h1.6v1.6h-1.6zM126.3 59.6h1.6v1.6h-1.6zM148.4 57.0h1.6v1.6h-1.6zM138.8 33.5h1.6v1.6h-1.6zM123.8 46.3h1.6v1.6h-1.6zM123.1 61.5h1.6v1.6h-1.6zM137.9 30.3h1.6v1.6h-1.6zM147.4 58.0h1.6v1.6h-1.6zM134.7 38.6h1.6v1.6h-1.6zM115.7 48.0h1.6v1.6h-1.6zM146.8 55.7h1.6v1.6h-1.6zM140.3 61.9h1.6v1.6h-1.6zM140.0 32.5h1.6v1.6h-1.6zM124.8 40.0h1.6v1.6h-1.6zM141.9 42.2h1.6v1.6h-1.6zM140.7 63.6h1.6v1.6h-1.6zM121.2 52.2h1.6v1.6h-1.6zM147.1 58.9h1.6v1.6h-1.6zM127.0 33.5h1.6v1.6h-1.6zM144.5 43.9h1.6v1.6h-1.6zM148.5 57.5h1.6v1.6h-1.6zM127.7 34.7h1.6v1.6h-1.6zM132.6 33.0h1.6v1.6h-1.6zM139.0 43.8h1.6v1.6h-1.6zM145.7 57.0h1.6v1.6h-1.6zM117.4 38.8h1.6v1.6h-1.6zM120.7 50.7h1.6v1.6h-1.6zM142.4 59.3h1.6v1.6h-1.6zM142.5 34.8h1.6v1.6h-1.6zM122.3 34.6h1.6v1.6h-1.6zM127.6 29.5h1.6v1.6h-1.6zM122.7 38.7h1.6v1.6h-1.6zM123.1 60.7h1.6v1.6h-1.6zM140.8 33.9h1.6v1.6h-1.6zM143.0 55.6h1.6v1.6h-1.6zM140.1 35.5h1.6v1.6h-1.6zM117.0 52.6h1.6v1.6h-1.6zM138.9 63.6h1.6v1.6h-1.6zM143.2 46.8h1.6v1.6h-1.6zM116.7 49.0h1.6v1.6h-1.6zM129.7 36.4h1.6v1.6h-1.6zM143.6 42.8h1.6v1.6h-1.6zM128.0 32.3h1.6v1.6h-1.6zM147.5 53.5h1.6v1.6h-1.6zM142.6 33.1h1.6v1.6h-1.6zM137.0 35.2h1.6v1.6h-1.6zM143.2 52.6h1.6v1.6h-1.6zM118.2 44.1h1.6v1.6h-1.6zM139.5 61.4h1.6v1.6h-1.6zM118.3 47.6h1.6v1.6h-1.6zM127.8 36.0h1.6v1.6h-1.6zM120.7 36.4h1.6v1.6h-1.6zM149.2 49.5h1.6v1.6h-1.6zM149.8 44.4h1.6v1.6h-1.6zM130.6 28.8h1.6v1.6h-1.6zM120.3 59.1h1.6v1.6h-1.6zM119.6 39.5h1.6v1.6h-1.6zM139.9 43.5h1.6v1.6h-1.6zM118.8 46.4h1.6v1.6h-1.6zM118.2 49.2h1.6v1.6h-1.6zM119.5 48.7h1.6v1.6h-1.6zM124.7 44.8h1.6v1.6h-1.6zM134.5 42.5h1.6v1.6h-1.6zM142.6 59.3h1.6v1.6h-1.6zM142.0 42.6h1.6v1.6h-1.6zM141.1 35.6h1.6v1.6h-1.6zM137.7 28.5h1.6v1.6h-1.6zM140.2 34.8h1.6v1.6h-1.6zM124.6 59.5h1.6v1.6h-1.6zM150.1 53.9h1.6v1.6h-1.6zM135.8 62.6h1.6v1.6h-1.6zM147.8 55.4h1.6v1.6h-1.6zM131.6 37.3h1.6v1.6h-1.6zM138.4 41.0h1.6v1.6h-1.6zM128.4 64.9h1.6v1.6h-1.6zM142.9 63.5h1.6v1.6h-1.6zM132.0 30.3h1.6v1.6h-1.6zM131.2 30.2h1.6v1.6h-1.6zM137.4 36.7h1.6v1.6h-1.6zM134.3 40.8h1.6v1.6h-1.6zM116.0 46.9h1.6v1.6h-1.6zM131.8 64.8h1.6v1.6h-1.6zM142.6 47.9h1.6v1.6h-1.6zM120.5 38.2h1.6v1.6h-1.6zM144.0 40.9h1.6v1.6h-1.6zM124.1 39.9h1.6v1.6h-1.6zM139.8 62.1h1.6v1.6h-1.6zM117.3 46.5h1.6v1.6h-1.6zM123.4 32.6h1.6v1.6h-1.6zM148.8 57.0h1.6v1.6h-1.6zM139.6 64.5h1.6v1.6h-1.6zM120.5 56.7h1.6v1.6h-1.6zM139.6 64.9h1.6v1.6h-1.6zM139.3 64.5h1.6v1.6h-1.6zM139.9 51.8h1.6v1.6h-1.6zM137.8 51.9h1.6v1.6h-1.6zM140.5 54.2h1.6v1.6h-1.6zM136.5 47.7h1.6v1.6h-1.6zM138.1 51.7h1.6v1.6h-1.6zM134.8 56.6h1.6v1.6h-1.6zM134.5 58.7h1.6v1.6h-1.6zM134.8 78.8h1.6v1.6h-1.6zM144.0 73.9h1.6v1.6h-1.6zM145.1 83.9h1.6v1.6h-1.6zM133.1 77.1h1.6v1.6h-1.6zM139.7 63.0h1.6v1.6h-1.6zM131.3 66.8h1.6v1.6h-1.6zM142.1 69.5h1.6v1.6h-1.6zM146.3 73.4h1.6v1.6h-1.6zM136.3 76.7h1.6v1.6h-1.6zM148.1 80.8h1.6v1.6h-1.6zM136.8 84.9h1.6v1.6h-1.6zM135.1 72.8h1.6v1.6h-1.6zM148.6 76.6h1.6v1.6h-1.6zM141.4 69.8h1.6v1.6h-1.6zM144.4 70.7h1.6v1.6h-1.6zM144.3 82.0h1.6v1.6h-1.6zM137.5 74.8h1.6v1.6h-1.6zM136.9 70.0h1.6v1.6h-1.6zM135.7 72.3h1.6v1.6h-1.6zM145.1 72.3h1.6v1.6h-1.6zM140.9 65.2h1.6v1.6h-1.6zM136.5 73.7h1.6v1.6h-1.6zM135.9 64.0h1.6v1.6h-1.6zM137.0 75.5h1.6v1.6h-1.6zM148.3 74.8h1.6v1.6h-1.6zM145.3 69.3h1.6v1.6h-1.6zM135.0 77.1h1.6v1.6h-1.6zM143.8 82.8h1.6v1.6h-1.6zM138.4 79.7h1.6v1.6h-1.6zM134.3 64.1h1.6v1.6h-1.6zM133.7 78.0h1.6v1.6h-1.6zM144.3 82.9h1.6v1.6h-1.6zM137.1 60.9h1.6v1.6h-1.6zM144.4 71.9h1.6v1.6h-1.6zM138.2 82.1h1.6v1.6h-1.6zM146.6 73.1h1.6v1.6h-1.6zM136.8 73.1h1.6v1.6h-1.6zM138.4 66.7h1.6v1.6h-1.6zM132.6 66.5h1.6v1.6h-1.6zM135.9 71.9h1.6v1.6h-1.6zM137.9 82.3h1.6v1.6h-1.6zM136.6 75.8h1.6v1.6h-1.6zM133.5 73.0h1.6v1.6h-1.6zM135.5 73.6h1.6v1.6h-1.6zM136.6 68.1h1.6v1.6h-1.6zM140.2 66.2h1.6v1.6h-1.6zM149.5 77.2h1.6v1.6h-1.6zM147.0 73.9h1.6v1.6h-1.6zM142.8 67.1h1.6v1.6h-1.6zM145.5 72.9h1.6v1.6h-1.6zM145.7 76.8h1.6v1.6h-1.6zM147.4 77.3h1.6v1.6h-1.6zM137.6 72.2h1.6v1.6h-1.6zM147.1 74.7h1.6v1.6h-1.6zM138.4 80.1h1.6v1.6h-1.6zM133.2 75.0h1.6v1.6h-1.6zM135.7 75.0h1.6v1.6h-1.6zM137.8 60.0h1.6v1.6h-1.6zM142.7 75.8h1.6v1.6h-1.6zM134.3 61.9h1.6v1.6h-1.6zM164.4 78.6h1.6v1.6h-1.6zM156.1 79.1h1.6v1.6h-1.6zM162.4 76.8h1.6v1.6h-1.6zM157.3 82.4h1.6v1.6h-1.6zM157.2 78.3h1.6v1.6h-1.6zM159.2 76.8h1.6v1.6h-1.6zM154.8 78.6h1.6v1.6h-1.6zM161.3 76.9h1.6v1.6h-1.6zM158.5 75.0h1.6v1.6h-1.6zM157.7 76.2h1.6v1.6h-1.6zM159.9 83.0h1.6v1.6h-1.6zM157.8 80.4h1.6v1.6h-1.6zM160.1 81.4h1.6v1.6h-1.6zM158.4 75.8h1.6v1.6h-1.6zM159.6 83.7h1.6v1.6h-1.6zM162.2 78.8h1.6v1.6h-1.6zM155.5 79.8h1.6v1.6h-1.6zM162.2 76.8h1.6v1.6h-1.6zM161.6 77.1h1.6v1.6h-1.6zM160.5 81.8h1.6v1.6h-1.6zM160.8 78.3h1.6v1.6h-1.6zM156.0 80.2h1.6v1.6h-1.6zM161.2 75.7h1.6v1.6h-1.6zM141.8 102.4h1.6v1.6h-1.6zM143.0 103.0h1.6v1.6h-1.6zM141.8 100.3h1.6v1.6h-1.6zM147.8 96.8h1.6v1.6h-1.6zM147.8 89.1h1.6v1.6h-1.6zM142.4 102.0h1.6v1.6h-1.6zM149.5 86.2h1.6v1.6h-1.6zM144.2 86.3h1.6v1.6h-1.6zM152.7 102.4h1.6v1.6h-1.6zM156.5 103.8h1.6v1.6h-1.6zM160.8 89.6h1.6v1.6h-1.6zM146.3 88.6h1.6v1.6h-1.6zM138.7 96.1h1.6v1.6h-1.6zM141.6 97.0h1.6v1.6h-1.6zM145.9 84.9h1.6v1.6h-1.6zM156.6 96.7h1.6v1.6h-1.6zM157.0 106.0h1.6v1.6h-1.6zM147.3 97.4h1.6v1.6h-1.6zM143.9 94.3h1.6v1.6h-1.6zM153.3 90.1h1.6v1.6h-1.6zM153.9 96.3h1.6v1.6h-1.6zM152.4 97.6h1.6v1.6h-1.6zM154.5 105.2h1.6v1.6h-1.6zM162.4 97.6h1.6v1.6h-1.6zM149.5 86.4h1.6v1.6h-1.6zM150.7 100.7h1.6v1.6h-1.6zM147.9 82.7h1.6v1.6h-1.6zM149.3 96.3h1.6v1.6h-1.6zM158.3 88.3h1.6v1.6h-1.6zM143.2 104.3h1.6v1.6h-1.6zM152.9 85.7h1.6v1.6h-1.6zM153.7 99.8h1.6v1.6h-1.6zM152.2 91.3h1.6v1.6h-1.6zM148.5 92.5h1.6v1.6h-1.6zM161.1 89.6h1.6v1.6h-1.6zM145.6 105.9h1.6v1.6h-1.6zM143.2 100.4h1.6v1.6h-1.6zM141.3 97.7h1.6v1.6h-1.6zM147.0 96.5h1.6v1.6h-1.6zM159.9 90.2h1.6v1.6h-1.6zM157.0 106.0h1.6v1.6h-1.6zM161.7 89.3h1.6v1.6h-1.6zM149.8 86.6h1.6v1.6h-1.6zM145.3 104.9h1.6v1.6h-1.6zM145.0 105.5h1.6v1.6h-1.6zM159.1 97.0h1.6v1.6h-1.6zM149.6 91.8h1.6v1.6h-1.6zM153.0 90.4h1.6v1.6h-1.6zM143.8 105.0h1.6v1.6h-1.6zM139.0 96.7h1.6v1.6h-1.6zM138.9 94.4h1.6v1.6h-1.6zM154.3 96.2h1.6v1.6h-1.6zM143.8 104.0h1.6v1.6h-1.6zM147.8 96.3h1.6v1.6h-1.6zM149.9 96.4h1.6v1.6h-1.6zM151.7 97.8h1.6v1.6h-1.6zM147.0 99.1h1.6v1.6h-1.6zM144.2 84.8h1.6v1.6h-1.6zM147.9 93.0h1.6v1.6h-1.6zM152.5 92.6h1.6v1.6h-1.6zM147.3 87.0h1.6v1.6h-1.6zM149.4 102.9h1.6v1.6h-1.6zM144.7 106.4h1.6v1.6h-1.6zM139.5 92.9h1.6v1.6h-1.6zM146.5 84.4h1.6v1.6h-1.6zM153.5 92.6h1.6v1.6h-1.6zM143.9 98.2h1.6v1.6h-1.6zM145.7 92.9h1.6v1.6h-1.6zM154.1 101.3h1.6v1.6h-1.6zM155.8 93.5h1.6v1.6h-1.6zM147.0 98.5h1.6v1.6h-1.6zM150.2 106.4h1.6v1.6h-1.6zM152.0 97.4h1.6v1.6h-1.6zM155.5 94.7h1.6v1.6h-1.6zM151.0 99.5h1.6v1.6h-1.6zM152.6 90.1h1.6v1.6h-1.6zM142.8 93.0h1.6v1.6h-1.6zM144.9 94.7h1.6v1.6h-1.6zM155.3 100.7h1.6v1.6h-1.6zM143.3 88.7h1.6v1.6h-1.6zM155.8 92.9h1.6v1.6h-1.6zM151.4 106.2h1.6v1.6h-1.6zM155.0 102.1h1.6v1.6h-1.6zM161.3 92.3h1.6v1.6h-1.6zM148.5 94.7h1.6v1.6h-1.6zM162.5 100.9h1.6v1.6h-1.6zM146.3 97.3h1.6v1.6h-1.6zM150.4 104.9h1.6v1.6h-1.6zM144.3 105.7h1.6v1.6h-1.6zM148.2 95.4h1.6v1.6h-1.6zM146.6 91.3h1.6v1.6h-1.6zM161.8 93.4h1.6v1.6h-1.6zM151.3 101.6h1.6v1.6h-1.6zM160.9 102.5h1.6v1.6h-1.6zM143.3 94.9h1.6v1.6h-1.6zM159.9 103.2h1.6v1.6h-1.6zM144.1 94.7h1.6v1.6h-1.6zM144.5 101.5h1.6v1.6h-1.6zM155.5 93.8h1.6v1.6h-1.6zM147.2 84.4h1.6v1.6h-1.6zM149.5 102.2h1.6v1.6h-1.6zM150.0 102.4h1.6v1.6h-1.6zM157.4 84.8h1.6v1.6h-1.6zM153.4 84.5h1.6v1.6h-1.6zM159.3 98.9h1.6v1.6h-1.6zM143.0 103.1h1.6v1.6h-1.6zM153.9 102.1h1.6v1.6h-1.6zM154.2 107.8h1.6v1.6h-1.6zM156.3 94.3h1.6v1.6h-1.6zM159.0 103.5h1.6v1.6h-1.6zM151.3 92.5h1.6v1.6h-1.6zM148.2 89.4h1.6v1.6h-1.6zM149.3 92.5h1.6v1.6h-1.6zM139.6 95.1h1.6v1.6h-1.6zM161.6 89.4h1.6v1.6h-1.6zM157.5 101.9h1.6v1.6h-1.6zM155.4 97.7h1.6v1.6h-1.6zM153.4 107.3h1.6v1.6h-1.6zM161.8 98.4h1.6v1.6h-1.6zM147.1 99.1h1.6v1.6h-1.6zM142.2 87.1h1.6v1.6h-1.6zM161.2 94.2h1.6v1.6h-1.6zM159.0 87.8h1.6v1.6h-1.6zM150.4 88.4h1.6v1.6h-1.6zM143.7 87.7h1.6v1.6h-1.6zM156.2 90.3h1.6v1.6h-1.6zM140.9 92.2h1.6v1.6h-1.6zM150.0 107.9h1.6v1.6h-1.6zM150.1 92.5h1.6v1.6h-1.6zM144.1 86.2h1.6v1.6h-1.6zM142.7 97.8h1.6v1.6h-1.6zM147.2 99.5h1.6v1.6h-1.6zM143.7 98.4h1.6v1.6h-1.6zM159.2 85.8h1.6v1.6h-1.6zM147.7 96.2h1.6v1.6h-1.6zM152.8 85.2h1.6v1.6h-1.6zM156.5 95.9h1.6v1.6h-1.6zM149.2 107.7h1.6v1.6h-1.6zM158.8 104.6h1.6v1.6h-1.6zM145.5 96.9h1.6v1.6h-1.6zM141.0 100.1h1.6v1.6h-1.6zM158.6 88.1h1.6v1.6h-1.6zM156.6 92.2h1.6v1.6h-1.6zM144.1 90.1h1.6v1.6h-1.6zM145.3 87.1h1.6v1.6h-1.6zM155.8 86.3h1.6v1.6h-1.6zM160.0 90.8h1.6v1.6h-1.6zM159.8 98.9h1.6v1.6h-1.6zM139.0 92.0h1.6v1.6h-1.6zM156.3 96.4h1.6v1.6h-1.6zM147.1 105.8h1.6v1.6h-1.6zM140.5 95.2h1.6v1.6h-1.6zM144.0 88.6h1.6v1.6h-1.6zM158.2 95.9h1.6v1.6h-1.6zM162.7 89.4h1.6v1.6h-1.6zM145.7 93.9h1.6v1.6h-1.6zM161.2 103.2h1.6v1.6h-1.6zM160.4 87.0h1.6v1.6h-1.6zM140.3 89.6h1.6v1.6h-1.6zM153.3 99.3h1.6v1.6h-1.6zM145.6 95.6h1.6v1.6h-1.6zM141.0 98.4h1.6v1.6h-1.6zM158.5 104.2h1.6v1.6h-1.6zM152.5 91.3h1.6v1.6h-1.6zM127.3 93.0h1.6v1.6h-1.6zM133.5 91.5h1.6v1.6h-1.6zM136.3 86.7h1.6v1.6h-1.6zM135.0 91.1h1.6v1.6h-1.6zM138.8 102.3h1.6v1.6h-1.6zM138.4 100.5h1.6v1.6h-1.6zM134.6 86.6h1.6v1.6h-1.6zM128.7 103.6h1.6v1.6h-1.6zM133.9 88.4h1.6v1.6h-1.6zM132.7 89.5h1.6v1.6h-1.6zM125.6 91.1h1.6v1.6h-1.6zM130.0 103.5h1.6v1.6h-1.6zM129.6 99.6h1.6v1.6h-1.6zM128.3 101.8h1.6v1.6h-1.6zM128.7 94.9h1.6v1.6h-1.6zM135.8 104.2h1.6v1.6h-1.6zM126.4 89.2h1.6v1.6h-1.6zM127.6 102.8h1.6v1.6h-1.6zM135.0 101.7h1.6v1.6h-1.6zM140.1 114.9h1.6v1.6h-1.6zM149.2 115.6h1.6v1.6h-1.6zM139.1 105.5h1.6v1.6h-1.6zM127.7 101.4h1.6v1.6h-1.6zM144.6 116.4h1.6v1.6h-1.6zM127.4 109.4h1.6v1.6h-1.6zM147.5 110.0h1.6v1.6h-1.6zM133.6 116.8h1.6v1.6h-1.6zM132.2 108.4h1.6v1.6h-1.6zM136.7 115.2h1.6v1.6h-1.6zM133.8 101.7h1.6v1.6h-1.6zM128.5 103.8h1.6v1.6h-1.6zM136.8 109.1h1.6v1.6h-1.6zM145.5 115.7h1.6v1.6h-1.6zM135.9 114.9h1.6v1.6h-1.6zM135.9 103.0h1.6v1.6h-1.6zM137.5 105.0h1.6v1.6h-1.6zM130.9 113.9h1.6v1.6h-1.6zM146.6 113.9h1.6v1.6h-1.6zM144.3 110.8h1.6v1.6h-1.6zM128.4 108.7h1.6v1.6h-1.6zM148.2 114.1h1.6v1.6h-1.6zM140.9 111.2h1.6v1.6h-1.6zM157.0 131.5h1.6v1.6h-1.6zM142.8 152.7h1.6v1.6h-1.6zM123.4 142.7h1.6v1.6h-1.6zM126.4 119.2h1.6v1.6h-1.6zM149.3 123.2h1.6v1.6h-1.6zM127.9 130.6h1.6v1.6h-1.6zM139.4 150.0h1.6v1.6h-1.6zM150.9 133.8h1.6v1.6h-1.6zM133.4 125.3h1.6v1.6h-1.6zM126.9 122.6h1.6v1.6h-1.6zM138.7 130.8h1.6v1.6h-1.6zM157.1 131.6h1.6v1.6h-1.6zM157.2 149.7h1.6v1.6h-1.6zM150.0 136.0h1.6v1.6h-1.6zM138.7 123.9h1.6v1.6h-1.6zM128.2 127.6h1.6v1.6h-1.6zM126.1 146.9h1.6v1.6h-1.6zM121.9 124.0h1.6v1.6h-1.6zM162.9 137.7h1.6v1.6h-1.6zM165.0 139.5h1.6v1.6h-1.6zM155.8 120.9h1.6v1.6h-1.6zM136.3 140.2h1.6v1.6h-1.6zM138.8 129.7h1.6v1.6h-1.6zM129.4 126.1h1.6v1.6h-1.6zM131.6 123.3h1.6v1.6h-1.6zM159.8 131.8h1.6v1.6h-1.6zM133.6 127.3h1.6v1.6h-1.6zM121.9 116.0h1.6v1.6h-1.6zM153.4 142.7h1.6v1.6h-1.6zM123.2 116.6h1.6v1.6h-1.6zM117.3 121.0h1.6v1.6h-1.6zM149.0 120.4h1.6v1.6h-1.6zM158.7 127.5h1.6v1.6h-1.6zM143.6 142.2h1.6v1.6h-1.6zM131.5 120.6h1.6v1.6h-1.6zM123.8 123.3h1.6v1.6h-1.6zM161.9 150.1h1.6v1.6h-1.6zM138.3 113.9h1.6v1.6h-1.6zM132.3 117.6h1.6v1.6h-1.6zM142.2 142.6h1.6v1.6h-1.6zM150.7 147.9h1.6v1.6h-1.6zM139.8 151.5h1.6v1.6h-1.6zM132.8 135.7h1.6v1.6h-1.6zM140.3 113.9h1.6v1.6h-1.6zM126.9 137.7h1.6v1.6h-1.6zM145.0 126.1h1.6v1.6h-1.6zM138.2 136.9h1.6v1.6h-1.6zM160.9 150.4h1.6v1.6h-1.6zM149.4 129.3h1.6v1.6h-1.6zM153.8 140.1h1.6v1.6h-1.6zM150.6 126.3h1.6v1.6h-1.6zM156.5 123.2h1.6v1.6h-1.6zM131.9 144.1h1.6v1.6h-1.6zM124.7 114.9h1.6v1.6h-1.6zM138.3 122.0h1.6v1.6h-1.6zM117.6 132.2h1.6v1.6h-1.6zM127.9 122.1h1.6v1.6h-1.6zM143.6 134.3h1.6v1.6h-1.6zM146.2 136.3h1.6v1.6h-1.6zM164.3 142.3h1.6v1.6h-1.6zM151.5 130.6h1.6v1.6h-1.6zM163.5 139.4h1.6v1.6h-1.6zM127.7 136.5h1.6v1.6h-1.6zM148.5 138.1h1.6v1.6h-1.6zM162.5 145.4h1.6v1.6h-1.6zM131.5 121.2h1.6v1.6h-1.6zM119.0 126.1h1.6v1.6h-1.6zM119.6 133.7h1.6v1.6h-1.6zM157.7 141.3h1.6v1.6h-1.6zM128.7 119.9h1.6v1.6h-1.6zM141.8 121.0h1.6v1.6h-1.6zM142.1 116.6h1.6v1.6h-1.6zM129.8 140.9h1.6v1.6h-1.6zM128.8 141.4h1.6v1.6h-1.6zM142.9 129.4h1.6v1.6h-1.6zM148.0 138.9h1.6v1.6h-1.6zM145.5 151.2h1.6v1.6h-1.6zM144.1 153.0h1.6v1.6h-1.6zM139.6 113.8h1.6v1.6h-1.6zM145.2 133.4h1.6v1.6h-1.6zM146.6 138.6h1.6v1.6h-1.6zM123.8 136.7h1.6v1.6h-1.6zM148.9 131.7h1.6v1.6h-1.6zM129.2 139.2h1.6v1.6h-1.6zM132.5 146.1h1.6v1.6h-1.6zM139.9 132.0h1.6v1.6h-1.6zM129.4 128.4h1.6v1.6h-1.6zM144.6 123.2h1.6v1.6h-1.6zM163.8 137.1h1.6v1.6h-1.6zM126.2 117.6h1.6v1.6h-1.6zM130.4 117.2h1.6v1.6h-1.6zM138.4 121.7h1.6v1.6h-1.6zM127.1 146.1h1.6v1.6h-1.6zM148.7 121.2h1.6v1.6h-1.6zM157.6 121.6h1.6v1.6h-1.6zM151.5 118.4h1.6v1.6h-1.6zM133.9 120.1h1.6v1.6h-1.6zM141.1 140.0h1.6v1.6h-1.6zM131.5 132.7h1.6v1.6h-1.6zM137.5 148.5h1.6v1.6h-1.6zM159.8 125.9h1.6v1.6h-1.6zM162.3 135.5h1.6v1.6h-1.6zM143.2 126.6h1.6v1.6h-1.6zM124.0 136.1h1.6v1.6h-1.6zM164.8 133.9h1.6v1.6h-1.6zM140.5 115.8h1.6v1.6h-1.6zM124.7 132.4h1.6v1.6h-1.6zM136.4 120.7h1.6v1.6h-1.6zM142.8 129.8h1.6v1.6h-1.6zM153.4 141.8h1.6v1.6h-1.6zM151.9 152.1h1.6v1.6h-1.6zM161.1 132.9h1.6v1.6h-1.6zM129.4 115.5h1.6v1.6h-1.6zM142.3 137.9h1.6v1.6h-1.6zM160.9 136.4h1.6v1.6h-1.6zM137.3 124.1h1.6v1.6h-1.6zM157.3 145.4h1.6v1.6h-1.6zM153.9 146.7h1.6v1.6h-1.6zM147.6 122.1h1.6v1.6h-1.6zM144.2 135.2h1.6v1.6h-1.6zM165.6 131.3h1.6v1.6h-1.6zM135.0 128.9h1.6v1.6h-1.6zM128.4 119.1h1.6v1.6h-1.6zM148.6 134.7h1.6v1.6h-1.6zM140.6 120.0h1.6v1.6h-1.6zM128.0 136.4h1.6v1.6h-1.6zM149.4 139.5h1.6v1.6h-1.6zM154.9 137.4h1.6v1.6h-1.6zM127.3 118.5h1.6v1.6h-1.6zM157.9 137.7h1.6v1.6h-1.6zM126.8 125.5h1.6v1.6h-1.6zM145.1 149.3h1.6v1.6h-1.6zM159.5 134.9h1.6v1.6h-1.6zM137.9 140.6h1.6v1.6h-1.6zM150.4 137.4h1.6v1.6h-1.6zM155.5 123.2h1.6v1.6h-1.6zM134.2 137.9h1.6v1.6h-1.6zM149.9 146.6h1.6v1.6h-1.6zM135.7 138.0h1.6v1.6h-1.6zM161.5 137.7h1.6v1.6h-1.6zM144.7 132.5h1.6v1.6h-1.6zM162.8 132.6h1.6v1.6h-1.6zM140.0 115.5h1.6v1.6h-1.6zM134.3 119.9h1.6v1.6h-1.6zM130.0 116.2h1.6v1.6h-1.6zM146.8 139.9h1.6v1.6h-1.6zM125.7 146.2h1.6v1.6h-1.6zM136.0 147.2h1.6v1.6h-1.6zM161.5 133.4h1.6v1.6h-1.6zM138.6 153.4h1.6v1.6h-1.6zM149.6 117.8h1.6v1.6h-1.6zM148.5 149.3h1.6v1.6h-1.6zM148.3 121.2h1.6v1.6h-1.6zM125.7 141.4h1.6v1.6h-1.6zM147.0 144.5h1.6v1.6h-1.6zM126.4 140.9h1.6v1.6h-1.6zM127.3 137.0h1.6v1.6h-1.6zM138.0 135.7h1.6v1.6h-1.6zM145.7 148.4h1.6v1.6h-1.6zM138.1 150.4h1.6v1.6h-1.6zM124.0 116.3h1.6v1.6h-1.6zM158.6 141.0h1.6v1.6h-1.6zM152.9 138.1h1.6v1.6h-1.6zM155.4 145.5h1.6v1.6h-1.6zM158.4 129.0h1.6v1.6h-1.6zM151.0 131.7h1.6v1.6h-1.6zM154.4 139.6h1.6v1.6h-1.6zM121.5 123.8h1.6v1.6h-1.6zM136.2 142.0h1.6v1.6h-1.6zM131.6 126.3h1.6v1.6h-1.6zM122.7 130.4h1.6v1.6h-1.6zM136.8 117.0h1.6v1.6h-1.6zM122.2 123.8h1.6v1.6h-1.6zM140.6 146.8h1.6v1.6h-1.6zM127.3 125.9h1.6v1.6h-1.6zM159.6 123.3h1.6v1.6h-1.6zM142.8 114.5h1.6v1.6h-1.6zM144.5 126.0h1.6v1.6h-1.6zM132.1 149.1h1.6v1.6h-1.6zM144.0 118.2h1.6v1.6h-1.6zM139.2 140.1h1.6v1.6h-1.6zM116.6 125.7h1.6v1.6h-1.6zM141.1 118.0h1.6v1.6h-1.6zM114.9 126.9h1.6v1.6h-1.6zM157.1 143.5h1.6v1.6h-1.6zM149.7 125.6h1.6v1.6h-1.6zM128.3 128.7h1.6v1.6h-1.6zM157.2 137.9h1.6v1.6h-1.6zM141.4 153.7h1.6v1.6h-1.6zM139.4 141.1h1.6v1.6h-1.6zM135.3 134.9h1.6v1.6h-1.6zM154.2 127.9h1.6v1.6h-1.6zM143.6 142.1h1.6v1.6h-1.6zM156.3 128.9h1.6v1.6h-1.6zM131.1 117.6h1.6v1.6h-1.6zM162.0 139.5h1.6v1.6h-1.6zM126.5 121.7h1.6v1.6h-1.6zM130.8 146.4h1.6v1.6h-1.6zM129.8 137.3h1.6v1.6h-1.6zM141.3 137.7h1.6v1.6h-1.6zM139.1 137.1h1.6v1.6h-1.6zM153.7 152.7h1.6v1.6h-1.6zM145.7 153.0h1.6v1.6h-1.6zM131.0 138.9h1.6v1.6h-1.6zM159.9 144.7h1.6v1.6h-1.6zM145.3 151.3h1.6v1.6h-1.6zM159.9 150.3h1.6v1.6h-1.6zM147.5 145.0h1.6v1.6h-1.6zM131.9 132.9h1.6v1.6h-1.6zM151.8 125.1h1.6v1.6h-1.6zM161.5 142.1h1.6v1.6h-1.6zM137.0 131.5h1.6v1.6h-1.6zM141.5 145.3h1.6v1.6h-1.6zM122.9 119.6h1.6v1.6h-1.6zM144.4 130.3h1.6v1.6h-1.6zM121.1 118.7h1.6v1.6h-1.6zM116.9 123.6h1.6v1.6h-1.6zM130.7 141.0h1.6v1.6h-1.6zM160.7 145.9h1.6v1.6h-1.6zM152.6 152.3h1.6v1.6h-1.6zM138.2 116.8h1.6v1.6h-1.6zM138.6 128.0h1.6v1.6h-1.6zM152.4 152.9h1.6v1.6h-1.6zM157.2 147.4h1.6v1.6h-1.6zM119.7 127.7h1.6v1.6h-1.6zM122.9 133.7h1.6v1.6h-1.6zM135.4 138.9h1.6v1.6h-1.6zM160.9 131.9h1.6v1.6h-1.6zM155.3 143.1h1.6v1.6h-1.6zM153.9 146.4h1.6v1.6h-1.6zM148.0 152.3h1.6v1.6h-1.6zM126.3 126.9h1.6v1.6h-1.6zM164.6 130.0h1.6v1.6h-1.6zM162.1 128.6h1.6v1.6h-1.6zM153.1 127.0h1.6v1.6h-1.6zM142.8 139.1h1.6v1.6h-1.6zM129.0 130.4h1.6v1.6h-1.6zM123.8 135.8h1.6v1.6h-1.6zM139.2 122.3h1.6v1.6h-1.6zM149.8 130.1h1.6v1.6h-1.6zM144.9 130.1h1.6v1.6h-1.6zM131.4 148.3h1.6v1.6h-1.6zM129.4 146.0h1.6v1.6h-1.6zM132.6 151.2h1.6v1.6h-1.6zM125.6 131.2h1.6v1.6h-1.6zM151.1 119.0h1.6v1.6h-1.6zM143.0 142.3h1.6v1.6h-1.6zM144.5 122.1h1.6v1.6h-1.6zM121.9 126.9h1.6v1.6h-1.6zM135.8 142.8h1.6v1.6h-1.6zM157.8 140.7h1.6v1.6h-1.6zM146.5 134.2h1.6v1.6h-1.6zM151.7 130.4h1.6v1.6h-1.6zM147.0 117.4h1.6v1.6h-1.6zM141.3 137.0h1.6v1.6h-1.6zM134.5 115.0h1.6v1.6h-1.6zM135.7 129.0h1.6v1.6h-1.6zM134.2 131.9h1.6v1.6h-1.6zM158.2 132.3h1.6v1.6h-1.6zM133.9 145.4h1.6v1.6h-1.6zM128.7 133.4h1.6v1.6h-1.6zM126.8 130.6h1.6v1.6h-1.6zM147.6 130.1h1.6v1.6h-1.6zM156.3 122.5h1.6v1.6h-1.6zM144.2 131.4h1.6v1.6h-1.6zM151.0 128.2h1.6v1.6h-1.6zM152.0 124.1h1.6v1.6h-1.6zM140.5 121.1h1.6v1.6h-1.6zM153.3 150.8h1.6v1.6h-1.6zM148.6 152.2h1.6v1.6h-1.6zM130.8 122.9h1.6v1.6h-1.6zM138.2 150.7h1.6v1.6h-1.6zM139.7 116.9h1.6v1.6h-1.6zM137.1 131.2h1.6v1.6h-1.6zM134.0 141.7h1.6v1.6h-1.6zM142.7 121.4h1.6v1.6h-1.6zM137.7 151.7h1.6v1.6h-1.6zM163.0 141.9h1.6v1.6h-1.6zM137.4 121.1h1.6v1.6h-1.6zM145.8 134.5h1.6v1.6h-1.6zM146.0 125.1h1.6v1.6h-1.6zM151.8 130.7h1.6v1.6h-1.6zM154.5 134.4h1.6v1.6h-1.6zM154.6 129.9h1.6v1.6h-1.6zM133.3 151.3h1.6v1.6h-1.6zM159.2 143.0h1.6v1.6h-1.6zM160.8 139.1h1.6v1.6h-1.6zM140.6 125.6h1.6v1.6h-1.6zM142.7 117.3h1.6v1.6h-1.6zM126.7 146.9h1.6v1.6h-1.6zM143.3 141.5h1.6v1.6h-1.6zM134.3 151.5h1.6v1.6h-1.6zM156.9 144.0h1.6v1.6h-1.6zM131.2 132.1h1.6v1.6h-1.6zM121.8 132.2h1.6v1.6h-1.6zM136.0 124.8h1.6v1.6h-1.6zM144.4 146.8h1.6v1.6h-1.6zM152.8 144.9h1.6v1.6h-1.6zM132.0 119.6h1.6v1.6h-1.6zM133.2 131.4h1.6v1.6h-1.6zM147.7 134.7h1.6v1.6h-1.6zM136.5 133.8h1.6v1.6h-1.6zM157.7 142.1h1.6v1.6h-1.6zM159.5 136.1h1.6v1.6h-1.6zM165.4 138.0h1.6v1.6h-1.6zM122.5 135.1h1.6v1.6h-1.6zM130.1 144.5h1.6v1.6h-1.6zM150.4 142.3h1.6v1.6h-1.6zM140.5 117.3h1.6v1.6h-1.6zM136.7 119.1h1.6v1.6h-1.6zM131.6 127.5h1.6v1.6h-1.6zM164.5 126.0h1.6v1.6h-1.6zM141.5 135.1h1.6v1.6h-1.6zM154.2 134.2h1.6v1.6h-1.6zM135.3 143.0h1.6v1.6h-1.6zM155.9 129.7h1.6v1.6h-1.6zM127.5 144.9h1.6v1.6h-1.6zM155.5 139.7h1.6v1.6h-1.6zM157.3 121.4h1.6v1.6h-1.6zM134.7 135.7h1.6v1.6h-1.6zM130.3 147.0h1.6v1.6h-1.6z"/>
<path fill="#ad2a60" d="M79.5 116.9h1.6v1.6h-1.6zM81.3 113.2h1.6v1.6h-1.6zM99.3 80.9h1.6v1.6h-1.6zM103.3 74.1h1.6v1.6h-1.6zM99.1 77.4h1.6v1.6h-1.6zM104.4 79.1h1.6v1.6h-1.6zM96.6 73.5h1.6v1.6h-1.6zM101.9 78.2h1.6v1.6h-1.6zM126.8 38.2h1.6v1.6h-1.6zM130.5 32.2h1.6v1.6h-1.6zM119.0 39.9h1.6v1.6h-1.6zM137.7 35.8h1.6v1.6h-1.6zM119.5 36.5h1.6v1.6h-1.6zM129.3 35.8h1.6v1.6h-1.6zM133.2 28.0h1.6v1.6h-1.6zM123.9 62.7h1.6v1.6h-1.6zM143.2 34.5h1.6v1.6h-1.6zM128.0 35.6h1.6v1.6h-1.6zM146.5 59.5h1.6v1.6h-1.6zM123.9 42.6h1.6v1.6h-1.6zM119.1 58.7h1.6v1.6h-1.6zM123.1 48.5h1.6v1.6h-1.6zM138.5 64.9h1.6v1.6h-1.6zM131.3 36.8h1.6v1.6h-1.6zM131.5 41.3h1.6v1.6h-1.6zM133.0 65.8h1.6v1.6h-1.6zM120.9 47.1h1.6v1.6h-1.6zM148.7 55.8h1.6v1.6h-1.6zM134.9 39.8h1.6v1.6h-1.6zM120.5 47.4h1.6v1.6h-1.6zM143.8 35.1h1.6v1.6h-1.6zM134.9 31.7h1.6v1.6h-1.6zM124.5 58.6h1.6v1.6h-1.6zM133.8 40.0h1.6v1.6h-1.6zM133.5 41.6h1.6v1.6h-1.6zM138.2 28.9h1.6v1.6h-1.6zM148.6 46.0h1.6v1.6h-1.6zM134.1 38.8h1.6v1.6h-1.6zM132.2 64.1h1.6v1.6h-1.6zM128.2 35.5h1.6v1.6h-1.6zM133.5 29.3h1.6v1.6h-1.6zM137.2 29.6h1.6v1.6h-1.6zM135.1 34.3h1.6v1.6h-1.6zM146.6 52.8h1.6v1.6h-1.6zM117.2 53.2h1.6v1.6h-1.6zM118.4 55.1h1.6v1.6h-1.6zM134.9 62.7h1.6v1.6h-1.6zM117.9 38.4h1.6v1.6h-1.6zM118.6 46.7h1.6v1.6h-1.6zM120.1 39.9h1.6v1.6h-1.6zM145.2 58.4h1.6v1.6h-1.6zM139.6 34.8h1.6v1.6h-1.6zM134.2 38.7h1.6v1.6h-1.6zM146.8 50.1h1.6v1.6h-1.6zM136.3 38.6h1.6v1.6h-1.6zM118.5 55.2h1.6v1.6h-1.6zM125.7 35.1h1.6v1.6h-1.6zM145.2 57.4h1.6v1.6h-1.6zM119.5 54.6h1.6v1.6h-1.6zM131.5 36.9h1.6v1.6h-1.6zM142.1 46.9h1.6v1.6h-1.6zM147.7 49.7h1.6v1.6h-1.6zM122.6 51.6h1.6v1.6h-1.6zM124.8 35.9h1.6v1.6h-1.6zM119.6 47.9h1.6v1.6h-1.6zM123.3 38.0h1.6v1.6h-1.6zM146.8 37.8h1.6v1.6h-1.6zM145.2 37.5h1.6v1.6h-1.6zM140.4 41.0h1.6v1.6h-1.6zM120.1 40.5h1.6v1.6h-1.6zM117.1 45.3h1.6v1.6h-1.6zM149.9 39.9h1.6v1.6h-1.6zM130.7 40.1h1.6v1.6h-1.6zM119.4 51.0h1.6v1.6h-1.6zM143.8 57.9h1.6v1.6h-1.6zM132.7 38.3h1.6v1.6h-1.6zM125.7 38.5h1.6v1.6h-1.6zM120.0 41.8h1.6v1.6h-1.6zM126.4 30.5h1.6v1.6h-1.6zM134.1 36.1h1.6v1.6h-1.6zM141.7 62.4h1.6v1.6h-1.6zM121.8 42.2h1.6v1.6h-1.6zM135.4 31.0h1.6v1.6h-1.6zM119.1 58.3h1.6v1.6h-1.6zM119.1 55.8h1.6v1.6h-1.6zM132.3 37.8h1.6v1.6h-1.6zM130.4 40.8h1.6v1.6h-1.6zM142.7 49.9h1.6v1.6h-1.6zM118.8 55.1h1.6v1.6h-1.6zM124.7 46.7h1.6v1.6h-1.6zM128.4 65.6h1.6v1.6h-1.6zM135.8 31.4h1.6v1.6h-1.6zM149.7 51.6h1.6v1.6h-1.6zM135.9 65.3h1.6v1.6h-1.6zM132.3 32.7h1.6v1.6h-1.6zM118.2 38.7h1.6v1.6h-1.6zM128.5 61.7h1.6v1.6h-1.6zM135.8 39.9h1.6v1.6h-1.6zM149.9 48.2h1.6v1.6h-1.6zM135.8 35.5h1.6v1.6h-1.6zM143.9 46.6h1.6v1.6h-1.6zM135.3 33.0h1.6v1.6h-1.6zM129.2 33.1h1.6v1.6h-1.6zM145.9 59.2h1.6v1.6h-1.6zM119.7 36.6h1.6v1.6h-1.6zM133.4 32.0h1.6v1.6h-1.6zM136.2 32.9h1.6v1.6h-1.6zM125.8 30.4h1.6v1.6h-1.6zM132.5 65.0h1.6v1.6h-1.6zM134.6 40.0h1.6v1.6h-1.6zM127.7 31.9h1.6v1.6h-1.6zM137.0 36.5h1.6v1.6h-1.6zM135.6 75.2h1.6v1.6h-1.6zM143.8 71.2h1.6v1.6h-1.6zM139.9 81.1h1.6v1.6h-1.6zM144.3 70.0h1.6v1.6h-1.6zM138.2 74.5h1.6v1.6h-1.6zM136.4 69.8h1.6v1.6h-1.6zM134.1 82.1h1.6v1.6h-1.6zM132.9 70.4h1.6v1.6h-1.6zM140.5 73.4h1.6v1.6h-1.6zM128.6 64.4h1.6v1.6h-1.6zM140.8 82.9h1.6v1.6h-1.6zM135.1 77.2h1.6v1.6h-1.6zM133.7 69.1h1.6v1.6h-1.6zM141.0 75.4h1.6v1.6h-1.6zM133.4 68.4h1.6v1.6h-1.6zM145.8 71.7h1.6v1.6h-1.6zM137.2 81.5h1.6v1.6h-1.6zM149.4 77.2h1.6v1.6h-1.6zM138.4 68.7h1.6v1.6h-1.6zM135.4 73.5h1.6v1.6h-1.6zM136.4 84.0h1.6v1.6h-1.6zM148.9 76.7h1.6v1.6h-1.6zM134.9 71.5h1.6v1.6h-1.6zM159.4 78.1h1.6v1.6h-1.6zM156.8 81.4h1.6v1.6h-1.6zM161.9 79.7h1.6v1.6h-1.6zM158.4 81.6h1.6v1.6h-1.6zM161.0 75.5h1.6v1.6h-1.6zM158.8 76.6h1.6v1.6h-1.6zM162.6 78.4h1.6v1.6h-1.6zM158.9 82.8h1.6v1.6h-1.6zM157.5 78.7h1.6v1.6h-1.6zM159.9 80.6h1.6v1.6h-1.6zM158.7 82.4h1.6v1.6h-1.6zM160.2 81.1h1.6v1.6h-1.6zM158.1 77.5h1.6v1.6h-1.6zM159.7 79.0h1.6v1.6h-1.6zM161.5 75.0h1.6v1.6h-1.6zM155.8 81.3h1.6v1.6h-1.6zM163.1 78.3h1.6v1.6h-1.6zM157.9 78.6h1.6v1.6h-1.6zM162.0 79.3h1.6v1.6h-1.6zM161.9 79.1h1.6v1.6h-1.6zM160.3 78.4h1.6v1.6h-1.6zM160.2 79.8h1.6v1.6h-1.6zM159.7 76.7h1.6v1.6h-1.6zM157.6 79.7h1.6v1.6h-1.6zM161.9 76.1h1.6v1.6h-1.6zM162.1 81.4h1.6v1.6h-1.6zM158.2 80.1h1.6v1.6h-1.6zM161.0 76.7h1.6v1.6h-1.6zM164.2 79.7h1.6v1.6h-1.6zM150.0 87.5h1.6v1.6h-1.6zM149.2 93.6h1.6v1.6h-1.6zM140.6 89.0h1.6v1.6h-1.6zM149.2 103.9h1.6v1.6h-1.6zM152.5 87.7h1.6v1.6h-1.6zM142.7 102.6h1.6v1.6h-1.6zM145.3 88.6h1.6v1.6h-1.6zM149.0 86.0h1.6v1.6h-1.6zM154.0 102.3h1.6v1.6h-1.6zM159.7 96.5h1.6v1.6h-1.6zM158.9 105.4h1.6v1.6h-1.6zM151.7 102.3h1.6v1.6h-1.6zM153.9 106.2h1.6v1.6h-1.6zM156.2 97.0h1.6v1.6h-1.6zM156.2 91.7h1.6v1.6h-1.6zM144.0 93.3h1.6v1.6h-1.6zM153.8 107.5h1.6v1.6h-1.6zM147.3 107.0h1.6v1.6h-1.6zM143.8 92.4h1.6v1.6h-1.6zM158.2 97.1h1.6v1.6h-1.6zM145.5 106.6h1.6v1.6h-1.6zM155.8 89.6h1.6v1.6h-1.6zM145.0 87.2h1.6v1.6h-1.6zM138.4 96.5h1.6v1.6h-1.6zM142.6 88.1h1.6v1.6h-1.6zM163.5 96.9h1.6v1.6h-1.6zM157.2 99.9h1.6v1.6h-1.6zM155.8 92.2h1.6v1.6h-1.6zM156.8 91.3h1.6v1.6h-1.6zM152.4 103.4h1.6v1.6h-1.6zM141.2 101.9h1.6v1.6h-1.6zM155.9 85.3h1.6v1.6h-1.6zM152.5 89.1h1.6v1.6h-1.6zM157.6 91.8h1.6v1.6h-1.6zM145.2 105.3h1.6v1.6h-1.6zM146.1 95.1h1.6v1.6h-1.6zM149.3 93.4h1.6v1.6h-1.6zM153.1 84.9h1.6v1.6h-1.6zM153.5 97.9h1.6v1.6h-1.6zM145.0 85.6h1.6v1.6h-1.6zM148.4 84.4h1.6v1.6h-1.6zM145.4 100.6h1.6v1.6h-1.6zM158.2 92.6h1.6v1.6h-1.6zM161.3 100.5h1.6v1.6h-1.6zM152.0 89.1h1.6v1.6h-1.6zM139.0 97.1h1.6v1.6h-1.6zM155.5 83.7h1.6v1.6h-1.6zM149.0 87.8h1.6v1.6h-1.6zM155.5 90.0h1.6v1.6h-1.6zM141.9 98.6h1.6v1.6h-1.6zM150.9 99.4h1.6v1.6h-1.6zM145.6 91.5h1.6v1.6h-1.6zM156.2 86.5h1.6v1.6h-1.6zM144.9 87.2h1.6v1.6h-1.6zM156.1 93.7h1.6v1.6h-1.6zM151.7 85.5h1.6v1.6h-1.6zM144.5 91.1h1.6v1.6h-1.6zM144.5 88.4h1.6v1.6h-1.6zM153.5 82.5h1.6v1.6h-1.6zM153.0 95.9h1.6v1.6h-1.6zM157.5 102.3h1.6v1.6h-1.6zM159.7 100.2h1.6v1.6h-1.6zM157.2 91.0h1.6v1.6h-1.6zM148.0 89.3h1.6v1.6h-1.6zM156.5 99.1h1.6v1.6h-1.6zM144.7 99.7h1.6v1.6h-1.6zM151.6 91.4h1.6v1.6h-1.6zM159.1 97.7h1.6v1.6h-1.6zM150.5 98.9h1.6v1.6h-1.6zM141.0 94.6h1.6v1.6h-1.6zM158.6 92.7h1.6v1.6h-1.6zM148.1 84.2h1.6v1.6h-1.6zM155.7 90.8h1.6v1.6h-1.6zM147.7 101.0h1.6v1.6h-1.6zM150.8 93.6h1.6v1.6h-1.6zM150.4 89.9h1.6v1.6h-1.6zM151.2 99.6h1.6v1.6h-1.6zM153.0 100.3h1.6v1.6h-1.6zM147.1 88.5h1.6v1.6h-1.6zM150.2 85.6h1.6v1.6h-1.6zM157.3 96.0h1.6v1.6h-1.6zM150.3 90.3h1.6v1.6h-1.6zM152.8 103.3h1.6v1.6h-1.6zM154.7 102.7h1.6v1.6h-1.6zM146.8 97.3h1.6v1.6h-1.6zM145.1 98.9h1.6v1.6h-1.6zM163.5 94.0h1.6v1.6h-1.6zM133.8 99.8h1.6v1.6h-1.6zM133.6 112.5h1.6v1.6h-1.6zM131.1 101.4h1.6v1.6h-1.6zM135.8 114.6h1.6v1.6h-1.6zM141.8 109.7h1.6v1.6h-1.6zM139.9 114.4h1.6v1.6h-1.6zM135.8 106.9h1.6v1.6h-1.6zM142.9 153.8h1.6v1.6h-1.6zM136.1 123.1h1.6v1.6h-1.6zM146.7 125.9h1.6v1.6h-1.6zM130.9 115.5h1.6v1.6h-1.6zM159.2 148.2h1.6v1.6h-1.6zM145.8 152.0h1.6v1.6h-1.6zM163.5 142.5h1.6v1.6h-1.6zM142.8 149.8h1.6v1.6h-1.6zM161.9 128.3h1.6v1.6h-1.6zM163.9 138.6h1.6v1.6h-1.6zM140.9 151.2h1.6v1.6h-1.6zM144.3 146.1h1.6v1.6h-1.6zM137.2 134.8h1.6v1.6h-1.6zM160.0 151.2h1.6v1.6h-1.6zM161.8 139.3h1.6v1.6h-1.6zM129.7 144.7h1.6v1.6h-1.6zM150.3 151.0h1.6v1.6h-1.6zM150.5 149.4h1.6v1.6h-1.6zM150.6 151.6h1.6v1.6h-1.6zM155.6 152.8h1.6v1.6h-1.6zM127.1 141.1h1.6v1.6h-1.6zM142.8 148.3h1.6v1.6h-1.6zM165.7 140.1h1.6v1.6h-1.6zM136.7 137.2h1.6v1.6h-1.6zM140.1 125.4h1.6v1.6h-1.6zM139.1 125.8h1.6v1.6h-1.6zM145.9 122.4h1.6v1.6h-1.6zM147.9 150.2h1.6v1.6h-1.6zM149.2 122.6h1.6v1.6h-1.6zM140.9 148.6h1.6v1.6h-1.6zM130.6 150.1h1.6v1.6h-1.6zM133.2 129.0h1.6v1.6h-1.6zM158.8 152.0h1.6v1.6h-1.6zM156.4 130.2h1.6v1.6h-1.6zM159.5 137.1h1.6v1.6h-1.6zM141.9 152.1h1.6v1.6h-1.6zM147.4 133.1h1.6v1.6h-1.6zM131.0 118.1h1.6v1.6h-1.6zM154.8 127.5h1.6v1.6h-1.6zM149.6 135.8h1.6v1.6h-1.6zM161.5 138.2h1.6v1.6h-1.6zM127.5 147.6h1.6v1.6h-1.6zM134.3 150.1h1.6v1.6h-1.6zM161.8 136.4h1.6v1.6h-1.6zM134.1 148.6h1.6v1.6h-1.6zM138.8 137.5h1.6v1.6h-1.6zM134.3 127.8h1.6v1.6h-1.6zM147.5 151.6h1.6v1.6h-1.6zM133.0 124.2h1.6v1.6h-1.6zM165.8 128.8h1.6v1.6h-1.6zM160.4 126.8h1.6v1.6h-1.6zM165.4 138.7h1.6v1.6h-1.6zM159.0 125.1h1.6v1.6h-1.6zM162.2 143.3h1.6v1.6h-1.6zM153.1 151.1h1.6v1.6h-1.6zM131.3 149.2h1.6v1.6h-1.6zM144.3 154.1h1.6v1.6h-1.6zM150.9 139.5h1.6v1.6h-1.6zM151.7 153.4h1.6v1.6h-1.6zM127.0 148.5h1.6v1.6h-1.6zM154.9 142.0h1.6v1.6h-1.6zM153.6 126.7h1.6v1.6h-1.6zM146.8 151.8h1.6v1.6h-1.6zM131.0 142.7h1.6v1.6h-1.6zM141.1 149.1h1.6v1.6h-1.6zM148.4 148.5h1.6v1.6h-1.6zM142.4 152.3h1.6v1.6h-1.6zM147.3 148.3h1.6v1.6h-1.6zM160.0 124.6h1.6v1.6h-1.6zM129.3 132.5h1.6v1.6h-1.6zM165.7 139.3h1.6v1.6h-1.6zM153.9 119.2h1.6v1.6h-1.6zM135.5 126.6h1.6v1.6h-1.6zM142.9 151.2h1.6v1.6h-1.6zM134.1 115.9h1.6v1.6h-1.6zM164.4 145.0h1.6v1.6h-1.6zM143.0 150.2h1.6v1.6h-1.6zM137.8 119.1h1.6v1.6h-1.6zM147.3 141.5h1.6v1.6h-1.6zM138.7 140.2h1.6v1.6h-1.6zM166.1 132.5h1.6v1.6h-1.6zM159.4 122.6h1.6v1.6h-1.6zM132.6 146.5h1.6v1.6h-1.6zM133.1 151.1h1.6v1.6h-1.6zM139.8 149.1h1.6v1.6h-1.6zM130.0 141.9h1.6v1.6h-1.6zM160.6 141.5h1.6v1.6h-1.6zM149.0 152.9h1.6v1.6h-1.6zM157.5 121.7h1.6v1.6h-1.6zM151.5 129.9h1.6v1.6h-1.6zM132.6 131.9h1.6v1.6h-1.6zM163.0 145.6h1.6v1.6h-1.6zM162.9 139.3h1.6v1.6h-1.6zM144.9 144.4h1.6v1.6h-1.6zM144.8 117.8h1.6v1.6h-1.6zM152.9 127.6h1.6v1.6h-1.6zM149.5 131.5h1.6v1.6h-1.6zM148.8 136.8h1.6v1.6h-1.6zM141.8 129.6h1.6v1.6h-1.6zM129.5 144.3h1.6v1.6h-1.6zM156.5 152.3h1.6v1.6h-1.6zM159.1 132.8h1.6v1.6h-1.6zM141.0 148.4h1.6v1.6h-1.6zM161.5 146.1h1.6v1.6h-1.6zM151.5 142.8h1.6v1.6h-1.6zM144.2 152.7h1.6v1.6h-1.6zM133.8 120.2h1.6v1.6h-1.6zM154.0 149.2h1.6v1.6h-1.6zM164.6 141.5h1.6v1.6h-1.6zM148.7 143.7h1.6v1.6h-1.6zM148.5 126.1h1.6v1.6h-1.6zM129.3 121.9h1.6v1.6h-1.6zM137.3 141.8h1.6v1.6h-1.6zM155.9 151.7h1.6v1.6h-1.6zM126.5 148.4h1.6v1.6h-1.6zM133.7 133.1h1.6v1.6h-1.6zM158.0 152.6h1.6v1.6h-1.6zM141.1 154.1h1.6v1.6h-1.6zM152.1 118.7h1.6v1.6h-1.6zM145.9 118.7h1.6v1.6h-1.6zM164.1 138.1h1.6v1.6h-1.6zM156.4 122.5h1.6v1.6h-1.6zM133.4 114.7h1.6v1.6h-1.6zM130.8 137.4h1.6v1.6h-1.6zM164.7 130.4h1.6v1.6h-1.6zM159.5 131.2h1.6v1.6h-1.6zM159.0 132.6h1.6v1.6h-1.6zM150.4 119.1h1.6v1.6h-1.6zM142.6 133.5h1.6v1.6h-1.6zM154.4 150.1h1.6v1.6h-1.6zM145.5 124.1h1.6v1.6h-1.6zM166.3 134.6h1.6v1.6h-1.6zM151.6 137.8h1.6v1.6h-1.6zM126.6 135.3h1.6v1.6h-1.6zM128.8 118.3h1.6v1.6h-1.6zM127.7 143.0h1.6v1.6h-1.6zM161.0 124.0h1.6v1.6h-1.6zM144.5 124.9h1.6v1.6h-1.6zM164.0 132.8h1.6v1.6h-1.6zM157.0 141.0h1.6v1.6h-1.6zM165.7 133.1h1.6v1.6h-1.6zM165.8 131.9h1.6v1.6h-1.6zM141.7 153.0h1.6v1.6h-1.6zM157.2 144.9h1.6v1.6h-1.6zM138.1 116.9h1.6v1.6h-1.6zM149.7 119.1h1.6v1.6h-1.6zM156.4 142.3h1.6v1.6h-1.6zM137.6 149.3h1.6v1.6h-1.6zM135.1 119.3h1.6v1.6h-1.6zM135.4 132.8h1.6v1.6h-1.6zM147.7 142.1h1.6v1.6h-1.6zM158.9 138.8h1.6v1.6h-1.6zM163.2 129.3h1.6v1.6h-1.6zM165.5 131.5h1.6v1.6h-1.6zM143.0 152.3h1.6v1.6h-1.6zM155.4 152.5h1.6v1.6h-1.6zM139.8 149.2h1.6v1.6h-1.6zM138.9 149.3h1.6v1.6h-1.6zM160.4 135.6h1.6v1.6h-1.6zM127.6 147.2h1.6v1.6h-1.6zM130.8 144.8h1.6v1.6h-1.6zM132.1 130.6h1.6v1.6h-1.6zM140.9 150.5h1.6v1.6h-1.6zM139.9 125.5h1.6v1.6h-1.6zM146.4 153.1h1.6v1.6h-1.6zM140.7 153.7h1.6v1.6h-1.6zM130.0 126.4h1.6v1.6h-1.6zM138.7 118.4h1.6v1.6h-1.6zM140.1 153.2h1.6v1.6h-1.6zM137.6 115.6h1.6v1.6h-1.6zM164.9 126.9h1.6v1.6h-1.6zM143.8 151.7h1.6v1.6h-1.6zM162.1 127.0h1.6v1.6h-1.6zM153.0 133.8h1.6v1.6h-1.6zM150.7 118.9h1.6v1.6h-1.6zM136.7 142.8h1.6v1.6h-1.6zM151.1 121.0h1.6v1.6h-1.6zM165.6 138.9h1.6v1.6h-1.6zM132.3 147.7h1.6v1.6h-1.6zM161.3 132.0h1.6v1.6h-1.6zM139.8 147.2h1.6v1.6h-1.6zM163.2 133.7h1.6v1.6h-1.6zM161.6 130.0h1.6v1.6h-1.6zM159.1 151.5h1.6v1.6h-1.6zM160.1 134.8h1.6v1.6h-1.6zM147.8 148.8h1.6v1.6h-1.6zM137.8 134.1h1.6v1.6h-1.6zM163.8 147.0h1.6v1.6h-1.6z"/>
<path fill="#9c174c" d="M395.8 78.2h1.6v1.6h-1.6zM406.7 60.3h1.6v1.6h-1.6zM390.3 93.7h1.6v1.6h-1.6zM414.0 104.6h1.6v1.6h-1.6zM402.3 100.7h1.6v1.6h-1.6zM418.5 64.6h1.6v1.6h-1.6zM392.5 78.5h1.6v1.6h-1.6zM411.5 75.8h1.6v1.6h-1.6zM415.9 103.4h1.6v1.6h-1.6zM394.5 71.2h1.6v1.6h-1.6zM398.3 75.5h1.6v1.6h-1.6zM412.3 69.5h1.6v1.6h-1.6zM413.0 94.8h1.6v1.6h-1.6zM415.8 56.0h1.6v1.6h-1.6zM390.5 95.8h1.6v1.6h-1.6zM403.1 88.0h1.6v1.6h-1.6zM390.0 89.0h1.6v1.6h-1.6zM390.3 87.7h1.6v1.6h-1.6zM425.9 42.2h1.6v1.6h-1.6zM405.5 99.3h1.6v1.6h-1.6zM416.9 57.3h1.6v1.6h-1.6zM426.9 46.3h1.6v1.6h-1.6zM405.2 71.6h1.6v1.6h-1.6zM411.2 100.2h1.6v1.6h-1.6zM412.0 75.9h1.6v1.6h-1.6zM396.7 89.5h1.6v1.6h-1.6zM415.0 94.0h1.6v1.6h-1.6zM406.6 100.9h1.6v1.6h-1.6zM406.2 83.9h1.6v1.6h-1.6zM403.2 90.9h1.6v1.6h-1.6zM387.5 95.1h1.6v1.6h-1.6zM402.4 98.9h1.6v1.6h-1.6zM388.9 92.2h1.6v1.6h-1.6zM414.1 101.2h1.6v1.6h-1.6zM400.7 80.4h1.6v1.6h-1.6zM427.5 43.9h1.6v1.6h-1.6zM408.2 107.3h1.6v1.6h-1.6zM416.0 66.2h1.6v1.6h-1.6zM388.7 93.1h1.6v1.6h-1.6zM397.1 91.6h1.6v1.6h-1.6zM393.6 69.7h1.6v1.6h-1.6zM417.2 88.9h1.6v1.6h-1.6zM421.7 46.9h1.6v1.6h-1.6zM394.3 95.0h1.6v1.6h-1.6zM390.2 79.6h1.6v1.6h-1.6zM408.6 107.9h1.6v1.6h-1.6zM394.5 84.5h1.6v1.6h-1.6zM411.0 70.7h1.6v1.6h-1.6zM397.7 93.4h1.6v1.6h-1.6zM402.5 75.2h1.6v1.6h-1.6zM407.5 106.5h1.6v1.6h-1.6zM391.7 82.3h1.6v1.6h-1.6zM386.6 93.8h1.6v1.6h-1.6zM399.1 101.7h1.6v1.6h-1.6zM410.5 88.4h1.6v1.6h-1.6zM404.9 60.8h1.6v1.6h-1.6zM408.3 103.7h1.6v1.6h-1.6zM424.4 42.5h1.6v1.6h-1.6zM391.5 81.8h1.6v1.6h-1.6zM405.8 92.7h1.6v1.6h-1.6zM408.0 67.6h1.6v1.6h-1.6zM405.6 65.1h1.6v1.6h-1.6zM401.4 103.3h1.6v1.6h-1.6zM406.8 86.8h1.6v1.6h-1.6zM406.0 78.3h1.6v1.6h-1.6zM406.7 69.8h1.6v1.6h-1.6zM422.7 51.4h1.6v1.6h-1.6zM419.3 57.3h1.6v1.6h-1.6zM417.1 84.9h1.6v1.6h-1.6zM399.7 83.8h1.6v1.6h-1.6zM405.4 85.1h1.6v1.6h-1.6zM417.0 97.3h1.6v1.6h-1.6zM390.6 80.6h1.6v1.6h-1.6zM419.4 63.1h1.6v1.6h-1.6zM391.5 91.1h1.6v1.6h-1.6zM389.6 87.1h1.6v1.6h-1.6zM396.8 78.3h1.6v1.6h-1.6zM401.4 64.3h1.6v1.6h-1.6zM411.5 67.9h1.6v1.6h-1.6zM404.7 81.1h1.6v1.6h-1.6zM423.2 49.1h1.6v1.6h-1.6zM411.7 95.1h1.6v1.6h-1.6zM418.0 66.5h1.6v1.6h-1.6zM418.5 71.3h1.6v1.6h-1.6zM401.3 81.0h1.6v1.6h-1.6zM408.8 59.1h1.6v1.6h-1.6zM413.4 89.5h1.6v1.6h-1.6zM422.6 54.4h1.6v1.6h-1.6zM400.3 75.4h1.6v1.6h-1.6zM401.7 75.8h1.6v1.6h-1.6zM412.4 60.8h1.6v1.6h-1.6zM410.9 95.2h1.6v1.6h-1.6zM394.8 74.3h1.6v1.6h-1.6zM399.0 70.7h1.6v1.6h-1.6zM410.0 108.7h1.6v1.6h-1.6zM407.7 107.4h1.6v1.6h-1.6zM406.9 74.9h1.6v1.6h-1.6zM399.4 69.0h1.6v1.6h-1.6zM428.3 41.8h1.6v1.6h-1.6zM428.2 46.5h1.6v1.6h-1.6zM406.7 102.0h1.6v1.6h-1.6zM414.5 77.8h1.6v1.6h-1.6zM407.3 87.9h1.6v1.6h-1.6zM401.7 68.4h1.6v1.6h-1.6zM413.4 64.4h1.6v1.6h-1.6zM396.9 86.2h1.6v1.6h-1.6zM410.2 63.4h1.6v1.6h-1.6zM416.3 109.6h1.6v1.6h-1.6zM401.5 99.7h1.6v1.6h-1.6zM415.5 74.1h1.6v1.6h-1.6zM397.0 100.9h1.6v1.6h-1.6zM410.5 107.2h1.6v1.6h-1.6zM393.6 75.9h1.6v1.6h-1.6zM423.3 51.1h1.6v1.6h-1.6zM412.9 60.8h1.6v1.6h-1.6zM411.4 63.4h1.6v1.6h-1.6zM398.6 64.5h1.6v1.6h-1.6zM399.0 94.1h1.6v1.6h-1.6zM401.3 88.9h1.6v1.6h-1.6zM399.5 73.0h1.6v1.6h-1.6zM412.7 99.9h1.6v1.6h-1.6zM393.6 97.8h1.6v1.6h-1.6zM416.7 99.5h1.6v1.6h-1.6zM413.2 62.9h1.6v1.6h-1.6zM402.0 65.7h1.6v1.6h-1.6zM413.3 98.0h1.6v1.6h-1.6zM408.2 75.5h1.6v1.6h-1.6zM403.8 95.6h1.6v1.6h-1.6zM415.7 76.7h1.6v1.6h-1.6zM410.0 99.0h1.6v1.6h-1.6zM400.6 72.6h1.6v1.6h-1.6zM412.6 56.0h1.6v1.6h-1.6zM409.3 69.8h1.6v1.6h-1.6zM408.6 63.5h1.6v1.6h-1.6zM417.6 64.9h1.6v1.6h-1.6zM408.3 91.0h1.6v1.6h-1.6zM405.3 78.1h1.6v1.6h-1.6zM416.3 97.4h1.6v1.6h-1.6zM395.2 77.7h1.6v1.6h-1.6zM399.3 75.4h1.6v1.6h-1.6zM394.9 76.8h1.6v1.6h-1.6zM408.7 58.0h1.6v1.6h-1.6zM403.0 96.1h1.6v1.6h-1.6zM404.3 103.1h1.6v1.6h-1.6zM409.0 93.1h1.6v1.6h-1.6zM410.1 61.0h1.6v1.6h-1.6zM392.1 79.4h1.6v1.6h-1.6zM410.5 106.4h1.6v1.6h-1.6zM404.2 67.5h1.6v1.6h-1.6zM405.3 72.3h1.6v1.6h-1.6zM402.7 70.3h1.6v1.6h-1.6zM406.4 107.2h1.6v1.6h-1.6zM420.2 65.3h1.6v1.6h-1.6zM413.0 89.7h1.6v1.6h-1.6zM418.0 101.5h1.6v1.6h-1.6zM406.6 81.6h1.6v1.6h-1.6zM400.3 86.3h1.6v1.6h-1.6zM411.7 74.9h1.6v1.6h-1.6zM409.7 98.9h1.6v1.6h-1.6zM410.9 73.1h1.6v1.6h-1.6zM411.8 70.3h1.6v1.6h-1.6zM412.2 71.5h1.6v1.6h-1.6zM411.3 68.8h1.6v1.6h-1.6zM402.2 91.4h1.6v1.6h-1.6zM430.0 42.7h1.6v1.6h-1.6zM395.1 78.1h1.6v1.6h-1.6zM416.2 57.5h1.6v1.6h-1.6zM409.3 108.3h1.6v1.6h-1.6zM403.9 62.9h1.6v1.6h-1.6zM417.0 60.5h1.6v1.6h-1.6zM406.8 61.6h1.6v1.6h-1.6zM398.4 92.2h1.6v1.6h-1.6zM398.2 98.8h1.6v1.6h-1.6zM421.5 48.3h1.6v1.6h-1.6zM401.3 75.7h1.6v1.6h-1.6zM416.4 102.8h1.6v1.6h-1.6zM410.2 84.4h1.6v1.6h-1.6zM422.1 52.1h1.6v1.6h-1.6zM401.2 66.8h1.6v1.6h-1.6zM404.5 66.8h1.6v1.6h-1.6zM434.9 100.3h1.6v1.6h-1.6zM422.4 89.5h1.6v1.6h-1.6zM434.8 72.8h1.6v1.6h-1.6zM428.9 53.2h1.6v1.6h-1.6zM433.0 110.2h1.6v1.6h-1.6zM439.5 102.5h1.6v1.6h-1.6zM430.8 65.6h1.6v1.6h-1.6zM421.9 103.1h1.6v1.6h-1.6zM437.1 100.5h1.6v1.6h-1.6zM434.0 76.1h1.6v1.6h-1.6zM438.1 106.3h1.6v1.6h-1.6zM432.3 76.7h1.6v1.6h-1.6zM427.8 66.7h1.6v1.6h-1.6zM430.7 48.1h1.6v1.6h-1.6zM436.6 99.4h1.6v1.6h-1.6zM422.2 72.9h1.6v1.6h-1.6zM430.9 100.4h1.6v1.6h-1.6zM432.5 69.7h1.6v1.6h-1.6zM423.4 101.3h1.6v1.6h-1.6zM419.1 87.0h1.6v1.6h-1.6zM423.7 60.5h1.6v1.6h-1.6zM430.5 109.3h1.6v1.6h-1.6zM419.6 75.7h1.6v1.6h-1.6zM426.7 89.2h1.6v1.6h-1.6zM424.0 65.0h1.6v1.6h-1.6zM426.9 64.9h1.6v1.6h-1.6zM427.1 93.3h1.6v1.6h-1.6zM425.4 65.4h1.6v1.6h-1.6zM439.2 108.8h1.6v1.6h-1.6zM421.2 92.5h1.6v1.6h-1.6zM426.9 82.1h1.6v1.6h-1.6zM424.0 60.2h1.6v1.6h-1.6zM424.6 105.2h1.6v1.6h-1.6zM424.8 95.6h1.6v1.6h-1.6zM425.9 61.1h1.6v1.6h-1.6zM429.4 75.3h1.6v1.6h-1.6zM439.2 97.7h1.6v1.6h-1.6zM422.6 106.2h1.6v1.6h-1.6zM423.7 57.0h1.6v1.6h-1.6zM424.9 64.6h1.6v1.6h-1.6zM430.9 73.9h1.6v1.6h-1.6zM427.9 112.9h1.6v1.6h-1.6zM438.4 103.7h1.6v1.6h-1.6zM425.2 77.2h1.6v1.6h-1.6zM442.4 100.0h1.6v1.6h-1.6zM432.8 67.0h1.6v1.6h-1.6zM434.0 91.7h1.6v1.6h-1.6zM418.3 83.5h1.6v1.6h-1.6zM422.4 108.9h1.6v1.6h-1.6zM436.3 108.3h1.6v1.6h-1.6zM426.6 66.4h1.6v1.6h-1.6zM432.4 97.0h1.6v1.6h-1.6zM436.1 82.6h1.6v1.6h-1.6zM424.8 57.3h1.6v1.6h-1.6zM430.7 71.1h1.6v1.6h-1.6zM425.0 70.1h1.6v1.6h-1.6zM419.6 106.2h1.6v1.6h-1.6zM423.1 99.0h1.6v1.6h-1.6zM431.9 91.8h1.6v1.6h-1.6zM437.2 85.5h1.6v1.6h-1.6zM420.6 101.9h1.6v1.6h-1.6zM433.1 94.1h1.6v1.6h-1.6zM439.7 95.3h1.6v1.6h-1.6zM432.9 93.4h1.6v1.6h-1.6zM431.3 71.7h1.6v1.6h-1.6zM418.3 89.8h1.6v1.6h-1.6zM435.2 98.6h1.6v1.6h-1.6zM424.8 111.1h1.6v1.6h-1.6zM433.2 83.8h1.6v1.6h-1.6zM433.9 100.3h1.6v1.6h-1.6zM429.0 96.7h1.6v1.6h-1.6zM425.5 82.6h1.6v1.6h-1.6zM419.9 98.9h1.6v1.6h-1.6zM430.6 56.3h1.6v1.6h-1.6zM431.2 93.0h1.6v1.6h-1.6zM424.6 58.8h1.6v1.6h-1.6zM424.6 70.7h1.6v1.6h-1.6zM440.0 99.1h1.6v1.6h-1.6zM425.4 100.2h1.6v1.6h-1.6zM425.8 113.8h1.6v1.6h-1.6zM429.6 105.3h1.6v1.6h-1.6zM418.4 100.5h1.6v1.6h-1.6zM441.8 112.1h1.6v1.6h-1.6zM426.5 58.5h1.6v1.6h-1.6zM426.2 51.4h1.6v1.6h-1.6zM433.4 103.9h1.6v1.6h-1.6zM434.9 74.3h1.6v1.6h-1.6zM434.8 108.4h1.6v1.6h-1.6zM420.9 99.9h1.6v1.6h-1.6zM422.9 95.2h1.6v1.6h-1.6zM418.9 80.4h1.6v1.6h-1.6zM427.7 55.9h1.6v1.6h-1.6zM428.7 113.3h1.6v1.6h-1.6zM429.3 101.9h1.6v1.6h-1.6zM430.3 68.2h1.6v1.6h-1.6zM421.9 107.5h1.6v1.6h-1.6zM437.0 35.8h1.6v1.6h-1.6zM434.5 50.5h1.6v1.6h-1.6zM434.7 38.0h1.6v1.6h-1.6zM450.0 34.3h1.6v1.6h-1.6zM458.9 28.1h1.6v1.6h-1.6zM441.7 39.0h1.6v1.6h-1.6zM437.5 40.3h1.6v1.6h-1.6zM454.4 37.8h1.6v1.6h-1.6zM453.6 40.8h1.6v1.6h-1.6zM448.5 41.1h1.6v1.6h-1.6zM427.9 112.9h1.6v1.6h-1.6zM433.7 117.2h1.6v1.6h-1.6zM421.2 105.6h1.6v1.6h-1.6zM487.6 35.9h1.6v1.6h-1.6zM482.3 31.7h1.6v1.6h-1.6zM486.5 57.5h1.6v1.6h-1.6zM471.7 60.4h1.6v1.6h-1.6zM485.5 30.2h1.6v1.6h-1.6zM486.3 41.4h1.6v1.6h-1.6zM465.6 35.7h1.6v1.6h-1.6zM492.2 50.1h1.6v1.6h-1.6zM490.9 54.2h1.6v1.6h-1.6zM477.5 62.8h1.6v1.6h-1.6zM493.0 50.6h1.6v1.6h-1.6zM470.8 35.4h1.6v1.6h-1.6zM483.9 59.4h1.6v1.6h-1.6zM489.2 34.4h1.6v1.6h-1.6zM473.1 30.1h1.6v1.6h-1.6zM493.9 44.5h1.6v1.6h-1.6zM480.1 31.4h1.6v1.6h-1.6zM473.0 35.8h1.6v1.6h-1.6zM464.7 49.5h1.6v1.6h-1.6zM490.7 32.8h1.6v1.6h-1.6zM488.1 36.4h1.6v1.6h-1.6zM485.9 41.7h1.6v1.6h-1.6zM463.1 46.8h1.6v1.6h-1.6zM494.7 45.3h1.6v1.6h-1.6zM461.4 46.8h1.6v1.6h-1.6zM491.6 46.3h1.6v1.6h-1.6zM471.0 40.1h1.6v1.6h-1.6zM482.5 39.8h1.6v1.6h-1.6zM472.1 39.8h1.6v1.6h-1.6zM465.0 45.2h1.6v1.6h-1.6zM464.7 55.9h1.6v1.6h-1.6zM479.4 28.1h1.6v1.6h-1.6zM490.6 38.7h1.6v1.6h-1.6zM492.3 47.5h1.6v1.6h-1.6zM462.3 48.6h1.6v1.6h-1.6zM488.9 32.0h1.6v1.6h-1.6zM479.4 37.6h1.6v1.6h-1.6zM485.2 42.4h1.6v1.6h-1.6zM462.9 36.9h1.6v1.6h-1.6zM474.1 30.6h1.6v1.6h-1.6zM480.4 30.3h1.6v1.6h-1.6zM478.8 60.5h1.6v1.6h-1.6zM487.0 51.9h1.6v1.6h-1.6zM471.7 28.0h1.6v1.6h-1.6zM485.1 56.1h1.6v1.6h-1.6zM464.8 41.7h1.6v1.6h-1.6zM477.1 26.8h1.6v1.6h-1.6zM463.2 52.4h1.6v1.6h-1.6zM472.2 31.6h1.6v1.6h-1.6zM474.8 34.4h1.6v1.6h-1.6zM484.7 36.9h1.6v1.6h-1.6zM474.5 63.6h1.6v1.6h-1.6zM464.2 49.7h1.6v1.6h-1.6zM471.0 34.9h1.6v1.6h-1.6zM471.9 32.7h1.6v1.6h-1.6zM465.1 33.8h1.6v1.6h-1.6zM471.3 62.6h1.6v1.6h-1.6zM471.2 40.4h1.6v1.6h-1.6zM472.9 39.3h1.6v1.6h-1.6zM473.2 38.8h1.6v1.6h-1.6zM478.7 28.5h1.6v1.6h-1.6zM490.2 36.2h1.6v1.6h-1.6zM486.7 44.4h1.6v1.6h-1.6zM485.4 30.1h1.6v1.6h-1.6zM489.2 39.5h1.6v1.6h-1.6zM480.8 60.4h1.6v1.6h-1.6zM467.3 43.5h1.6v1.6h-1.6zM463.5 48.1h1.6v1.6h-1.6zM493.2 42.1h1.6v1.6h-1.6zM462.8 36.9h1.6v1.6h-1.6zM480.8 32.2h1.6v1.6h-1.6zM466.4 47.5h1.6v1.6h-1.6zM466.5 46.3h1.6v1.6h-1.6zM470.0 31.2h1.6v1.6h-1.6zM469.3 32.4h1.6v1.6h-1.6zM483.3 37.8h1.6v1.6h-1.6zM477.8 30.8h1.6v1.6h-1.6zM470.6 35.5h1.6v1.6h-1.6zM483.6 31.0h1.6v1.6h-1.6zM470.4 30.9h1.6v1.6h-1.6zM466.5 40.0h1.6v1.6h-1.6zM478.1 35.6h1.6v1.6h-1.6zM463.0 42.3h1.6v1.6h-1.6zM463.9 49.5h1.6v1.6h-1.6zM492.8 41.8h1.6v1.6h-1.6zM493.5 38.4h1.6v1.6h-1.6zM470.1 41.2h1.6v1.6h-1.6zM470.4 41.3h1.6v1.6h-1.6zM490.9 41.6h1.6v1.6h-1.6zM489.7 45.9h1.6v1.6h-1.6zM463.0 55.7h1.6v1.6h-1.6zM475.0 36.6h1.6v1.6h-1.6zM481.8 27.8h1.6v1.6h-1.6zM495.8 40.6h1.6v1.6h-1.6zM476.9 35.8h1.6v1.6h-1.6zM493.6 74.6h1.6v1.6h-1.6zM494.1 77.5h1.6v1.6h-1.6zM488.4 69.2h1.6v1.6h-1.6zM482.2 58.8h1.6v1.6h-1.6zM474.4 62.5h1.6v1.6h-1.6zM494.3 75.4h1.6v1.6h-1.6zM473.7 59.5h1.6v1.6h-1.6zM478.6 71.6h1.6v1.6h-1.6zM483.9 65.1h1.6v1.6h-1.6zM480.5 62.2h1.6v1.6h-1.6zM485.7 70.2h1.6v1.6h-1.6zM491.7 73.8h1.6v1.6h-1.6zM484.0 67.3h1.6v1.6h-1.6zM478.8 77.4h1.6v1.6h-1.6zM489.6 81.2h1.6v1.6h-1.6zM503.0 80.6h1.6v1.6h-1.6zM504.8 79.8h1.6v1.6h-1.6zM507.6 75.2h1.6v1.6h-1.6zM509.3 75.6h1.6v1.6h-1.6zM500.9 79.0h1.6v1.6h-1.6zM504.4 78.3h1.6v1.6h-1.6zM504.4 77.7h1.6v1.6h-1.6zM500.1 75.8h1.6v1.6h-1.6zM507.2 80.4h1.6v1.6h-1.6zM501.7 75.6h1.6v1.6h-1.6zM506.8 78.9h1.6v1.6h-1.6zM507.7 79.1h1.6v1.6h-1.6zM505.8 76.3h1.6v1.6h-1.6zM500.1 76.7h1.6v1.6h-1.6zM500.7 75.2h1.6v1.6h-1.6zM489.1 96.3h1.6v1.6h-1.6zM500.4 92.3h1.6v1.6h-1.6zM488.3 91.2h1.6v1.6h-1.6zM505.4 95.8h1.6v1.6h-1.6zM497.0 90.3h1.6v1.6h-1.6zM494.7 88.4h1.6v1.6h-1.6zM489.5 93.9h1.6v1.6h-1.6zM499.0 91.0h1.6v1.6h-1.6zM497.7 88.1h1.6v1.6h-1.6zM495.4 81.7h1.6v1.6h-1.6zM493.5 90.2h1.6v1.6h-1.6zM500.0 96.9h1.6v1.6h-1.6zM502.5 100.3h1.6v1.6h-1.6zM497.3 93.7h1.6v1.6h-1.6zM488.7 95.9h1.6v1.6h-1.6zM494.8 99.2h1.6v1.6h-1.6zM497.8 96.8h1.6v1.6h-1.6zM491.5 91.3h1.6v1.6h-1.6zM489.0 87.7h1.6v1.6h-1.6zM501.5 92.9h1.6v1.6h-1.6zM502.2 82.6h1.6v1.6h-1.6zM499.2 90.1h1.6v1.6h-1.6zM495.9 101.4h1.6v1.6h-1.6zM488.1 90.8h1.6v1.6h-1.6zM502.0 95.2h1.6v1.6h-1.6zM503.8 91.8h1.6v1.6h-1.6zM500.7 96.7h1.6v1.6h-1.6zM501.6 95.2h1.6v1.6h-1.6zM500.7 83.6h1.6v1.6h-1.6zM501.7 97.1h1.6v1.6h-1.6zM491.6 94.5h1.6v1.6h-1.6zM503.2 90.6h1.6v1.6h-1.6zM492.3 88.1h1.6v1.6h-1.6zM500.7 92.2h1.6v1.6h-1.6zM497.2 83.3h1.6v1.6h-1.6zM500.4 85.6h1.6v1.6h-1.6zM494.3 94.9h1.6v1.6h-1.6zM506.5 89.1h1.6v1.6h-1.6zM507.9 93.7h1.6v1.6h-1.6zM493.7 98.2h1.6v1.6h-1.6zM493.3 92.4h1.6v1.6h-1.6zM500.1 83.2h1.6v1.6h-1.6zM488.5 95.6h1.6v1.6h-1.6zM502.2 91.6h1.6v1.6h-1.6zM499.1 93.8h1.6v1.6h-1.6zM498.1 84.4h1.6v1.6h-1.6zM495.5 101.1h1.6v1.6h-1.6zM488.9 90.0h1.6v1.6h-1.6zM505.0 97.4h1.6v1.6h-1.6zM496.3 95.2h1.6v1.6h-1.6zM498.4 101.5h1.6v1.6h-1.6zM487.2 91.9h1.6v1.6h-1.6zM504.7 94.8h1.6v1.6h-1.6zM494.4 97.9h1.6v1.6h-1.6zM503.2 89.7h1.6v1.6h-1.6zM499.5 88.7h1.6v1.6h-1.6zM494.7 89.8h1.6v1.6h-1.6zM493.9 82.9h1.6v1.6h-1.6zM503.4 95.0h1.6v1.6h-1.6zM501.6 86.4h1.6v1.6h-1.6zM495.9 87.4h1.6v1.6h-1.6zM503.9 94.1h1.6v1.6h-1.6zM501.3 99.7h1.6v1.6h-1.6zM493.5 82.2h1.6v1.6h-1.6zM504.7 93.4h1.6v1.6h-1.6zM491.3 95.4h1.6v1.6h-1.6zM502.1 87.7h1.6v1.6h-1.6zM505.4 86.6h1.6v1.6h-1.6zM498.2 81.4h1.6v1.6h-1.6zM487.7 87.4h1.6v1.6h-1.6zM492.3 84.0h1.6v1.6h-1.6zM497.3 100.5h1.6v1.6h-1.6zM493.2 88.0h1.6v1.6h-1.6zM506.0 93.5h1.6v1.6h-1.6zM494.8 99.0h1.6v1.6h-1.6zM501.6 97.8h1.6v1.6h-1.6zM501.6 84.4h1.6v1.6h-1.6zM502.5 85.6h1.6v1.6h-1.6zM488.2 94.0h1.6v1.6h-1.6zM496.8 98.2h1.6v1.6h-1.6zM504.5 93.4h1.6v1.6h-1.6zM489.6 86.1h1.6v1.6h-1.6zM487.8 93.0h1.6v1.6h-1.6zM506.0 87.7h1.6v1.6h-1.6zM491.4 93.5h1.6v1.6h-1.6zM497.7 97.3h1.6v1.6h-1.6zM496.7 83.3h1.6v1.6h-1.6zM487.5 91.0h1.6v1.6h-1.6zM497.3 101.0h1.6v1.6h-1.6zM487.8 90.1h1.6v1.6h-1.6zM498.2 94.8h1.6v1.6h-1.6zM490.8 85.6h1.6v1.6h-1.6zM497.0 94.7h1.6v1.6h-1.6zM491.8 88.1h1.6v1.6h-1.6zM490.1 97.4h1.6v1.6h-1.6zM502.2 95.4h1.6v1.6h-1.6zM490.0 101.1h1.6v1.6h-1.6zM503.1 83.5h1.6v1.6h-1.6zM491.8 105.3h1.6v1.6h-1.6zM499.2 87.7h1.6v1.6h-1.6zM491.2 88.0h1.6v1.6h-1.6zM491.7 104.6h1.6v1.6h-1.6zM496.0 80.6h1.6v1.6h-1.6zM508.8 90.8h1.6v1.6h-1.6zM496.0 88.0h1.6v1.6h-1.6zM503.6 94.3h1.6v1.6h-1.6zM493.2 102.9h1.6v1.6h-1.6zM494.6 106.0h1.6v1.6h-1.6zM502.3 98.9h1.6v1.6h-1.6zM497.7 98.1h1.6v1.6h-1.6zM506.1 95.2h1.6v1.6h-1.6zM505.7 89.6h1.6v1.6h-1.6zM484.4 90.3h1.6v1.6h-1.6zM493.8 98.4h1.6v1.6h-1.6zM488.1 97.2h1.6v1.6h-1.6zM491.1 82.2h1.6v1.6h-1.6zM504.4 95.2h1.6v1.6h-1.6zM507.8 88.4h1.6v1.6h-1.6zM500.0 102.3h1.6v1.6h-1.6zM493.8 89.2h1.6v1.6h-1.6zM491.9 93.3h1.6v1.6h-1.6zM470.5 91.6h1.6v1.6h-1.6zM484.4 100.8h1.6v1.6h-1.6zM480.6 97.6h1.6v1.6h-1.6zM477.9 98.2h1.6v1.6h-1.6zM476.6 87.8h1.6v1.6h-1.6zM469.7 92.2h1.6v1.6h-1.6zM484.2 99.8h1.6v1.6h-1.6zM477.1 93.5h1.6v1.6h-1.6zM480.7 88.8h1.6v1.6h-1.6zM489.1 105.2h1.6v1.6h-1.6zM481.2 103.7h1.6v1.6h-1.6zM495.4 110.3h1.6v1.6h-1.6zM468.9 108.4h1.6v1.6h-1.6zM476.3 110.1h1.6v1.6h-1.6zM485.7 108.6h1.6v1.6h-1.6zM470.6 107.9h1.6v1.6h-1.6zM476.7 101.6h1.6v1.6h-1.6zM486.3 103.7h1.6v1.6h-1.6zM477.4 104.5h1.6v1.6h-1.6zM482.3 114.8h1.6v1.6h-1.6zM494.4 107.5h1.6v1.6h-1.6zM494.5 138.9h1.6v1.6h-1.6zM478.3 129.6h1.6v1.6h-1.6zM480.3 128.4h1.6v1.6h-1.6zM501.2 123.6h1.6v1.6h-1.6zM495.3 143.6h1.6v1.6h-1.6zM509.3 134.1h1.6v1.6h-1.6zM467.1 119.6h1.6v1.6h-1.6zM483.8 124.5h1.6v1.6h-1.6zM501.2 135.4h1.6v1.6h-1.6zM466.8 135.9h1.6v1.6h-1.6zM475.7 137.4h1.6v1.6h-1.6zM494.6 139.1h1.6v1.6h-1.6zM476.4 122.7h1.6v1.6h-1.6zM466.4 115.9h1.6v1.6h-1.6zM474.0 115.4h1.6v1.6h-1.6zM475.4 146.8h1.6v1.6h-1.6zM505.0 136.5h1.6v1.6h-1.6zM490.0 126.8h1.6v1.6h-1.6zM494.4 130.5h1.6v1.6h-1.6zM473.5 115.7h1.6v1.6h-1.6zM497.2 142.4h1.6v1.6h-1.6zM474.0 112.9h1.6v1.6h-1.6zM477.2 133.9h1.6v1.6h-1.6zM487.7 117.0h1.6v1.6h-1.6zM470.5 118.6h1.6v1.6h-1.6zM489.6 121.4h1.6v1.6h-1.6zM485.6 120.5h1.6v1.6h-1.6zM507.7 133.8h1.6v1.6h-1.6zM501.3 143.8h1.6v1.6h-1.6zM501.8 149.7h1.6v1.6h-1.6zM490.4 135.5h1.6v1.6h-1.6zM481.4 124.8h1.6v1.6h-1.6zM466.1 127.2h1.6v1.6h-1.6zM511.5 132.0h1.6v1.6h-1.6zM505.0 143.0h1.6v1.6h-1.6zM508.5 137.7h1.6v1.6h-1.6zM495.4 121.0h1.6v1.6h-1.6zM479.9 140.7h1.6v1.6h-1.6zM511.4 128.4h1.6v1.6h-1.6zM501.9 134.9h1.6v1.6h-1.6zM510.0 137.6h1.6v1.6h-1.6zM464.1 124.0h1.6v1.6h-1.6zM492.4 120.2h1.6v1.6h-1.6zM477.2 130.5h1.6v1.6h-1.6zM501.8 120.9h1.6v1.6h-1.6zM506.9 146.7h1.6v1.6h-1.6zM480.8 121.6h1.6v1.6h-1.6zM509.4 129.8h1.6v1.6h-1.6zM510.9 139.1h1.6v1.6h-1.6zM480.8 116.1h1.6v1.6h-1.6zM460.8 127.4h1.6v1.6h-1.6zM509.2 138.8h1.6v1.6h-1.6zM510.5 134.6h1.6v1.6h-1.6zM483.5 133.6h1.6v1.6h-1.6zM507.3 140.5h1.6v1.6h-1.6zM491.3 114.3h1.6v1.6h-1.6zM504.0 141.2h1.6v1.6h-1.6zM509.9 134.9h1.6v1.6h-1.6zM506.0 125.0h1.6v1.6h-1.6zM486.9 119.0h1.6v1.6h-1.6zM486.0 118.3h1.6v1.6h-1.6zM488.0 119.7h1.6v1.6h-1.6zM464.5 118.5h1.6v1.6h-1.6zM500.9 142.9h1.6v1.6h-1.6zM487.1 151.9h1.6v1.6h-1.6zM501.0 150.2h1.6v1.6h-1.6zM481.5 126.7h1.6v1.6h-1.6zM505.9 128.8h1.6v1.6h-1.6zM471.5 125.2h1.6v1.6h-1.6zM483.1 118.1h1.6v1.6h-1.6zM498.6 128.5h1.6v1.6h-1.6zM508.3 139.5h1.6v1.6h-1.6zM464.5 117.0h1.6v1.6h-1.6zM479.8 124.5h1.6v1.6h-1.6zM481.6 133.1h1.6v1.6h-1.6zM485.2 141.1h1.6v1.6h-1.6zM482.5 130.8h1.6v1.6h-1.6zM493.7 131.1h1.6v1.6h-1.6zM470.3 142.4h1.6v1.6h-1.6zM467.7 134.4h1.6v1.6h-1.6zM481.0 126.7h1.6v1.6h-1.6zM484.3 125.2h1.6v1.6h-1.6zM496.6 138.9h1.6v1.6h-1.6zM496.8 147.7h1.6v1.6h-1.6zM507.9 129.1h1.6v1.6h-1.6zM464.5 131.7h1.6v1.6h-1.6zM508.0 128.8h1.6v1.6h-1.6zM478.5 123.6h1.6v1.6h-1.6zM475.5 128.1h1.6v1.6h-1.6zM471.3 143.5h1.6v1.6h-1.6zM489.0 130.0h1.6v1.6h-1.6zM499.5 148.7h1.6v1.6h-1.6zM464.9 127.7h1.6v1.6h-1.6zM466.0 133.0h1.6v1.6h-1.6zM506.1 130.1h1.6v1.6h-1.6zM473.3 137.6h1.6v1.6h-1.6zM507.8 129.9h1.6v1.6h-1.6zM485.8 147.3h1.6v1.6h-1.6zM478.2 116.7h1.6v1.6h-1.6zM486.9 113.8h1.6v1.6h-1.6zM511.4 137.4h1.6v1.6h-1.6zM474.2 131.0h1.6v1.6h-1.6zM509.5 137.2h1.6v1.6h-1.6zM488.1 112.9h1.6v1.6h-1.6zM484.2 119.8h1.6v1.6h-1.6zM495.2 129.2h1.6v1.6h-1.6zM482.8 147.1h1.6v1.6h-1.6zM468.1 134.5h1.6v1.6h-1.6zM480.7 134.8h1.6v1.6h-1.6zM507.4 125.1h1.6v1.6h-1.6zM467.6 113.5h1.6v1.6h-1.6zM480.0 120.8h1.6v1.6h-1.6zM476.8 125.5h1.6v1.6h-1.6zM484.5 114.4h1.6v1.6h-1.6zM483.6 123.4h1.6v1.6h-1.6zM506.9 128.7h1.6v1.6h-1.6zM507.3 147.1h1.6v1.6h-1.6zM495.4 135.6h1.6v1.6h-1.6zM476.2 121.4h1.6v1.6h-1.6zM475.6 122.9h1.6v1.6h-1.6zM476.3 144.1h1.6v1.6h-1.6zM461.7 129.1h1.6v1.6h-1.6zM486.1 148.3h1.6v1.6h-1.6zM479.6 132.4h1.6v1.6h-1.6zM465.0 136.7h1.6v1.6h-1.6zM508.2 141.1h1.6v1.6h-1.6zM490.4 118.5h1.6v1.6h-1.6zM494.9 131.9h1.6v1.6h-1.6zM501.2 133.0h1.6v1.6h-1.6zM469.1 131.3h1.6v1.6h-1.6zM489.2 113.3h1.6v1.6h-1.6zM475.2 122.5h1.6v1.6h-1.6zM492.6 148.0h1.6v1.6h-1.6zM477.9 143.6h1.6v1.6h-1.6zM498.0 148.2h1.6v1.6h-1.6zM489.5 119.7h1.6v1.6h-1.6zM463.8 124.6h1.6v1.6h-1.6zM510.9 135.8h1.6v1.6h-1.6zM503.1 144.9h1.6v1.6h-1.6zM475.1 144.7h1.6v1.6h-1.6zM485.8 133.5h1.6v1.6h-1.6zM468.9 114.4h1.6v1.6h-1.6zM505.4 130.6h1.6v1.6h-1.6zM509.2 134.6h1.6v1.6h-1.6zM491.4 125.5h1.6v1.6h-1.6zM489.1 150.6h1.6v1.6h-1.6zM484.8 142.4h1.6v1.6h-1.6zM487.0 119.8h1.6v1.6h-1.6zM474.7 124.2h1.6v1.6h-1.6zM468.4 116.2h1.6v1.6h-1.6zM484.0 114.2h1.6v1.6h-1.6zM482.2 117.1h1.6v1.6h-1.6zM465.7 124.0h1.6v1.6h-1.6zM488.8 141.5h1.6v1.6h-1.6zM508.3 133.6h1.6v1.6h-1.6zM468.4 131.5h1.6v1.6h-1.6zM470.3 115.7h1.6v1.6h-1.6zM493.6 117.4h1.6v1.6h-1.6zM500.8 142.6h1.6v1.6h-1.6zM475.1 124.7h1.6v1.6h-1.6zM487.7 133.6h1.6v1.6h-1.6zM486.1 131.7h1.6v1.6h-1.6zM482.2 141.4h1.6v1.6h-1.6zM488.6 128.7h1.6v1.6h-1.6zM488.9 140.3h1.6v1.6h-1.6zM485.5 136.4h1.6v1.6h-1.6zM468.5 125.3h1.6v1.6h-1.6zM472.4 112.7h1.6v1.6h-1.6zM498.0 142.9h1.6v1.6h-1.6zM471.0 141.4h1.6v1.6h-1.6zM498.5 139.0h1.6v1.6h-1.6zM484.2 136.4h1.6v1.6h-1.6zM500.8 133.2h1.6v1.6h-1.6zM482.9 128.7h1.6v1.6h-1.6zM506.4 131.5h1.6v1.6h-1.6zM498.2 132.3h1.6v1.6h-1.6zM495.3 129.4h1.6v1.6h-1.6zM465.4 115.4h1.6v1.6h-1.6zM477.5 137.2h1.6v1.6h-1.6zM461.4 126.7h1.6v1.6h-1.6zM489.7 117.6h1.6v1.6h-1.6zM503.9 131.9h1.6v1.6h-1.6zM498.6 132.4h1.6v1.6h-1.6zM478.9 129.8h1.6v1.6h-1.6zM486.3 112.8h1.6v1.6h-1.6zM482.5 150.3h1.6v1.6h-1.6zM478.6 114.8h1.6v1.6h-1.6zM508.4 122.9h1.6v1.6h-1.6zM501.8 147.5h1.6v1.6h-1.6zM465.3 123.4h1.6v1.6h-1.6zM462.9 132.6h1.6v1.6h-1.6zM469.0 133.0h1.6v1.6h-1.6zM481.2 134.8h1.6v1.6h-1.6zM475.9 118.8h1.6v1.6h-1.6zM465.2 131.0h1.6v1.6h-1.6zM505.7 134.5h1.6v1.6h-1.6zM486.4 124.7h1.6v1.6h-1.6zM510.4 139.4h1.6v1.6h-1.6zM473.8 129.4h1.6v1.6h-1.6zM464.4 120.9h1.6v1.6h-1.6zM477.2 137.1h1.6v1.6h-1.6zM482.7 124.4h1.6v1.6h-1.6zM478.9 129.6h1.6v1.6h-1.6zM502.2 147.0h1.6v1.6h-1.6zM483.6 150.6h1.6v1.6h-1.6zM504.3 124.9h1.6v1.6h-1.6zM501.5 149.0h1.6v1.6h-1.6zM486.7 124.3h1.6v1.6h-1.6zM475.8 134.6h1.6v1.6h-1.6zM463.1 121.8h1.6v1.6h-1.6zM468.7 128.1h1.6v1.6h-1.6zM500.4 121.7h1.6v1.6h-1.6zM509.8 133.0h1.6v1.6h-1.6zM464.5 124.4h1.6v1.6h-1.6zM467.8 122.9h1.6v1.6h-1.6zM485.7 151.8h1.6v1.6h-1.6zM464.2 117.3h1.6v1.6h-1.6zM499.9 137.3h1.6v1.6h-1.6zM511.7 136.3h1.6v1.6h-1.6zM488.8 139.8h1.6v1.6h-1.6zM487.2 120.1h1.6v1.6h-1.6zM499.7 120.0h1.6v1.6h-1.6zM476.8 113.7h1.6v1.6h-1.6zM501.1 120.5h1.6v1.6h-1.6zM467.8 141.7h1.6v1.6h-1.6zM502.4 129.3h1.6v1.6h-1.6zM501.0 124.6h1.6v1.6h-1.6zM499.0 127.7h1.6v1.6h-1.6zM465.9 132.8h1.6v1.6h-1.6zM475.3 133.2h1.6v1.6h-1.6zM466.3 130.4h1.6v1.6h-1.6zM478.3 113.0h1.6v1.6h-1.6zM490.7 122.1h1.6v1.6h-1.6zM467.2 136.3h1.6v1.6h-1.6zM492.8 146.8h1.6v1.6h-1.6zM502.5 143.0h1.6v1.6h-1.6zM490.9 126.2h1.6v1.6h-1.6zM507.6 130.4h1.6v1.6h-1.6zM479.6 148.4h1.6v1.6h-1.6zM491.6 140.6h1.6v1.6h-1.6zM496.9 149.4h1.6v1.6h-1.6zM477.1 116.4h1.6v1.6h-1.6zM485.9 134.8h1.6v1.6h-1.6zM472.8 135.2h1.6v1.6h-1.6zM511.8 135.5h1.6v1.6h-1.6zM462.8 130.8h1.6v1.6h-1.6zM475.4 117.1h1.6v1.6h-1.6zM506.1 138.4h1.6v1.6h-1.6zM491.7 147.1h1.6v1.6h-1.6zM469.8 120.5h1.6v1.6h-1.6zM464.9 130.5h1.6v1.6h-1.6zM478.5 135.9h1.6v1.6h-1.6zM479.3 141.8h1.6v1.6h-1.6zM486.0 113.5h1.6v1.6h-1.6zM480.7 112.3h1.6v1.6h-1.6zM468.9 128.3h1.6v1.6h-1.6zM471.6 145.5h1.6v1.6h-1.6zM485.7 146.0h1.6v1.6h-1.6zM488.7 121.8h1.6v1.6h-1.6zM471.4 124.4h1.6v1.6h-1.6zM472.6 127.3h1.6v1.6h-1.6zM484.7 121.2h1.6v1.6h-1.6zM463.8 133.0h1.6v1.6h-1.6zM510.6 139.2h1.6v1.6h-1.6zM483.0 136.8h1.6v1.6h-1.6zM502.1 148.0h1.6v1.6h-1.6zM500.7 120.5h1.6v1.6h-1.6zM482.5 146.8h1.6v1.6h-1.6zM494.6 127.2h1.6v1.6h-1.6zM480.8 143.6h1.6v1.6h-1.6zM492.1 121.8h1.6v1.6h-1.6zM469.3 138.2h1.6v1.6h-1.6zM480.7 123.5h1.6v1.6h-1.6zM477.4 149.2h1.6v1.6h-1.6zM477.0 120.5h1.6v1.6h-1.6zM507.0 126.6h1.6v1.6h-1.6zM499.6 128.3h1.6v1.6h-1.6zM491.7 139.4h1.6v1.6h-1.6zM486.5 125.4h1.6v1.6h-1.6zM487.7 136.5h1.6v1.6h-1.6zM503.4 140.3h1.6v1.6h-1.6zM482.6 122.4h1.6v1.6h-1.6zM498.9 118.5h1.6v1.6h-1.6zM494.9 143.6h1.6v1.6h-1.6zM483.9 134.3h1.6v1.6h-1.6zM509.0 134.5h1.6v1.6h-1.6zM497.9 133.0h1.6v1.6h-1.6zM510.0 131.8h1.6v1.6h-1.6zM498.8 145.5h1.6v1.6h-1.6zM463.5 130.0h1.6v1.6h-1.6zM475.0 127.5h1.6v1.6h-1.6zM485.4 121.3h1.6v1.6h-1.6zM460.4 119.5h1.6v1.6h-1.6zM509.8 131.2h1.6v1.6h-1.6zM490.7 115.1h1.6v1.6h-1.6zM499.6 140.5h1.6v1.6h-1.6z"/>
<path fill="#b8386c" d="M392.1 93.8h1.6v1.6h-1.6zM409.7 94.0h1.6v1.6h-1.6zM418.0 73.6h1.6v1.6h-1.6zM424.1 54.0h1.6v1.6h-1.6zM396.9 71.4h1.6v1.6h-1.6zM406.8 63.0h1.6v1.6h-1.6zM413.4 70.1h1.6v1.6h-1.6zM408.7 75.2h1.6v1.6h-1.6zM401.2 78.9h1.6v1.6h-1.6zM397.5 95.8h1.6v1.6h-1.6zM404.2 98.5h1.6v1.6h-1.6zM408.8 76.4h1.6v1.6h-1.6zM403.2 95.5h1.6v1.6h-1.6zM398.9 64.7h1.6v1.6h-1.6zM395.1 95.3h1.6v1.6h-1.6zM403.2 77.5h1.6v1.6h-1.6zM408.0 107.0h1.6v1.6h-1.6zM410.0 63.0h1.6v1.6h-1.6zM400.3 77.2h1.6v1.6h-1.6zM407.3 65.0h1.6v1.6h-1.6zM414.5 73.7h1.6v1.6h-1.6zM405.3 74.5h1.6v1.6h-1.6zM392.4 93.9h1.6v1.6h-1.6zM405.5 61.8h1.6v1.6h-1.6zM403.7 89.3h1.6v1.6h-1.6zM419.2 66.3h1.6v1.6h-1.6zM399.2 64.3h1.6v1.6h-1.6zM416.9 86.9h1.6v1.6h-1.6zM395.5 86.9h1.6v1.6h-1.6zM415.1 100.3h1.6v1.6h-1.6zM404.7 83.0h1.6v1.6h-1.6zM407.9 95.8h1.6v1.6h-1.6zM403.2 104.8h1.6v1.6h-1.6zM398.5 93.9h1.6v1.6h-1.6zM395.5 86.0h1.6v1.6h-1.6zM406.9 61.2h1.6v1.6h-1.6zM416.9 104.7h1.6v1.6h-1.6zM415.3 66.2h1.6v1.6h-1.6zM413.2 93.0h1.6v1.6h-1.6zM422.9 48.1h1.6v1.6h-1.6zM419.3 63.4h1.6v1.6h-1.6zM416.2 101.2h1.6v1.6h-1.6zM412.4 68.7h1.6v1.6h-1.6zM398.7 70.2h1.6v1.6h-1.6zM416.2 55.9h1.6v1.6h-1.6zM404.0 61.6h1.6v1.6h-1.6zM398.8 100.9h1.6v1.6h-1.6zM421.7 51.7h1.6v1.6h-1.6zM411.3 86.7h1.6v1.6h-1.6zM415.3 96.8h1.6v1.6h-1.6zM415.8 75.6h1.6v1.6h-1.6zM414.3 63.7h1.6v1.6h-1.6zM394.5 88.1h1.6v1.6h-1.6zM410.9 69.5h1.6v1.6h-1.6zM394.0 97.3h1.6v1.6h-1.6zM418.4 48.9h1.6v1.6h-1.6zM412.4 104.6h1.6v1.6h-1.6zM392.8 76.1h1.6v1.6h-1.6zM407.1 84.9h1.6v1.6h-1.6zM395.4 73.4h1.6v1.6h-1.6zM413.1 56.4h1.6v1.6h-1.6zM410.4 94.1h1.6v1.6h-1.6zM426.2 41.1h1.6v1.6h-1.6zM399.1 94.2h1.6v1.6h-1.6zM398.3 92.6h1.6v1.6h-1.6zM408.5 92.7h1.6v1.6h-1.6zM395.4 90.8h1.6v1.6h-1.6zM397.3 67.9h1.6v1.6h-1.6zM419.9 45.3h1.6v1.6h-1.6zM401.8 63.1h1.6v1.6h-1.6zM405.9 89.5h1.6v1.6h-1.6zM411.6 103.1h1.6v1.6h-1.6zM417.0 88.5h1.6v1.6h-1.6zM424.7 42.2h1.6v1.6h-1.6zM398.8 87.9h1.6v1.6h-1.6zM418.1 73.1h1.6v1.6h-1.6zM406.3 65.5h1.6v1.6h-1.6zM403.2 66.6h1.6v1.6h-1.6zM416.4 67.7h1.6v1.6h-1.6zM396.3 78.2h1.6v1.6h-1.6zM391.2 96.0h1.6v1.6h-1.6zM417.6 56.9h1.6v1.6h-1.6zM391.7 93.0h1.6v1.6h-1.6zM400.6 67.2h1.6v1.6h-1.6zM407.1 83.6h1.6v1.6h-1.6zM408.5 89.2h1.6v1.6h-1.6zM408.9 77.8h1.6v1.6h-1.6zM416.5 106.9h1.6v1.6h-1.6zM395.6 77.5h1.6v1.6h-1.6zM414.7 93.0h1.6v1.6h-1.6zM424.9 51.9h1.6v1.6h-1.6zM396.1 79.5h1.6v1.6h-1.6zM414.2 103.7h1.6v1.6h-1.6zM411.1 64.6h1.6v1.6h-1.6zM392.8 97.0h1.6v1.6h-1.6zM392.2 80.8h1.6v1.6h-1.6zM419.5 66.2h1.6v1.6h-1.6zM415.9 58.9h1.6v1.6h-1.6zM409.9 101.2h1.6v1.6h-1.6zM408.6 84.2h1.6v1.6h-1.6zM399.0 98.1h1.6v1.6h-1.6zM385.2 87.9h1.6v1.6h-1.6zM432.2 42.5h1.6v1.6h-1.6zM389.6 92.3h1.6v1.6h-1.6zM404.1 95.3h1.6v1.6h-1.6zM413.2 103.9h1.6v1.6h-1.6zM393.7 68.6h1.6v1.6h-1.6zM390.4 88.8h1.6v1.6h-1.6zM418.6 73.3h1.6v1.6h-1.6zM395.3 83.1h1.6v1.6h-1.6zM399.6 94.9h1.6v1.6h-1.6zM409.9 65.7h1.6v1.6h-1.6zM416.4 104.2h1.6v1.6h-1.6zM403.5 95.4h1.6v1.6h-1.6zM398.9 97.4h1.6v1.6h-1.6zM417.9 70.5h1.6v1.6h-1.6zM411.0 71.2h1.6v1.6h-1.6zM416.4 98.0h1.6v1.6h-1.6zM431.7 96.3h1.6v1.6h-1.6zM419.3 79.9h1.6v1.6h-1.6zM435.8 77.1h1.6v1.6h-1.6zM425.7 67.5h1.6v1.6h-1.6zM422.1 101.7h1.6v1.6h-1.6zM424.6 92.8h1.6v1.6h-1.6zM428.9 100.8h1.6v1.6h-1.6zM430.7 62.6h1.6v1.6h-1.6zM435.9 91.8h1.6v1.6h-1.6zM423.0 102.9h1.6v1.6h-1.6zM436.1 110.9h1.6v1.6h-1.6zM432.6 85.7h1.6v1.6h-1.6zM421.9 69.9h1.6v1.6h-1.6zM428.1 102.9h1.6v1.6h-1.6zM419.8 96.4h1.6v1.6h-1.6zM437.4 92.3h1.6v1.6h-1.6zM429.5 67.8h1.6v1.6h-1.6zM430.4 83.5h1.6v1.6h-1.6zM423.5 111.9h1.6v1.6h-1.6zM437.1 91.1h1.6v1.6h-1.6zM423.4 85.0h1.6v1.6h-1.6zM424.9 83.4h1.6v1.6h-1.6zM431.4 78.1h1.6v1.6h-1.6zM426.1 81.6h1.6v1.6h-1.6zM428.0 70.9h1.6v1.6h-1.6zM432.1 90.6h1.6v1.6h-1.6zM434.3 75.5h1.6v1.6h-1.6zM443.1 103.9h1.6v1.6h-1.6zM426.6 99.3h1.6v1.6h-1.6zM443.6 107.7h1.6v1.6h-1.6zM425.4 99.5h1.6v1.6h-1.6zM420.2 73.0h1.6v1.6h-1.6zM430.8 71.8h1.6v1.6h-1.6zM431.3 75.0h1.6v1.6h-1.6zM433.3 95.1h1.6v1.6h-1.6zM431.4 102.7h1.6v1.6h-1.6zM422.3 65.6h1.6v1.6h-1.6zM423.8 87.8h1.6v1.6h-1.6zM428.0 90.8h1.6v1.6h-1.6zM425.2 54.5h1.6v1.6h-1.6zM422.1 76.1h1.6v1.6h-1.6zM438.5 103.2h1.6v1.6h-1.6zM433.5 70.7h1.6v1.6h-1.6zM429.5 53.4h1.6v1.6h-1.6zM418.2 98.4h1.6v1.6h-1.6zM434.1 105.6h1.6v1.6h-1.6zM427.6 104.3h1.6v1.6h-1.6zM434.5 84.2h1.6v1.6h-1.6zM430.3 73.6h1.6v1.6h-1.6zM427.3 59.4h1.6v1.6h-1.6zM433.3 82.4h1.6v1.6h-1.6zM418.5 82.5h1.6v1.6h-1.6zM425.7 69.6h1.6v1.6h-1.6zM436.4 109.4h1.6v1.6h-1.6zM429.5 60.9h1.6v1.6h-1.6zM434.5 91.2h1.6v1.6h-1.6zM441.4 110.5h1.6v1.6h-1.6zM436.5 109.5h1.6v1.6h-1.6zM430.5 62.5h1.6v1.6h-1.6zM427.8 112.4h1.6v1.6h-1.6zM418.4 101.3h1.6v1.6h-1.6zM426.6 93.5h1.6v1.6h-1.6zM426.4 101.6h1.6v1.6h-1.6zM434.0 113.1h1.6v1.6h-1.6zM418.1 95.7h1.6v1.6h-1.6zM464.0 35.5h1.6v1.6h-1.6zM452.4 35.6h1.6v1.6h-1.6zM456.2 32.6h1.6v1.6h-1.6zM447.3 42.7h1.6v1.6h-1.6zM464.2 35.7h1.6v1.6h-1.6zM454.0 43.6h1.6v1.6h-1.6zM463.9 31.7h1.6v1.6h-1.6zM431.0 110.5h1.6v1.6h-1.6zM432.9 105.2h1.6v1.6h-1.6zM484.7 30.6h1.6v1.6h-1.6zM493.8 48.6h1.6v1.6h-1.6zM482.0 37.4h1.6v1.6h-1.6zM489.1 30.0h1.6v1.6h-1.6zM474.1 27.4h1.6v1.6h-1.6zM467.7 46.5h1.6v1.6h-1.6zM463.8 45.0h1.6v1.6h-1.6zM470.3 34.5h1.6v1.6h-1.6zM464.2 46.8h1.6v1.6h-1.6zM494.0 41.7h1.6v1.6h-1.6zM483.7 29.5h1.6v1.6h-1.6zM488.2 51.4h1.6v1.6h-1.6zM467.6 59.0h1.6v1.6h-1.6zM464.8 56.0h1.6v1.6h-1.6zM471.8 28.1h1.6v1.6h-1.6zM485.4 38.2h1.6v1.6h-1.6zM489.9 34.8h1.6v1.6h-1.6zM481.6 39.4h1.6v1.6h-1.6zM487.7 55.3h1.6v1.6h-1.6zM467.0 50.7h1.6v1.6h-1.6zM495.6 44.9h1.6v1.6h-1.6zM487.8 61.3h1.6v1.6h-1.6zM489.3 39.5h1.6v1.6h-1.6zM485.0 32.6h1.6v1.6h-1.6zM493.7 53.3h1.6v1.6h-1.6zM463.9 47.9h1.6v1.6h-1.6zM467.7 52.4h1.6v1.6h-1.6zM494.3 43.1h1.6v1.6h-1.6zM489.5 52.1h1.6v1.6h-1.6zM489.4 53.2h1.6v1.6h-1.6zM480.6 32.3h1.6v1.6h-1.6zM487.2 39.9h1.6v1.6h-1.6zM478.3 35.5h1.6v1.6h-1.6zM486.4 59.0h1.6v1.6h-1.6zM491.3 37.9h1.6v1.6h-1.6zM474.2 35.9h1.6v1.6h-1.6zM490.4 51.6h1.6v1.6h-1.6zM480.4 28.7h1.6v1.6h-1.6zM464.2 39.6h1.6v1.6h-1.6zM493.1 54.1h1.6v1.6h-1.6zM491.1 34.9h1.6v1.6h-1.6zM481.7 60.9h1.6v1.6h-1.6zM492.3 35.1h1.6v1.6h-1.6zM488.1 59.0h1.6v1.6h-1.6zM493.6 46.8h1.6v1.6h-1.6zM466.4 37.8h1.6v1.6h-1.6zM484.2 36.6h1.6v1.6h-1.6zM466.7 43.9h1.6v1.6h-1.6zM464.7 47.5h1.6v1.6h-1.6zM484.7 28.8h1.6v1.6h-1.6zM464.5 53.6h1.6v1.6h-1.6zM488.7 31.9h1.6v1.6h-1.6zM494.0 49.3h1.6v1.6h-1.6zM486.1 55.5h1.6v1.6h-1.6zM491.9 33.0h1.6v1.6h-1.6zM478.8 33.9h1.6v1.6h-1.6zM484.7 59.4h1.6v1.6h-1.6zM466.3 54.1h1.6v1.6h-1.6zM488.7 43.2h1.6v1.6h-1.6zM492.3 34.7h1.6v1.6h-1.6zM490.9 49.0h1.6v1.6h-1.6zM467.4 48.2h1.6v1.6h-1.6zM474.7 36.9h1.6v1.6h-1.6zM465.1 55.7h1.6v1.6h-1.6zM489.5 81.8h1.6v1.6h-1.6zM493.7 79.4h1.6v1.6h-1.6zM488.9 68.4h1.6v1.6h-1.6zM476.7 62.2h1.6v1.6h-1.6zM492.6 76.4h1.6v1.6h-1.6zM489.1 65.1h1.6v1.6h-1.6zM479.1 66.3h1.6v1.6h-1.6zM475.2 64.5h1.6v1.6h-1.6zM485.0 72.3h1.6v1.6h-1.6zM505.7 81.3h1.6v1.6h-1.6zM505.7 76.7h1.6v1.6h-1.6zM501.3 76.1h1.6v1.6h-1.6zM500.9 77.4h1.6v1.6h-1.6zM504.2 77.9h1.6v1.6h-1.6zM501.8 76.1h1.6v1.6h-1.6zM503.6 77.5h1.6v1.6h-1.6zM503.0 73.7h1.6v1.6h-1.6zM507.7 79.1h1.6v1.6h-1.6zM507.4 78.0h1.6v1.6h-1.6zM507.0 81.4h1.6v1.6h-1.6zM506.8 95.7h1.6v1.6h-1.6zM487.0 89.1h1.6v1.6h-1.6zM493.8 90.6h1.6v1.6h-1.6zM499.4 83.9h1.6v1.6h-1.6zM498.0 87.0h1.6v1.6h-1.6zM499.6 87.1h1.6v1.6h-1.6zM486.7 87.5h1.6v1.6h-1.6zM491.2 90.4h1.6v1.6h-1.6zM491.7 92.3h1.6v1.6h-1.6zM490.9 91.5h1.6v1.6h-1.6zM497.9 87.2h1.6v1.6h-1.6zM495.2 81.1h1.6v1.6h-1.6zM488.7 84.3h1.6v1.6h-1.6zM498.6 90.4h1.6v1.6h-1.6zM503.4 94.8h1.6v1.6h-1.6zM507.3 96.4h1.6v1.6h-1.6zM493.6 96.7h1.6v1.6h-1.6zM494.4 90.3h1.6v1.6h-1.6zM503.2 93.9h1.6v1.6h-1.6zM499.4 85.8h1.6v1.6h-1.6zM489.2 97.6h1.6v1.6h-1.6zM497.7 101.7h1.6v1.6h-1.6zM507.1 94.3h1.6v1.6h-1.6zM501.5 85.2h1.6v1.6h-1.6zM502.2 98.6h1.6v1.6h-1.6zM493.6 98.5h1.6v1.6h-1.6zM487.5 88.0h1.6v1.6h-1.6zM495.6 94.1h1.6v1.6h-1.6zM488.0 90.7h1.6v1.6h-1.6zM502.2 82.2h1.6v1.6h-1.6zM492.7 88.4h1.6v1.6h-1.6zM490.6 89.0h1.6v1.6h-1.6zM504.8 94.4h1.6v1.6h-1.6zM499.9 96.4h1.6v1.6h-1.6zM507.0 85.5h1.6v1.6h-1.6zM491.4 98.0h1.6v1.6h-1.6zM487.5 85.4h1.6v1.6h-1.6zM505.8 96.4h1.6v1.6h-1.6zM493.0 84.6h1.6v1.6h-1.6zM488.1 95.9h1.6v1.6h-1.6zM489.8 90.1h1.6v1.6h-1.6zM487.2 96.1h1.6v1.6h-1.6zM494.6 81.2h1.6v1.6h-1.6zM494.2 86.2h1.6v1.6h-1.6zM504.0 98.7h1.6v1.6h-1.6zM488.6 96.0h1.6v1.6h-1.6zM491.7 83.4h1.6v1.6h-1.6zM492.1 97.9h1.6v1.6h-1.6zM488.8 84.9h1.6v1.6h-1.6zM500.0 91.1h1.6v1.6h-1.6zM487.7 86.9h1.6v1.6h-1.6zM494.5 91.3h1.6v1.6h-1.6zM501.1 82.5h1.6v1.6h-1.6zM490.5 87.3h1.6v1.6h-1.6zM505.1 98.9h1.6v1.6h-1.6zM499.0 98.8h1.6v1.6h-1.6zM497.1 87.5h1.6v1.6h-1.6zM488.9 94.3h1.6v1.6h-1.6zM504.3 98.4h1.6v1.6h-1.6zM498.1 92.8h1.6v1.6h-1.6zM504.2 86.4h1.6v1.6h-1.6zM485.7 90.0h1.6v1.6h-1.6zM503.7 84.9h1.6v1.6h-1.6zM508.7 94.0h1.6v1.6h-1.6zM498.6 94.3h1.6v1.6h-1.6zM490.5 103.6h1.6v1.6h-1.6zM498.3 96.5h1.6v1.6h-1.6zM499.0 100.6h1.6v1.6h-1.6zM501.8 89.6h1.6v1.6h-1.6zM495.6 90.9h1.6v1.6h-1.6zM501.4 103.3h1.6v1.6h-1.6zM484.3 89.1h1.6v1.6h-1.6zM493.0 85.6h1.6v1.6h-1.6zM491.8 101.5h1.6v1.6h-1.6zM484.0 97.9h1.6v1.6h-1.6zM494.7 100.1h1.6v1.6h-1.6zM505.0 92.4h1.6v1.6h-1.6zM497.7 80.9h1.6v1.6h-1.6zM503.2 101.1h1.6v1.6h-1.6zM507.1 90.7h1.6v1.6h-1.6zM473.3 97.7h1.6v1.6h-1.6zM476.5 101.6h1.6v1.6h-1.6zM474.5 99.8h1.6v1.6h-1.6zM481.5 88.2h1.6v1.6h-1.6zM476.3 99.2h1.6v1.6h-1.6zM477.5 92.3h1.6v1.6h-1.6zM472.1 100.5h1.6v1.6h-1.6zM479.5 110.2h1.6v1.6h-1.6zM489.9 106.3h1.6v1.6h-1.6zM491.3 113.2h1.6v1.6h-1.6zM484.0 113.9h1.6v1.6h-1.6zM480.4 114.0h1.6v1.6h-1.6zM470.0 103.9h1.6v1.6h-1.6zM484.2 107.0h1.6v1.6h-1.6zM469.4 116.0h1.6v1.6h-1.6zM510.6 139.2h1.6v1.6h-1.6zM494.6 118.2h1.6v1.6h-1.6zM491.3 126.3h1.6v1.6h-1.6zM490.1 115.7h1.6v1.6h-1.6zM463.9 125.4h1.6v1.6h-1.6zM508.0 129.9h1.6v1.6h-1.6zM475.3 113.6h1.6v1.6h-1.6zM505.5 136.5h1.6v1.6h-1.6zM475.5 124.9h1.6v1.6h-1.6zM486.9 129.5h1.6v1.6h-1.6zM479.4 115.8h1.6v1.6h-1.6zM509.8 141.0h1.6v1.6h-1.6zM475.5 120.0h1.6v1.6h-1.6zM474.5 143.1h1.6v1.6h-1.6zM483.7 120.3h1.6v1.6h-1.6zM464.0 132.1h1.6v1.6h-1.6zM468.0 139.4h1.6v1.6h-1.6zM471.9 120.5h1.6v1.6h-1.6zM473.7 132.4h1.6v1.6h-1.6zM470.6 131.0h1.6v1.6h-1.6zM476.4 136.8h1.6v1.6h-1.6zM495.4 143.4h1.6v1.6h-1.6zM475.8 144.7h1.6v1.6h-1.6zM490.1 134.0h1.6v1.6h-1.6zM484.2 145.2h1.6v1.6h-1.6zM489.4 140.5h1.6v1.6h-1.6zM501.2 123.3h1.6v1.6h-1.6zM476.6 138.0h1.6v1.6h-1.6zM509.4 133.5h1.6v1.6h-1.6zM503.0 131.5h1.6v1.6h-1.6zM492.8 131.8h1.6v1.6h-1.6zM480.8 124.7h1.6v1.6h-1.6zM497.9 127.2h1.6v1.6h-1.6zM488.4 134.9h1.6v1.6h-1.6zM459.1 124.3h1.6v1.6h-1.6zM486.4 123.5h1.6v1.6h-1.6zM479.8 136.5h1.6v1.6h-1.6zM491.5 120.6h1.6v1.6h-1.6zM490.1 121.1h1.6v1.6h-1.6zM464.5 117.3h1.6v1.6h-1.6zM493.1 121.9h1.6v1.6h-1.6zM508.5 135.3h1.6v1.6h-1.6zM501.1 139.2h1.6v1.6h-1.6zM494.8 142.4h1.6v1.6h-1.6zM469.1 134.6h1.6v1.6h-1.6zM465.3 128.0h1.6v1.6h-1.6zM461.4 122.6h1.6v1.6h-1.6zM488.3 140.8h1.6v1.6h-1.6zM463.1 127.1h1.6v1.6h-1.6zM467.6 128.0h1.6v1.6h-1.6zM470.5 129.1h1.6v1.6h-1.6zM484.8 143.8h1.6v1.6h-1.6zM468.2 142.3h1.6v1.6h-1.6zM474.3 138.4h1.6v1.6h-1.6zM503.5 143.5h1.6v1.6h-1.6zM466.3 123.5h1.6v1.6h-1.6zM490.1 147.7h1.6v1.6h-1.6zM505.1 135.8h1.6v1.6h-1.6zM463.1 131.9h1.6v1.6h-1.6zM480.7 140.1h1.6v1.6h-1.6zM479.1 115.4h1.6v1.6h-1.6zM488.9 128.2h1.6v1.6h-1.6zM495.1 124.1h1.6v1.6h-1.6zM481.8 114.8h1.6v1.6h-1.6zM492.9 151.7h1.6v1.6h-1.6zM484.0 114.4h1.6v1.6h-1.6zM465.2 131.3h1.6v1.6h-1.6zM510.3 127.0h1.6v1.6h-1.6zM471.1 140.2h1.6v1.6h-1.6zM487.4 144.2h1.6v1.6h-1.6zM500.5 123.4h1.6v1.6h-1.6zM507.7 133.8h1.6v1.6h-1.6zM510.2 126.1h1.6v1.6h-1.6zM501.8 128.3h1.6v1.6h-1.6zM467.0 135.9h1.6v1.6h-1.6zM505.3 132.3h1.6v1.6h-1.6zM474.6 124.3h1.6v1.6h-1.6zM497.8 143.3h1.6v1.6h-1.6zM465.9 124.8h1.6v1.6h-1.6zM496.5 143.6h1.6v1.6h-1.6zM492.0 128.2h1.6v1.6h-1.6zM460.8 121.2h1.6v1.6h-1.6zM483.5 130.9h1.6v1.6h-1.6zM478.9 124.7h1.6v1.6h-1.6zM480.1 132.3h1.6v1.6h-1.6zM489.9 134.5h1.6v1.6h-1.6zM493.2 139.1h1.6v1.6h-1.6zM458.6 121.7h1.6v1.6h-1.6zM487.5 148.3h1.6v1.6h-1.6zM496.4 139.9h1.6v1.6h-1.6zM466.5 125.7h1.6v1.6h-1.6zM495.9 125.1h1.6v1.6h-1.6zM495.7 143.8h1.6v1.6h-1.6zM487.6 135.6h1.6v1.6h-1.6zM497.5 120.9h1.6v1.6h-1.6zM467.1 120.3h1.6v1.6h-1.6zM496.3 140.6h1.6v1.6h-1.6zM478.0 117.6h1.6v1.6h-1.6zM507.5 125.4h1.6v1.6h-1.6zM484.0 116.7h1.6v1.6h-1.6zM502.9 142.8h1.6v1.6h-1.6zM489.2 147.4h1.6v1.6h-1.6zM471.8 140.0h1.6v1.6h-1.6zM459.6 121.5h1.6v1.6h-1.6zM463.3 130.9h1.6v1.6h-1.6zM501.9 141.8h1.6v1.6h-1.6zM467.8 115.5h1.6v1.6h-1.6zM486.7 114.1h1.6v1.6h-1.6zM501.2 119.6h1.6v1.6h-1.6zM509.6 138.0h1.6v1.6h-1.6zM467.3 136.6h1.6v1.6h-1.6zM479.2 116.7h1.6v1.6h-1.6zM509.5 129.8h1.6v1.6h-1.6zM498.6 151.2h1.6v1.6h-1.6zM473.4 130.5h1.6v1.6h-1.6zM507.5 145.6h1.6v1.6h-1.6zM504.9 144.3h1.6v1.6h-1.6zM505.8 127.0h1.6v1.6h-1.6zM496.4 135.9h1.6v1.6h-1.6zM504.6 135.5h1.6v1.6h-1.6zM474.2 134.9h1.6v1.6h-1.6zM487.6 136.7h1.6v1.6h-1.6zM467.1 140.3h1.6v1.6h-1.6zM510.5 138.6h1.6v1.6h-1.6zM476.9 132.0h1.6v1.6h-1.6zM473.0 122.9h1.6v1.6h-1.6zM493.9 151.4h1.6v1.6h-1.6zM485.0 150.6h1.6v1.6h-1.6zM489.8 118.6h1.6v1.6h-1.6zM475.2 112.8h1.6v1.6h-1.6zM477.9 146.5h1.6v1.6h-1.6zM477.0 112.9h1.6v1.6h-1.6zM504.7 132.0h1.6v1.6h-1.6zM474.6 126.5h1.6v1.6h-1.6zM483.4 146.8h1.6v1.6h-1.6zM493.4 138.5h1.6v1.6h-1.6zM477.2 125.1h1.6v1.6h-1.6zM504.4 144.5h1.6v1.6h-1.6zM479.1 147.3h1.6v1.6h-1.6zM481.2 150.1h1.6v1.6h-1.6zM494.0 129.0h1.6v1.6h-1.6zM466.2 139.1h1.6v1.6h-1.6zM502.6 144.5h1.6v1.6h-1.6zM497.1 135.0h1.6v1.6h-1.6zM472.6 127.2h1.6v1.6h-1.6zM495.2 132.1h1.6v1.6h-1.6zM507.7 124.5h1.6v1.6h-1.6zM503.5 136.1h1.6v1.6h-1.6zM503.0 139.9h1.6v1.6h-1.6zM463.0 132.3h1.6v1.6h-1.6zM461.8 126.4h1.6v1.6h-1.6zM479.0 140.0h1.6v1.6h-1.6zM494.3 120.6h1.6v1.6h-1.6zM473.6 128.4h1.6v1.6h-1.6zM481.1 136.7h1.6v1.6h-1.6zM490.0 113.4h1.6v1.6h-1.6zM507.1 138.2h1.6v1.6h-1.6zM484.5 124.8h1.6v1.6h-1.6zM479.8 131.8h1.6v1.6h-1.6zM504.3 149.3h1.6v1.6h-1.6zM497.9 123.1h1.6v1.6h-1.6zM490.8 129.8h1.6v1.6h-1.6zM471.8 146.3h1.6v1.6h-1.6zM481.9 146.7h1.6v1.6h-1.6zM465.5 125.4h1.6v1.6h-1.6zM506.3 134.1h1.6v1.6h-1.6zM491.8 137.8h1.6v1.6h-1.6zM478.5 113.9h1.6v1.6h-1.6zM482.1 141.6h1.6v1.6h-1.6zM495.4 120.8h1.6v1.6h-1.6zM480.9 135.4h1.6v1.6h-1.6zM499.9 133.3h1.6v1.6h-1.6zM465.8 137.9h1.6v1.6h-1.6zM502.1 125.8h1.6v1.6h-1.6zM494.1 122.6h1.6v1.6h-1.6zM484.9 125.0h1.6v1.6h-1.6zM468.3 123.3h1.6v1.6h-1.6zM491.7 130.7h1.6v1.6h-1.6zM485.4 137.6h1.6v1.6h-1.6zM488.1 118.0h1.6v1.6h-1.6zM481.5 149.3h1.6v1.6h-1.6zM497.4 133.9h1.6v1.6h-1.6zM492.5 121.2h1.6v1.6h-1.6zM481.7 120.3h1.6v1.6h-1.6zM499.0 130.7h1.6v1.6h-1.6zM488.2 146.3h1.6v1.6h-1.6zM500.0 143.3h1.6v1.6h-1.6zM497.7 133.3h1.6v1.6h-1.6zM500.7 119.9h1.6v1.6h-1.6zM497.3 134.4h1.6v1.6h-1.6zM501.4 146.8h1.6v1.6h-1.6zM476.2 140.3h1.6v1.6h-1.6zM469.8 119.0h1.6v1.6h-1.6zM469.2 131.8h1.6v1.6h-1.6zM493.1 131.3h1.6v1.6h-1.6z"/>
<text x="220.0" y="9.8" font-size="11" fill="#111" stroke="#111" stroke-width="0" text-anchor="start" font-weight="bold">B</text>
<text x="237.7" y="11.8" font-size="8.8" fill="#161616" stroke="#161616" stroke-width="0" text-anchor="start" >Roider <tspan font-style="italic">et al.</tspan></text>
<line x1="241.0" y1="14.6" x2="280.0" y2="14.6" stroke="#444" stroke-width="0.8" />
<text x="304.5" y="11.8" font-size="8.8" fill="#161616" stroke="#161616" stroke-width="0" text-anchor="start" >Steen <tspan font-style="italic">et al.</tspan></text>
<line x1="305.0" y1="14.6" x2="346.0" y2="14.6" stroke="#444" stroke-width="0.8" />
<text x="261.3" y="24.5" font-size="8.8" fill="#161616" stroke="#161616" stroke-width="0" text-anchor="middle" >DLBCL1</text>
<text x="261.3" y="66.5" font-size="8.8" fill="#161616" stroke="#161616" stroke-width="0" text-anchor="middle" >DLBCL3</text>
<text x="327.8" y="24.5" font-size="8.8" fill="#161616" stroke="#161616" stroke-width="0" text-anchor="middle" >DLBCL002B</text>
<text x="327.8" y="66.5" font-size="8.8" fill="#161616" stroke="#161616" stroke-width="0" text-anchor="middle" >DLBCL007B</text>
<text x="327.8" y="107.5" font-size="8.8" fill="#161616" stroke="#161616" stroke-width="0" text-anchor="middle" >DLBCL008B</text>
<text x="327.8" y="148.3" font-size="8.8" fill="#161616" stroke="#161616" stroke-width="0" text-anchor="middle" >DLBCL111B</text>
<path d="M261.2,42.4 L261.20,29.20 A13.2,13.2 0 0 1 264.39,29.59 Z" fill="#7a1446"/>
<path d="M261.2,42.4 L264.39,29.59 A13.2,13.2 0 0 1 274.20,44.69 Z" fill="#c47c9e"/>
<path d="M261.2,42.4 L274.20,44.69 A13.2,13.2 0 0 1 273.44,47.34 Z" fill="#e0b9c5"/>
<path d="M261.2,42.4 L273.44,47.34 A13.2,13.2 0 1 1 258.91,29.40 Z" fill="#dbd897"/>
<path d="M261.2,42.4 L258.91,29.40 A13.2,13.2 0 0 1 261.20,29.20 Z" fill="#f2eef0"/>
<path d="M261.2,84.5 L261.20,71.30 A13.2,13.2 0 0 1 263.26,71.46 Z" fill="#7a1446"/>
<path d="M261.2,84.5 L263.26,71.46 A13.2,13.2 0 0 1 271.60,92.63 Z" fill="#c47c9e"/>
<path d="M261.2,84.5 L271.60,92.63 A13.2,13.2 0 0 1 270.53,93.83 Z" fill="#e0b9c5"/>
<path d="M261.2,84.5 L270.53,93.83 A13.2,13.2 0 0 1 267.40,96.15 Z" fill="#aad5a6"/>
<path d="M261.2,84.5 L267.40,96.15 A13.2,13.2 0 1 1 255.83,72.44 Z" fill="#7ea5d6"/>
<path d="M261.2,84.5 L255.83,72.44 A13.2,13.2 0 0 1 258.91,71.50 Z" fill="#dcdcdc"/>
<path d="M261.2,84.5 L258.91,71.50 A13.2,13.2 0 0 1 261.20,71.30 Z" fill="#f2eef0"/>
<path d="M327.9,42.3 L327.90,29.10 A13.2,13.2 0 0 1 335.47,31.49 Z" fill="#9b1c4f"/>
<path d="M327.9,42.3 L335.47,31.49 A13.2,13.2 0 0 1 336.73,52.11 Z" fill="#c47c9e"/>
<path d="M327.9,42.3 L336.73,52.11 A13.2,13.2 0 0 1 335.47,53.11 Z" fill="#e0b9c5"/>
<path d="M327.9,42.3 L335.47,53.11 A13.2,13.2 0 0 1 331.32,55.05 Z" fill="#dbd897"/>
<path d="M327.9,42.3 L331.32,55.05 A13.2,13.2 0 0 1 321.91,54.06 Z" fill="#aad5a6"/>
<path d="M327.9,42.3 L321.91,54.06 A13.2,13.2 0 0 1 316.47,35.70 Z" fill="#7ea5d6"/>
<path d="M327.9,42.3 L316.47,35.70 A13.2,13.2 0 0 1 317.79,33.82 Z" fill="#cddff1"/>
<path d="M327.9,42.3 L317.79,33.82 A13.2,13.2 0 0 1 327.90,29.10 Z" fill="#dcdcdc"/>
<path d="M327.9,84.5 L327.90,71.30 A13.2,13.2 0 0 1 329.05,71.35 Z" fill="#9b1c4f"/>
<path d="M327.9,84.5 L329.05,71.35 A13.2,13.2 0 0 1 336.73,74.69 Z" fill="#c47c9e"/>
<path d="M327.9,84.5 L336.73,74.69 A13.2,13.2 0 0 1 341.05,83.35 Z" fill="#e0b9c5"/>
<path d="M327.9,84.5 L341.05,83.35 A13.2,13.2 0 0 1 334.50,95.93 Z" fill="#dbd897"/>
<path d="M327.9,84.5 L334.50,95.93 A13.2,13.2 0 0 1 332.84,96.74 Z" fill="#aad5a6"/>
<path d="M327.9,84.5 L332.84,96.74 A13.2,13.2 0 0 1 329.74,97.57 Z" fill="#7ea5d6"/>
<path d="M327.9,84.5 L329.74,97.57 A13.2,13.2 0 0 1 315.50,89.01 Z" fill="#cddff1"/>
<path d="M327.9,84.5 L315.50,89.01 A13.2,13.2 0 0 1 327.90,71.30 Z" fill="#dcdcdc"/>
<path d="M327.9,126.0 L327.90,112.80 A13.2,13.2 0 0 1 328.59,112.82 Z" fill="#9b1c4f"/>
<path d="M327.9,126.0 L328.59,112.82 A13.2,13.2 0 0 1 340.65,122.58 Z" fill="#c47c9e"/>
<path d="M327.9,126.0 L340.65,122.58 A13.2,13.2 0 0 1 341.10,126.00 Z" fill="#e0b9c5"/>
<path d="M327.9,126.0 L341.10,126.00 A13.2,13.2 0 0 1 323.39,138.40 Z" fill="#dbd897"/>
<path d="M327.9,126.0 L323.39,138.40 A13.2,13.2 0 0 1 315.50,130.51 Z" fill="#7ea5d6"/>
<path d="M327.9,126.0 L315.50,130.51 A13.2,13.2 0 0 1 315.09,129.19 Z" fill="#cddff1"/>
<path d="M327.9,126.0 L315.09,129.19 A13.2,13.2 0 0 1 327.90,112.80 Z" fill="#dcdcdc"/>
<path d="M327.4,167.3 L327.40,154.10 A13.2,13.2 0 0 1 330.82,154.55 Z" fill="#9b1c4f"/>
<path d="M327.4,167.3 L330.82,154.55 A13.2,13.2 0 0 1 331.91,154.90 Z" fill="#c47c9e"/>
<path d="M327.4,167.3 L331.91,154.90 A13.2,13.2 0 0 1 334.97,156.49 Z" fill="#dbd897"/>
<path d="M327.4,167.3 L334.97,156.49 A13.2,13.2 0 0 1 338.83,160.70 Z" fill="#aad5a6"/>
<path d="M327.4,167.3 L338.83,160.70 A13.2,13.2 0 0 1 332.98,179.26 Z" fill="#7ea5d6"/>
<path d="M327.4,167.3 L332.98,179.26 A13.2,13.2 0 0 1 322.89,179.70 Z" fill="#cddff1"/>
<path d="M327.4,167.3 L322.89,179.70 A13.2,13.2 0 0 1 326.02,154.17 Z" fill="#dcdcdc"/>
<path d="M327.4,167.3 L326.02,154.17 A13.2,13.2 0 0 1 327.40,154.10 Z" fill="#e0b9c5"/>
<text x="238.7" y="116.9" font-size="8.8" fill="#161616" stroke="#161616" stroke-width="0" text-anchor="start" >Subpopulations</text>
<rect x="243.1" y="124.0" width="7.0" height="6.8" fill="#9b1c4f"/>
<text x="253.5" y="130.6" font-size="8.8" fill="#161616" stroke="#161616" stroke-width="0" text-anchor="start" >M+2+6+</text>
<rect x="243.1" y="132.2" width="7.0" height="6.8" fill="#c47c9e"/>
<text x="253.5" y="138.8" font-size="8.8" fill="#161616" stroke="#161616" stroke-width="0" text-anchor="start" >M+2+6–</text>
<rect x="243.1" y="140.5" width="7.0" height="6.8" fill="#dcb1bd"/>
<text x="253.5" y="147.1" font-size="8.8" fill="#161616" stroke="#161616" stroke-width="0" text-anchor="start" >M+2–6+</text>
<rect x="243.1" y="148.8" width="7.0" height="6.8" fill="#d8d68c"/>
<text x="253.5" y="155.3" font-size="8.8" fill="#161616" stroke="#161616" stroke-width="0" text-anchor="start" >M+2–6–</text>
<rect x="243.1" y="157.0" width="7.0" height="6.8" fill="#aad5a6"/>
<text x="253.5" y="163.6" font-size="8.8" fill="#161616" stroke="#161616" stroke-width="0" text-anchor="start" >M–2+6+</text>
<rect x="243.1" y="165.2" width="7.0" height="6.8" fill="#7ea5d6"/>
<text x="253.5" y="171.8" font-size="8.8" fill="#161616" stroke="#161616" stroke-width="0" text-anchor="start" >M–2+6–</text>
<rect x="243.1" y="173.5" width="7.0" height="6.8" fill="#c7dbef"/>
<text x="253.5" y="180.1" font-size="8.8" fill="#161616" stroke="#161616" stroke-width="0" text-anchor="start" >M–2–6+</text>
<rect x="243.1" y="181.8" width="7.0" height="6.8" fill="#d6d6d6"/>
<text x="253.5" y="188.3" font-size="8.8" fill="#161616" stroke="#161616" stroke-width="0" text-anchor="start" >M–2–6–</text>
<path d="M406.2,144.2 L406.20,134.60 A9.6,9.6 0 0 1 415.80,144.20 Z" fill="#9b1c4f"/>
<path d="M406.2,144.2 L415.80,144.20 A9.6,9.6 0 1 1 406.20,134.60 Z" fill="#d3d3d3"/>
<text x="389.8" y="163.5" font-size="8.8" fill="#161616" stroke="#161616" stroke-width="0" text-anchor="start" ><tspan font-style="italic">n</tspan> = 1,980</text>
<rect x="390.8" y="169.6" width="5.7" height="4.6" fill="#9b1c4f"/>
<text x="399.4" y="174.8" font-size="8.8" fill="#a8345f" stroke="#a8345f" stroke-width="0" text-anchor="start" >M+2+6–</text>
<rect x="390.8" y="179.3" width="5.7" height="4.6" fill="#bdbdbd"/>
<text x="399.4" y="184.6" font-size="8.8" fill="#c0c0c0" stroke="#c0c0c0" stroke-width="0" text-anchor="start" >Other subpopulation</text>
<text x="0.5" y="285.6" font-size="11" fill="#111" stroke="#111" stroke-width="0" text-anchor="start" font-weight="bold">C</text>
<line x1="60.2" y1="308.0" x2="60.2" y2="454.0" stroke="#aaaaaa" stroke-width="0.9" stroke-dasharray="0.9,2.1"/>
<line x1="83.7" y1="308.0" x2="83.7" y2="454.0" stroke="#aaaaaa" stroke-width="0.9" stroke-dasharray="0.9,2.1"/>
<line x1="111.3" y1="308.0" x2="111.3" y2="454.0" stroke="#aaaaaa" stroke-width="0.9" stroke-dasharray="0.9,2.1"/>
<line x1="164.8" y1="308.0" x2="164.8" y2="454.0" stroke="#aaaaaa" stroke-width="0.9" stroke-dasharray="0.9,2.1"/>
<line x1="72.0" y1="308.0" x2="72.0" y2="454.0" stroke="#222" stroke-width="1.4" stroke-dasharray="3,2.2"/>
<line x1="43.0" y1="381.5" x2="188.0" y2="381.5" stroke="#222" stroke-width="1.3" stroke-dasharray="3,2.2"/>
<path fill="#d3d3d3" d="M79.3 395.4h1.6v1.6h-1.6zM74.6 371.6h1.6v1.6h-1.6zM81.0 388.3h1.6v1.6h-1.6zM73.9 372.8h1.6v1.6h-1.6zM84.9 368.7h1.6v1.6h-1.6zM73.1 360.9h1.6v1.6h-1.6zM77.4 354.8h1.6v1.6h-1.6zM75.7 396.2h1.6v1.6h-1.6zM96.2 377.1h1.6v1.6h-1.6zM96.1 378.2h1.6v1.6h-1.6zM89.8 378.7h1.6v1.6h-1.6zM80.4 360.5h1.6v1.6h-1.6zM75.2 377.8h1.6v1.6h-1.6zM81.3 359.9h1.6v1.6h-1.6zM73.8 396.4h1.6v1.6h-1.6zM83.8 369.8h1.6v1.6h-1.6zM95.2 379.4h1.6v1.6h-1.6zM70.8 392.7h1.6v1.6h-1.6zM80.7 379.9h1.6v1.6h-1.6zM70.8 388.5h1.6v1.6h-1.6zM76.7 352.1h1.6v1.6h-1.6zM81.4 381.8h1.6v1.6h-1.6zM76.3 354.1h1.6v1.6h-1.6zM97.0 380.2h1.6v1.6h-1.6zM71.7 386.2h1.6v1.6h-1.6zM72.6 352.3h1.6v1.6h-1.6zM77.1 368.4h1.6v1.6h-1.6zM79.6 384.9h1.6v1.6h-1.6zM83.4 367.2h1.6v1.6h-1.6zM72.0 362.5h1.6v1.6h-1.6zM89.3 380.5h1.6v1.6h-1.6zM90.4 378.8h1.6v1.6h-1.6zM77.8 369.0h1.6v1.6h-1.6zM72.4 353.7h1.6v1.6h-1.6zM93.1 374.1h1.6v1.6h-1.6zM73.7 373.5h1.6v1.6h-1.6zM87.8 365.2h1.6v1.6h-1.6zM98.7 375.0h1.6v1.6h-1.6zM94.9 368.6h1.6v1.6h-1.6zM72.4 385.7h1.6v1.6h-1.6zM84.3 359.6h1.6v1.6h-1.6zM104.9 377.4h1.6v1.6h-1.6zM72.7 384.4h1.6v1.6h-1.6zM86.0 377.8h1.6v1.6h-1.6zM81.2 356.4h1.6v1.6h-1.6zM82.9 377.5h1.6v1.6h-1.6zM111.5 381.1h1.6v1.6h-1.6zM90.3 385.1h1.6v1.6h-1.6zM70.2 391.2h1.6v1.6h-1.6zM74.6 357.2h1.6v1.6h-1.6zM81.7 382.7h1.6v1.6h-1.6zM86.9 369.1h1.6v1.6h-1.6zM75.1 386.5h1.6v1.6h-1.6zM100.6 379.3h1.6v1.6h-1.6zM89.2 367.4h1.6v1.6h-1.6zM69.7 388.6h1.6v1.6h-1.6zM92.1 376.5h1.6v1.6h-1.6zM72.3 381.1h1.6v1.6h-1.6zM80.7 388.6h1.6v1.6h-1.6zM71.8 358.5h1.6v1.6h-1.6zM79.9 374.7h1.6v1.6h-1.6zM81.9 367.4h1.6v1.6h-1.6zM87.3 378.0h1.6v1.6h-1.6zM84.6 362.1h1.6v1.6h-1.6zM77.7 354.8h1.6v1.6h-1.6zM87.8 380.3h1.6v1.6h-1.6zM70.0 353.2h1.6v1.6h-1.6zM98.0 379.5h1.6v1.6h-1.6zM70.2 395.6h1.6v1.6h-1.6zM76.7 381.3h1.6v1.6h-1.6zM109.4 382.4h1.6v1.6h-1.6zM82.4 368.2h1.6v1.6h-1.6zM72.5 364.8h1.6v1.6h-1.6zM70.9 384.9h1.6v1.6h-1.6zM73.3 368.1h1.6v1.6h-1.6zM69.0 391.7h1.6v1.6h-1.6zM69.1 391.5h1.6v1.6h-1.6zM75.4 352.8h1.6v1.6h-1.6zM97.6 376.4h1.6v1.6h-1.6zM85.0 369.3h1.6v1.6h-1.6zM106.6 376.0h1.6v1.6h-1.6zM90.7 381.3h1.6v1.6h-1.6zM74.0 370.5h1.6v1.6h-1.6zM76.5 371.0h1.6v1.6h-1.6zM77.2 384.1h1.6v1.6h-1.6zM83.6 377.4h1.6v1.6h-1.6zM78.0 354.6h1.6v1.6h-1.6zM84.8 383.0h1.6v1.6h-1.6zM92.2 381.2h1.6v1.6h-1.6zM81.7 362.7h1.6v1.6h-1.6zM72.4 350.7h1.6v1.6h-1.6zM75.7 351.8h1.6v1.6h-1.6zM90.7 383.3h1.6v1.6h-1.6zM74.6 393.5h1.6v1.6h-1.6zM72.7 376.2h1.6v1.6h-1.6zM108.7 378.5h1.6v1.6h-1.6zM90.1 368.6h1.6v1.6h-1.6zM76.1 354.0h1.6v1.6h-1.6zM102.3 379.0h1.6v1.6h-1.6zM76.2 391.4h1.6v1.6h-1.6zM74.8 358.9h1.6v1.6h-1.6zM82.8 386.7h1.6v1.6h-1.6zM100.7 373.8h1.6v1.6h-1.6zM95.1 372.6h1.6v1.6h-1.6zM83.5 381.2h1.6v1.6h-1.6zM104.8 380.6h1.6v1.6h-1.6zM70.6 367.9h1.6v1.6h-1.6zM81.3 363.0h1.6v1.6h-1.6zM71.1 350.7h1.6v1.6h-1.6zM83.7 369.3h1.6v1.6h-1.6zM75.8 370.8h1.6v1.6h-1.6zM78.4 360.3h1.6v1.6h-1.6zM92.1 384.7h1.6v1.6h-1.6zM81.0 387.2h1.6v1.6h-1.6zM89.3 363.6h1.6v1.6h-1.6zM72.1 388.5h1.6v1.6h-1.6zM75.3 381.7h1.6v1.6h-1.6zM75.6 394.6h1.6v1.6h-1.6zM106.3 381.7h1.6v1.6h-1.6zM70.8 355.1h1.6v1.6h-1.6zM100.4 376.7h1.6v1.6h-1.6zM94.4 371.8h1.6v1.6h-1.6zM97.3 370.6h1.6v1.6h-1.6zM78.2 368.9h1.6v1.6h-1.6zM70.2 368.9h1.6v1.6h-1.6zM82.3 384.8h1.6v1.6h-1.6zM94.0 378.1h1.6v1.6h-1.6zM74.2 362.7h1.6v1.6h-1.6zM69.9 377.2h1.6v1.6h-1.6zM70.6 363.2h1.6v1.6h-1.6zM85.9 362.3h1.6v1.6h-1.6zM102.9 373.7h1.6v1.6h-1.6zM75.3 350.1h1.6v1.6h-1.6zM76.7 383.3h1.6v1.6h-1.6zM74.3 378.0h1.6v1.6h-1.6zM73.6 375.3h1.6v1.6h-1.6zM82.4 385.0h1.6v1.6h-1.6zM83.5 373.8h1.6v1.6h-1.6zM101.4 381.6h1.6v1.6h-1.6zM69.9 369.0h1.6v1.6h-1.6zM75.1 368.8h1.6v1.6h-1.6zM88.7 367.7h1.6v1.6h-1.6zM73.5 388.9h1.6v1.6h-1.6zM76.5 392.2h1.6v1.6h-1.6zM82.9 366.0h1.6v1.6h-1.6zM80.8 387.1h1.6v1.6h-1.6zM81.5 377.0h1.6v1.6h-1.6zM104.7 378.4h1.6v1.6h-1.6zM105.7 378.8h1.6v1.6h-1.6zM99.4 371.5h1.6v1.6h-1.6zM86.5 377.1h1.6v1.6h-1.6zM77.4 364.6h1.6v1.6h-1.6zM74.5 379.6h1.6v1.6h-1.6zM80.1 354.7h1.6v1.6h-1.6zM74.9 389.0h1.6v1.6h-1.6zM85.8 375.0h1.6v1.6h-1.6zM102.8 376.8h1.6v1.6h-1.6zM75.1 371.2h1.6v1.6h-1.6zM79.6 368.3h1.6v1.6h-1.6zM72.3 375.8h1.6v1.6h-1.6zM77.9 369.3h1.6v1.6h-1.6zM83.4 368.0h1.6v1.6h-1.6zM90.8 364.6h1.6v1.6h-1.6zM76.5 352.8h1.6v1.6h-1.6zM84.7 375.5h1.6v1.6h-1.6zM78.5 361.0h1.6v1.6h-1.6zM99.6 373.9h1.6v1.6h-1.6zM86.2 376.9h1.6v1.6h-1.6zM86.7 386.6h1.6v1.6h-1.6zM100.8 383.0h1.6v1.6h-1.6zM83.2 378.6h1.6v1.6h-1.6zM89.7 382.7h1.6v1.6h-1.6zM101.1 381.1h1.6v1.6h-1.6zM80.8 373.4h1.6v1.6h-1.6zM101.3 374.9h1.6v1.6h-1.6zM92.7 378.6h1.6v1.6h-1.6zM69.9 386.5h1.6v1.6h-1.6zM101.7 382.1h1.6v1.6h-1.6zM72.0 380.3h1.6v1.6h-1.6zM82.9 365.2h1.6v1.6h-1.6zM97.9 378.0h1.6v1.6h-1.6zM77.0 387.8h1.6v1.6h-1.6zM84.4 367.9h1.6v1.6h-1.6zM100.9 378.3h1.6v1.6h-1.6zM69.9 356.7h1.6v1.6h-1.6zM82.9 383.9h1.6v1.6h-1.6zM83.3 366.2h1.6v1.6h-1.6zM94.1 377.8h1.6v1.6h-1.6zM92.8 382.8h1.6v1.6h-1.6zM91.0 364.7h1.6v1.6h-1.6zM75.8 363.4h1.6v1.6h-1.6zM85.1 364.7h1.6v1.6h-1.6zM92.2 378.5h1.6v1.6h-1.6zM83.2 371.6h1.6v1.6h-1.6zM76.8 352.3h1.6v1.6h-1.6zM71.5 366.7h1.6v1.6h-1.6zM100.2 374.9h1.6v1.6h-1.6zM88.4 380.3h1.6v1.6h-1.6zM95.5 381.7h1.6v1.6h-1.6zM72.9 362.3h1.6v1.6h-1.6zM103.0 374.0h1.6v1.6h-1.6zM77.2 375.0h1.6v1.6h-1.6zM77.3 370.3h1.6v1.6h-1.6zM84.6 370.1h1.6v1.6h-1.6zM71.6 392.6h1.6v1.6h-1.6zM81.4 386.0h1.6v1.6h-1.6zM68.9 392.8h1.6v1.6h-1.6zM72.2 378.6h1.6v1.6h-1.6zM89.2 378.4h1.6v1.6h-1.6zM94.3 378.7h1.6v1.6h-1.6zM71.3 372.2h1.6v1.6h-1.6zM79.1 368.1h1.6v1.6h-1.6zM85.4 366.7h1.6v1.6h-1.6zM95.5 377.0h1.6v1.6h-1.6zM71.7 371.0h1.6v1.6h-1.6zM73.4 394.8h1.6v1.6h-1.6zM82.9 373.7h1.6v1.6h-1.6zM81.8 363.1h1.6v1.6h-1.6zM87.9 380.6h1.6v1.6h-1.6zM100.0 371.1h1.6v1.6h-1.6zM71.7 367.3h1.6v1.6h-1.6zM73.6 351.8h1.6v1.6h-1.6zM77.3 392.0h1.6v1.6h-1.6zM70.0 382.1h1.6v1.6h-1.6zM74.3 388.4h1.6v1.6h-1.6zM99.1 379.0h1.6v1.6h-1.6zM70.1 395.9h1.6v1.6h-1.6zM75.3 379.8h1.6v1.6h-1.6zM81.8 372.5h1.6v1.6h-1.6zM80.4 369.6h1.6v1.6h-1.6zM82.4 380.7h1.6v1.6h-1.6zM96.1 374.9h1.6v1.6h-1.6zM100.8 371.7h1.6v1.6h-1.6zM94.5 371.0h1.6v1.6h-1.6zM90.5 368.9h1.6v1.6h-1.6zM81.4 356.6h1.6v1.6h-1.6zM103.1 383.3h1.6v1.6h-1.6zM78.2 382.9h1.6v1.6h-1.6zM79.2 386.8h1.6v1.6h-1.6zM70.9 391.5h1.6v1.6h-1.6zM102.1 383.7h1.6v1.6h-1.6zM74.3 368.8h1.6v1.6h-1.6zM92.4 377.4h1.6v1.6h-1.6zM92.0 382.5h1.6v1.6h-1.6zM91.6 367.6h1.6v1.6h-1.6zM72.9 357.1h1.6v1.6h-1.6zM76.9 371.5h1.6v1.6h-1.6zM68.8 390.8h1.6v1.6h-1.6zM100.9 380.9h1.6v1.6h-1.6zM77.9 352.5h1.6v1.6h-1.6zM91.9 383.0h1.6v1.6h-1.6zM69.8 372.4h1.6v1.6h-1.6zM96.8 374.8h1.6v1.6h-1.6zM86.0 365.3h1.6v1.6h-1.6zM100.5 378.4h1.6v1.6h-1.6zM83.2 384.3h1.6v1.6h-1.6zM100.7 372.1h1.6v1.6h-1.6zM70.1 388.5h1.6v1.6h-1.6zM80.5 384.3h1.6v1.6h-1.6zM86.0 386.1h1.6v1.6h-1.6zM74.8 370.7h1.6v1.6h-1.6zM72.4 349.6h1.6v1.6h-1.6zM69.4 378.8h1.6v1.6h-1.6zM74.8 383.6h1.6v1.6h-1.6zM88.5 374.8h1.6v1.6h-1.6zM72.9 355.0h1.6v1.6h-1.6zM85.2 374.0h1.6v1.6h-1.6zM100.2 383.9h1.6v1.6h-1.6zM95.1 384.4h1.6v1.6h-1.6zM70.1 362.9h1.6v1.6h-1.6zM80.1 385.2h1.6v1.6h-1.6zM73.9 358.5h1.6v1.6h-1.6zM104.6 378.3h1.6v1.6h-1.6zM91.0 372.7h1.6v1.6h-1.6zM72.0 393.8h1.6v1.6h-1.6zM83.5 362.6h1.6v1.6h-1.6zM79.0 365.7h1.6v1.6h-1.6zM78.5 358.7h1.6v1.6h-1.6zM99.8 373.7h1.6v1.6h-1.6zM81.7 376.5h1.6v1.6h-1.6zM73.5 375.4h1.6v1.6h-1.6zM79.4 357.3h1.6v1.6h-1.6zM78.4 387.9h1.6v1.6h-1.6zM76.3 357.6h1.6v1.6h-1.6zM79.8 394.5h1.6v1.6h-1.6zM106.6 376.1h1.6v1.6h-1.6zM79.7 393.7h1.6v1.6h-1.6zM74.4 368.4h1.6v1.6h-1.6zM88.8 378.0h1.6v1.6h-1.6zM72.8 393.2h1.6v1.6h-1.6zM92.2 369.6h1.6v1.6h-1.6zM71.3 367.9h1.6v1.6h-1.6zM77.1 351.3h1.6v1.6h-1.6zM80.3 388.9h1.6v1.6h-1.6zM89.2 367.7h1.6v1.6h-1.6zM89.9 378.8h1.6v1.6h-1.6zM88.3 378.1h1.6v1.6h-1.6zM103.8 380.4h1.6v1.6h-1.6zM69.1 382.2h1.6v1.6h-1.6zM83.4 374.2h1.6v1.6h-1.6zM74.3 359.5h1.6v1.6h-1.6zM78.7 397.0h1.6v1.6h-1.6zM68.3 382.9h1.6v1.6h-1.6zM77.1 351.6h1.6v1.6h-1.6zM72.1 375.0h1.6v1.6h-1.6zM105.3 375.2h1.6v1.6h-1.6zM72.5 360.7h1.6v1.6h-1.6zM90.2 379.3h1.6v1.6h-1.6zM72.0 366.9h1.6v1.6h-1.6zM74.6 352.0h1.6v1.6h-1.6zM86.3 379.0h1.6v1.6h-1.6zM91.7 375.5h1.6v1.6h-1.6zM78.4 358.3h1.6v1.6h-1.6zM102.8 373.6h1.6v1.6h-1.6zM84.5 383.6h1.6v1.6h-1.6zM102.9 377.9h1.6v1.6h-1.6zM88.7 365.8h1.6v1.6h-1.6zM91.7 373.1h1.6v1.6h-1.6zM94.7 381.4h1.6v1.6h-1.6zM102.3 382.6h1.6v1.6h-1.6zM77.6 377.4h1.6v1.6h-1.6zM110.6 381.8h1.6v1.6h-1.6zM69.8 382.0h1.6v1.6h-1.6zM86.3 366.3h1.6v1.6h-1.6zM71.3 369.0h1.6v1.6h-1.6zM83.8 365.2h1.6v1.6h-1.6zM98.3 377.1h1.6v1.6h-1.6zM109.4 377.7h1.6v1.6h-1.6zM78.8 360.2h1.6v1.6h-1.6zM95.9 379.8h1.6v1.6h-1.6zM77.0 397.1h1.6v1.6h-1.6zM80.2 379.8h1.6v1.6h-1.6zM80.4 378.3h1.6v1.6h-1.6zM80.6 388.6h1.6v1.6h-1.6zM84.6 369.0h1.6v1.6h-1.6zM92.1 370.1h1.6v1.6h-1.6zM89.0 368.8h1.6v1.6h-1.6zM68.9 376.1h1.6v1.6h-1.6zM84.7 377.8h1.6v1.6h-1.6zM84.6 376.7h1.6v1.6h-1.6zM80.2 362.3h1.6v1.6h-1.6zM75.4 395.3h1.6v1.6h-1.6zM80.8 377.0h1.6v1.6h-1.6zM77.2 375.5h1.6v1.6h-1.6zM101.5 373.8h1.6v1.6h-1.6zM90.8 372.0h1.6v1.6h-1.6zM104.7 376.8h1.6v1.6h-1.6zM88.5 366.9h1.6v1.6h-1.6zM69.5 392.3h1.6v1.6h-1.6zM83.9 380.7h1.6v1.6h-1.6zM73.4 356.6h1.6v1.6h-1.6zM83.1 360.8h1.6v1.6h-1.6zM90.4 383.3h1.6v1.6h-1.6zM94.0 369.7h1.6v1.6h-1.6zM75.4 390.4h1.6v1.6h-1.6zM83.6 359.3h1.6v1.6h-1.6zM78.7 395.9h1.6v1.6h-1.6zM96.8 378.3h1.6v1.6h-1.6zM75.8 369.2h1.6v1.6h-1.6zM107.5 380.7h1.6v1.6h-1.6zM80.3 355.5h1.6v1.6h-1.6zM73.7 382.9h1.6v1.6h-1.6zM81.2 361.7h1.6v1.6h-1.6zM84.9 375.9h1.6v1.6h-1.6zM93.0 374.4h1.6v1.6h-1.6zM74.7 375.3h1.6v1.6h-1.6zM89.7 372.1h1.6v1.6h-1.6zM74.0 393.1h1.6v1.6h-1.6zM88.1 365.0h1.6v1.6h-1.6zM87.5 375.7h1.6v1.6h-1.6zM74.7 355.3h1.6v1.6h-1.6zM74.9 390.4h1.6v1.6h-1.6zM94.7 376.7h1.6v1.6h-1.6zM87.9 364.8h1.6v1.6h-1.6zM78.1 390.2h1.6v1.6h-1.6zM91.9 365.1h1.6v1.6h-1.6zM68.9 380.7h1.6v1.6h-1.6zM98.6 382.6h1.6v1.6h-1.6zM79.3 389.3h1.6v1.6h-1.6zM74.0 375.4h1.6v1.6h-1.6zM108.4 379.8h1.6v1.6h-1.6zM86.5 383.0h1.6v1.6h-1.6zM77.0 386.0h1.6v1.6h-1.6zM73.9 377.1h1.6v1.6h-1.6zM78.4 387.9h1.6v1.6h-1.6zM84.3 367.5h1.6v1.6h-1.6zM91.0 365.4h1.6v1.6h-1.6zM73.4 364.5h1.6v1.6h-1.6zM84.8 365.3h1.6v1.6h-1.6zM70.0 387.4h1.6v1.6h-1.6zM100.6 383.0h1.6v1.6h-1.6zM84.9 365.5h1.6v1.6h-1.6zM87.9 371.0h1.6v1.6h-1.6zM74.0 377.3h1.6v1.6h-1.6zM94.4 384.9h1.6v1.6h-1.6zM71.5 386.8h1.6v1.6h-1.6zM70.8 363.1h1.6v1.6h-1.6zM99.2 376.0h1.6v1.6h-1.6zM70.1 392.5h1.6v1.6h-1.6zM90.2 367.8h1.6v1.6h-1.6zM69.4 397.0h1.6v1.6h-1.6zM78.3 378.6h1.6v1.6h-1.6zM105.1 379.3h1.6v1.6h-1.6zM72.1 380.4h1.6v1.6h-1.6zM83.3 379.9h1.6v1.6h-1.6zM102.3 377.5h1.6v1.6h-1.6zM70.6 386.9h1.6v1.6h-1.6zM102.5 373.1h1.6v1.6h-1.6zM75.0 362.6h1.6v1.6h-1.6zM73.7 364.8h1.6v1.6h-1.6zM102.5 383.0h1.6v1.6h-1.6zM75.7 395.7h1.6v1.6h-1.6zM89.8 383.6h1.6v1.6h-1.6zM75.3 379.4h1.6v1.6h-1.6zM70.4 364.5h1.6v1.6h-1.6zM105.2 374.8h1.6v1.6h-1.6zM77.3 372.3h1.6v1.6h-1.6zM80.3 375.5h1.6v1.6h-1.6zM94.4 371.1h1.6v1.6h-1.6zM82.0 370.2h1.6v1.6h-1.6zM88.1 362.6h1.6v1.6h-1.6zM80.3 354.9h1.6v1.6h-1.6zM70.2 381.7h1.6v1.6h-1.6zM97.8 370.1h1.6v1.6h-1.6zM86.3 384.8h1.6v1.6h-1.6zM97.6 371.6h1.6v1.6h-1.6zM76.6 392.2h1.6v1.6h-1.6zM87.4 381.1h1.6v1.6h-1.6zM80.6 371.1h1.6v1.6h-1.6zM100.0 380.4h1.6v1.6h-1.6zM91.4 381.0h1.6v1.6h-1.6zM83.7 362.5h1.6v1.6h-1.6zM109.1 379.8h1.6v1.6h-1.6zM97.4 378.4h1.6v1.6h-1.6zM78.4 396.3h1.6v1.6h-1.6zM79.9 380.1h1.6v1.6h-1.6zM102.8 379.3h1.6v1.6h-1.6zM74.3 357.0h1.6v1.6h-1.6zM84.1 366.1h1.6v1.6h-1.6zM76.1 380.1h1.6v1.6h-1.6zM85.0 380.0h1.6v1.6h-1.6zM74.9 383.6h1.6v1.6h-1.6zM99.7 371.1h1.6v1.6h-1.6zM93.1 379.4h1.6v1.6h-1.6zM112.0 380.0h1.6v1.6h-1.6zM79.6 389.9h1.6v1.6h-1.6zM94.5 370.8h1.6v1.6h-1.6zM95.0 372.2h1.6v1.6h-1.6zM85.4 374.8h1.6v1.6h-1.6zM109.4 381.4h1.6v1.6h-1.6zM68.7 390.1h1.6v1.6h-1.6zM69.1 391.4h1.6v1.6h-1.6zM85.8 371.8h1.6v1.6h-1.6zM84.9 386.1h1.6v1.6h-1.6zM84.7 375.5h1.6v1.6h-1.6zM99.6 380.2h1.6v1.6h-1.6zM81.1 364.2h1.6v1.6h-1.6zM83.7 371.9h1.6v1.6h-1.6zM74.9 371.0h1.6v1.6h-1.6zM85.6 363.3h1.6v1.6h-1.6zM70.4 352.7h1.6v1.6h-1.6zM79.5 385.1h1.6v1.6h-1.6zM79.6 385.0h1.6v1.6h-1.6zM99.8 373.7h1.6v1.6h-1.6zM90.4 370.2h1.6v1.6h-1.6zM75.0 384.0h1.6v1.6h-1.6zM78.8 361.5h1.6v1.6h-1.6zM82.1 375.9h1.6v1.6h-1.6zM91.1 384.9h1.6v1.6h-1.6zM86.2 369.7h1.6v1.6h-1.6zM105.2 383.1h1.6v1.6h-1.6zM86.8 377.4h1.6v1.6h-1.6zM79.0 378.7h1.6v1.6h-1.6zM71.4 392.3h1.6v1.6h-1.6zM69.5 370.3h1.6v1.6h-1.6zM81.2 386.4h1.6v1.6h-1.6zM79.9 391.1h1.6v1.6h-1.6zM76.6 387.5h1.6v1.6h-1.6zM77.9 390.3h1.6v1.6h-1.6zM78.8 394.0h1.6v1.6h-1.6zM74.3 375.7h1.6v1.6h-1.6zM74.3 375.4h1.6v1.6h-1.6zM108.3 377.1h1.6v1.6h-1.6zM91.1 367.9h1.6v1.6h-1.6zM96.1 381.5h1.6v1.6h-1.6zM81.7 372.4h1.6v1.6h-1.6zM81.1 383.0h1.6v1.6h-1.6zM75.1 397.0h1.6v1.6h-1.6zM73.6 367.2h1.6v1.6h-1.6zM95.3 368.6h1.6v1.6h-1.6zM79.9 367.5h1.6v1.6h-1.6zM92.1 366.4h1.6v1.6h-1.6zM84.7 364.1h1.6v1.6h-1.6zM82.3 359.7h1.6v1.6h-1.6zM90.0 368.8h1.6v1.6h-1.6zM78.0 358.7h1.6v1.6h-1.6zM97.2 376.2h1.6v1.6h-1.6zM71.3 392.8h1.6v1.6h-1.6zM70.6 364.1h1.6v1.6h-1.6zM76.5 376.7h1.6v1.6h-1.6zM73.9 353.3h1.6v1.6h-1.6zM70.4 374.2h1.6v1.6h-1.6zM70.9 377.3h1.6v1.6h-1.6zM95.4 380.8h1.6v1.6h-1.6zM69.4 382.4h1.6v1.6h-1.6zM70.7 365.2h1.6v1.6h-1.6zM79.5 364.3h1.6v1.6h-1.6zM72.4 388.8h1.6v1.6h-1.6zM98.3 380.6h1.6v1.6h-1.6zM84.2 371.9h1.6v1.6h-1.6zM101.8 380.0h1.6v1.6h-1.6zM70.6 364.3h1.6v1.6h-1.6zM106.3 382.7h1.6v1.6h-1.6zM73.0 373.9h1.6v1.6h-1.6zM87.4 373.9h1.6v1.6h-1.6zM83.2 379.0h1.6v1.6h-1.6zM75.4 365.3h1.6v1.6h-1.6zM84.3 380.2h1.6v1.6h-1.6zM74.4 351.8h1.6v1.6h-1.6zM69.2 377.8h1.6v1.6h-1.6zM89.1 377.5h1.6v1.6h-1.6zM76.9 368.6h1.6v1.6h-1.6zM72.7 359.7h1.6v1.6h-1.6zM78.7 380.3h1.6v1.6h-1.6zM86.6 379.5h1.6v1.6h-1.6zM86.3 362.6h1.6v1.6h-1.6zM94.0 380.9h1.6v1.6h-1.6zM90.6 376.8h1.6v1.6h-1.6zM69.3 373.4h1.6v1.6h-1.6zM92.8 374.4h1.6v1.6h-1.6zM77.4 366.7h1.6v1.6h-1.6zM84.6 386.6h1.6v1.6h-1.6zM86.3 360.7h1.6v1.6h-1.6zM99.0 382.3h1.6v1.6h-1.6zM81.7 365.7h1.6v1.6h-1.6zM75.2 382.4h1.6v1.6h-1.6zM76.4 379.6h1.6v1.6h-1.6zM75.5 357.1h1.6v1.6h-1.6zM104.3 374.5h1.6v1.6h-1.6zM81.8 356.6h1.6v1.6h-1.6zM87.1 342.4h1.6v1.6h-1.6zM88.6 355.9h1.6v1.6h-1.6zM116.1 369.6h1.6v1.6h-1.6zM101.2 362.3h1.6v1.6h-1.6zM110.5 372.4h1.6v1.6h-1.6zM81.6 349.7h1.6v1.6h-1.6zM84.4 344.8h1.6v1.6h-1.6zM79.2 351.1h1.6v1.6h-1.6zM93.0 352.4h1.6v1.6h-1.6zM87.7 355.6h1.6v1.6h-1.6zM115.0 366.8h1.6v1.6h-1.6zM101.7 367.5h1.6v1.6h-1.6zM108.4 359.5h1.6v1.6h-1.6zM86.5 358.2h1.6v1.6h-1.6zM104.6 367.2h1.6v1.6h-1.6zM89.9 360.3h1.6v1.6h-1.6zM117.2 364.6h1.6v1.6h-1.6zM112.8 375.0h1.6v1.6h-1.6zM115.3 366.3h1.6v1.6h-1.6zM122.6 374.7h1.6v1.6h-1.6zM97.5 349.4h1.6v1.6h-1.6zM105.7 361.0h1.6v1.6h-1.6zM106.2 370.3h1.6v1.6h-1.6zM121.8 373.3h1.6v1.6h-1.6zM107.9 370.5h1.6v1.6h-1.6zM88.5 356.9h1.6v1.6h-1.6zM112.1 364.1h1.6v1.6h-1.6zM82.3 338.9h1.6v1.6h-1.6zM113.7 372.3h1.6v1.6h-1.6zM83.7 346.5h1.6v1.6h-1.6zM84.4 356.5h1.6v1.6h-1.6zM115.9 369.7h1.6v1.6h-1.6zM105.2 359.1h1.6v1.6h-1.6zM100.9 356.8h1.6v1.6h-1.6zM84.8 346.3h1.6v1.6h-1.6zM108.4 367.4h1.6v1.6h-1.6zM99.3 367.4h1.6v1.6h-1.6zM93.5 346.4h1.6v1.6h-1.6zM81.4 348.1h1.6v1.6h-1.6zM82.2 346.0h1.6v1.6h-1.6zM99.5 352.6h1.6v1.6h-1.6zM90.2 347.1h1.6v1.6h-1.6zM99.7 356.4h1.6v1.6h-1.6zM93.4 363.9h1.6v1.6h-1.6zM94.7 356.4h1.6v1.6h-1.6zM94.3 363.0h1.6v1.6h-1.6zM118.9 371.6h1.6v1.6h-1.6zM84.9 354.1h1.6v1.6h-1.6zM96.4 359.0h1.6v1.6h-1.6zM88.0 351.5h1.6v1.6h-1.6zM123.8 372.5h1.6v1.6h-1.6zM93.0 349.7h1.6v1.6h-1.6zM77.3 337.3h1.6v1.6h-1.6zM91.7 347.0h1.6v1.6h-1.6zM114.3 364.8h1.6v1.6h-1.6zM85.7 379.6h1.6v1.6h-1.6zM113.4 381.0h1.6v1.6h-1.6zM74.8 381.6h1.6v1.6h-1.6zM83.1 381.3h1.6v1.6h-1.6zM124.5 380.9h1.6v1.6h-1.6zM55.5 381.1h1.6v1.6h-1.6zM70.0 380.7h1.6v1.6h-1.6zM69.4 379.8h1.6v1.6h-1.6zM102.0 380.3h1.6v1.6h-1.6zM64.5 381.5h1.6v1.6h-1.6zM62.9 380.9h1.6v1.6h-1.6zM85.3 381.9h1.6v1.6h-1.6zM118.5 380.2h1.6v1.6h-1.6zM113.0 382.7h1.6v1.6h-1.6zM111.0 381.3h1.6v1.6h-1.6zM49.9 380.8h1.6v1.6h-1.6zM98.6 380.7h1.6v1.6h-1.6zM79.6 380.3h1.6v1.6h-1.6zM78.9 381.5h1.6v1.6h-1.6zM88.2 381.5h1.6v1.6h-1.6zM112.0 380.7h1.6v1.6h-1.6zM97.5 381.9h1.6v1.6h-1.6zM80.4 380.6h1.6v1.6h-1.6zM64.7 378.5h1.6v1.6h-1.6zM96.3 380.0h1.6v1.6h-1.6zM87.3 380.9h1.6v1.6h-1.6zM88.4 382.1h1.6v1.6h-1.6zM93.1 381.6h1.6v1.6h-1.6zM99.9 380.8h1.6v1.6h-1.6zM90.2 381.0h1.6v1.6h-1.6zM124.7 380.2h1.6v1.6h-1.6zM56.8 381.7h1.6v1.6h-1.6zM100.6 382.9h1.6v1.6h-1.6zM79.4 382.1h1.6v1.6h-1.6zM73.5 381.5h1.6v1.6h-1.6zM64.6 382.8h1.6v1.6h-1.6zM105.4 381.6h1.6v1.6h-1.6zM77.3 381.4h1.6v1.6h-1.6zM122.4 383.5h1.6v1.6h-1.6zM80.1 381.4h1.6v1.6h-1.6zM75.4 379.6h1.6v1.6h-1.6zM123.0 381.5h1.6v1.6h-1.6zM113.8 380.4h1.6v1.6h-1.6zM72.1 379.9h1.6v1.6h-1.6zM97.5 382.5h1.6v1.6h-1.6zM50.4 381.1h1.6v1.6h-1.6zM68.2 380.3h1.6v1.6h-1.6zM85.4 380.3h1.6v1.6h-1.6zM93.5 381.3h1.6v1.6h-1.6zM83.5 381.0h1.6v1.6h-1.6zM103.6 381.4h1.6v1.6h-1.6zM77.8 382.2h1.6v1.6h-1.6zM91.9 382.4h1.6v1.6h-1.6zM55.7 381.9h1.6v1.6h-1.6zM66.0 380.5h1.6v1.6h-1.6zM120.7 381.0h1.6v1.6h-1.6zM97.2 382.3h1.6v1.6h-1.6zM57.5 382.0h1.6v1.6h-1.6zM96.4 379.5h1.6v1.6h-1.6zM69.1 381.1h1.6v1.6h-1.6zM61.7 380.0h1.6v1.6h-1.6zM82.6 381.4h1.6v1.6h-1.6zM63.2 381.2h1.6v1.6h-1.6zM121.9 381.8h1.6v1.6h-1.6zM92.4 381.1h1.6v1.6h-1.6zM78.6 381.7h1.6v1.6h-1.6zM124.8 379.6h1.6v1.6h-1.6zM115.8 381.4h1.6v1.6h-1.6zM66.6 382.6h1.6v1.6h-1.6zM68.0 381.5h1.6v1.6h-1.6zM78.3 379.7h1.6v1.6h-1.6zM63.6 380.7h1.6v1.6h-1.6zM86.6 381.6h1.6v1.6h-1.6zM53.4 379.5h1.6v1.6h-1.6zM90.7 380.5h1.6v1.6h-1.6zM107.0 381.7h1.6v1.6h-1.6zM65.4 382.5h1.6v1.6h-1.6zM75.4 380.4h1.6v1.6h-1.6zM111.3 380.5h1.6v1.6h-1.6zM103.7 380.5h1.6v1.6h-1.6zM63.8 381.4h1.6v1.6h-1.6zM66.4 380.3h1.6v1.6h-1.6zM92.1 380.3h1.6v1.6h-1.6zM107.7 382.0h1.6v1.6h-1.6zM74.1 379.7h1.6v1.6h-1.6zM104.4 382.2h1.6v1.6h-1.6zM55.5 380.3h1.6v1.6h-1.6zM85.2 381.6h1.6v1.6h-1.6zM119.3 381.5h1.6v1.6h-1.6zM63.1 379.9h1.6v1.6h-1.6zM60.3 379.7h1.6v1.6h-1.6zM103.0 380.5h1.6v1.6h-1.6zM83.0 379.6h1.6v1.6h-1.6zM102.7 380.8h1.6v1.6h-1.6zM93.9 380.8h1.6v1.6h-1.6zM66.0 380.9h1.6v1.6h-1.6zM80.0 380.8h1.6v1.6h-1.6zM79.6 379.4h1.6v1.6h-1.6zM77.9 379.9h1.6v1.6h-1.6zM106.0 379.8h1.6v1.6h-1.6zM94.1 380.4h1.6v1.6h-1.6zM108.6 379.3h1.6v1.6h-1.6zM70.8 381.0h1.6v1.6h-1.6zM100.5 380.9h1.6v1.6h-1.6zM120.1 381.6h1.6v1.6h-1.6zM97.8 380.4h1.6v1.6h-1.6zM71.8 382.0h1.6v1.6h-1.6zM65.8 380.5h1.6v1.6h-1.6zM51.5 380.4h1.6v1.6h-1.6zM76.3 380.0h1.6v1.6h-1.6zM115.9 382.0h1.6v1.6h-1.6zM58.7 380.9h1.6v1.6h-1.6zM75.6 381.9h1.6v1.6h-1.6zM105.4 382.0h1.6v1.6h-1.6zM84.2 380.3h1.6v1.6h-1.6zM91.6 379.9h1.6v1.6h-1.6zM101.9 381.7h1.6v1.6h-1.6zM95.0 381.7h1.6v1.6h-1.6zM92.6 380.1h1.6v1.6h-1.6zM121.2 378.6h1.6v1.6h-1.6zM112.4 381.7h1.6v1.6h-1.6zM89.2 382.1h1.6v1.6h-1.6zM83.4 380.1h1.6v1.6h-1.6zM79.9 381.5h1.6v1.6h-1.6zM64.6 381.3h1.6v1.6h-1.6zM123.0 379.6h1.6v1.6h-1.6zM122.4 381.2h1.6v1.6h-1.6zM97.0 380.7h1.6v1.6h-1.6zM76.2 381.6h1.6v1.6h-1.6zM80.0 380.2h1.6v1.6h-1.6zM83.7 379.4h1.6v1.6h-1.6zM79.8 380.1h1.6v1.6h-1.6zM52.3 380.5h1.6v1.6h-1.6zM80.9 379.6h1.6v1.6h-1.6zM86.8 382.2h1.6v1.6h-1.6zM103.5 380.7h1.6v1.6h-1.6zM85.1 380.8h1.6v1.6h-1.6zM123.8 380.2h1.6v1.6h-1.6zM100.4 379.2h1.6v1.6h-1.6zM95.9 381.2h1.6v1.6h-1.6zM102.1 380.1h1.6v1.6h-1.6zM118.2 381.1h1.6v1.6h-1.6zM67.1 380.3h1.6v1.6h-1.6zM96.6 381.1h1.6v1.6h-1.6zM77.6 381.4h1.6v1.6h-1.6zM81.6 380.9h1.6v1.6h-1.6zM101.5 380.0h1.6v1.6h-1.6zM89.2 381.5h1.6v1.6h-1.6zM75.7 380.6h1.6v1.6h-1.6zM108.1 381.6h1.6v1.6h-1.6zM78.0 380.2h1.6v1.6h-1.6zM111.3 379.4h1.6v1.6h-1.6zM101.2 379.9h1.6v1.6h-1.6zM57.0 381.6h1.6v1.6h-1.6zM120.3 381.4h1.6v1.6h-1.6zM91.1 382.1h1.6v1.6h-1.6zM87.5 382.7h1.6v1.6h-1.6zM50.1 381.2h1.6v1.6h-1.6zM71.6 379.6h1.6v1.6h-1.6zM60.8 381.3h1.6v1.6h-1.6zM70.5 381.7h1.6v1.6h-1.6zM82.6 378.9h1.6v1.6h-1.6zM64.8 380.4h1.6v1.6h-1.6zM74.7 382.3h1.6v1.6h-1.6zM105.8 382.7h1.6v1.6h-1.6zM87.3 380.0h1.6v1.6h-1.6zM76.6 381.8h1.6v1.6h-1.6zM76.4 380.7h1.6v1.6h-1.6zM85.0 381.7h1.6v1.6h-1.6zM101.4 380.6h1.6v1.6h-1.6zM65.0 378.9h1.6v1.6h-1.6zM92.1 379.6h1.6v1.6h-1.6zM50.5 381.4h1.6v1.6h-1.6zM91.7 380.0h1.6v1.6h-1.6zM93.5 380.6h1.6v1.6h-1.6zM64.9 382.4h1.6v1.6h-1.6zM87.4 381.9h1.6v1.6h-1.6zM96.8 382.1h1.6v1.6h-1.6zM53.6 380.0h1.6v1.6h-1.6zM120.4 381.4h1.6v1.6h-1.6zM108.3 383.0h1.6v1.6h-1.6zM94.8 380.5h1.6v1.6h-1.6zM117.0 380.7h1.6v1.6h-1.6zM89.6 379.8h1.6v1.6h-1.6zM101.2 383.1h1.6v1.6h-1.6zM70.0 381.5h1.6v1.6h-1.6zM77.1 380.0h1.6v1.6h-1.6zM99.7 381.5h1.6v1.6h-1.6zM69.5 379.8h1.6v1.6h-1.6zM66.6 380.2h1.6v1.6h-1.6zM107.9 381.7h1.6v1.6h-1.6zM69.1 380.2h1.6v1.6h-1.6zM95.0 379.9h1.6v1.6h-1.6zM90.6 379.3h1.6v1.6h-1.6zM54.4 379.1h1.6v1.6h-1.6zM102.9 380.7h1.6v1.6h-1.6zM75.0 379.5h1.6v1.6h-1.6zM56.8 380.6h1.6v1.6h-1.6zM113.6 380.7h1.6v1.6h-1.6zM94.8 379.3h1.6v1.6h-1.6zM98.6 381.0h1.6v1.6h-1.6zM68.6 380.2h1.6v1.6h-1.6zM92.4 381.6h1.6v1.6h-1.6zM80.5 380.1h1.6v1.6h-1.6zM74.1 346.3h1.6v1.6h-1.6zM73.2 349.0h1.6v1.6h-1.6zM72.1 344.9h1.6v1.6h-1.6zM71.2 353.5h1.6v1.6h-1.6zM72.6 353.4h1.6v1.6h-1.6zM71.8 347.1h1.6v1.6h-1.6zM74.1 348.9h1.6v1.6h-1.6zM73.6 349.6h1.6v1.6h-1.6zM72.2 353.9h1.6v1.6h-1.6zM71.7 342.3h1.6v1.6h-1.6zM74.8 343.0h1.6v1.6h-1.6zM73.1 349.4h1.6v1.6h-1.6zM73.2 346.0h1.6v1.6h-1.6zM73.8 348.5h1.6v1.6h-1.6zM73.9 349.9h1.6v1.6h-1.6zM74.1 344.8h1.6v1.6h-1.6zM74.2 341.7h1.6v1.6h-1.6zM72.6 354.6h1.6v1.6h-1.6zM71.2 352.0h1.6v1.6h-1.6zM73.5 352.8h1.6v1.6h-1.6zM71.9 354.3h1.6v1.6h-1.6zM69.9 354.9h1.6v1.6h-1.6zM71.6 346.0h1.6v1.6h-1.6zM72.3 350.3h1.6v1.6h-1.6zM72.4 342.2h1.6v1.6h-1.6zM70.9 345.1h1.6v1.6h-1.6zM70.9 349.5h1.6v1.6h-1.6zM73.9 351.2h1.6v1.6h-1.6zM74.5 351.8h1.6v1.6h-1.6zM72.1 345.1h1.6v1.6h-1.6zM72.3 350.8h1.6v1.6h-1.6zM70.1 345.3h1.6v1.6h-1.6zM73.9 349.4h1.6v1.6h-1.6zM72.1 346.3h1.6v1.6h-1.6zM70.3 349.6h1.6v1.6h-1.6zM72.5 415.9h1.6v1.6h-1.6zM72.3 416.1h1.6v1.6h-1.6zM71.6 417.0h1.6v1.6h-1.6zM72.4 411.1h1.6v1.6h-1.6zM74.3 410.3h1.6v1.6h-1.6zM73.3 404.3h1.6v1.6h-1.6zM74.4 406.5h1.6v1.6h-1.6zM72.8 417.1h1.6v1.6h-1.6zM72.2 402.7h1.6v1.6h-1.6zM72.8 412.1h1.6v1.6h-1.6zM71.7 405.9h1.6v1.6h-1.6zM71.9 409.6h1.6v1.6h-1.6zM71.9 406.8h1.6v1.6h-1.6zM71.5 399.6h1.6v1.6h-1.6zM73.8 402.2h1.6v1.6h-1.6zM73.7 398.7h1.6v1.6h-1.6zM72.9 416.0h1.6v1.6h-1.6zM72.9 416.2h1.6v1.6h-1.6zM71.9 396.4h1.6v1.6h-1.6zM71.1 413.7h1.6v1.6h-1.6zM70.0 409.7h1.6v1.6h-1.6zM72.9 413.1h1.6v1.6h-1.6zM74.2 403.8h1.6v1.6h-1.6zM71.2 411.9h1.6v1.6h-1.6zM72.8 398.2h1.6v1.6h-1.6zM72.3 405.9h1.6v1.6h-1.6zM70.5 405.8h1.6v1.6h-1.6zM71.1 406.6h1.6v1.6h-1.6zM72.8 398.6h1.6v1.6h-1.6zM71.8 406.1h1.6v1.6h-1.6zM73.6 397.1h1.6v1.6h-1.6zM70.6 403.4h1.6v1.6h-1.6zM72.2 397.4h1.6v1.6h-1.6zM69.4 400.9h1.6v1.6h-1.6zM72.8 397.3h1.6v1.6h-1.6zM72.5 408.9h1.6v1.6h-1.6zM73.3 405.9h1.6v1.6h-1.6zM72.3 415.6h1.6v1.6h-1.6zM70.1 417.9h1.6v1.6h-1.6zM72.7 400.3h1.6v1.6h-1.6zM71.4 412.1h1.6v1.6h-1.6zM74.4 413.0h1.6v1.6h-1.6zM71.1 401.6h1.6v1.6h-1.6zM70.3 411.1h1.6v1.6h-1.6zM72.2 409.4h1.6v1.6h-1.6zM71.6 406.6h1.6v1.6h-1.6zM71.2 406.5h1.6v1.6h-1.6zM72.7 410.4h1.6v1.6h-1.6zM72.5 406.3h1.6v1.6h-1.6zM69.1 415.6h1.6v1.6h-1.6zM72.9 408.4h1.6v1.6h-1.6zM70.3 417.7h1.6v1.6h-1.6zM70.5 409.6h1.6v1.6h-1.6zM71.4 412.8h1.6v1.6h-1.6zM72.1 397.2h1.6v1.6h-1.6zM71.8 415.2h1.6v1.6h-1.6zM72.8 410.1h1.6v1.6h-1.6zM71.8 401.4h1.6v1.6h-1.6zM71.9 416.8h1.6v1.6h-1.6zM72.9 402.4h1.6v1.6h-1.6zM84.8 384.1h1.6v1.6h-1.6zM109.3 389.2h1.6v1.6h-1.6zM90.5 394.2h1.6v1.6h-1.6zM97.3 391.9h1.6v1.6h-1.6zM85.0 382.3h1.6v1.6h-1.6zM91.6 382.8h1.6v1.6h-1.6zM83.8 393.7h1.6v1.6h-1.6zM89.6 394.1h1.6v1.6h-1.6zM83.7 393.8h1.6v1.6h-1.6zM87.4 396.3h1.6v1.6h-1.6zM111.2 382.4h1.6v1.6h-1.6zM89.4 395.9h1.6v1.6h-1.6zM102.1 388.5h1.6v1.6h-1.6zM104.3 383.6h1.6v1.6h-1.6zM99.6 388.7h1.6v1.6h-1.6zM104.5 388.4h1.6v1.6h-1.6zM95.0 390.1h1.6v1.6h-1.6zM109.6 385.0h1.6v1.6h-1.6zM105.5 390.8h1.6v1.6h-1.6zM82.8 389.9h1.6v1.6h-1.6zM102.6 389.6h1.6v1.6h-1.6zM87.4 388.4h1.6v1.6h-1.6zM91.4 393.1h1.6v1.6h-1.6zM87.0 384.0h1.6v1.6h-1.6zM89.2 391.1h1.6v1.6h-1.6zM81.0 383.5h1.6v1.6h-1.6zM93.2 386.1h1.6v1.6h-1.6zM102.7 388.9h1.6v1.6h-1.6zM87.1 387.7h1.6v1.6h-1.6zM101.4 394.1h1.6v1.6h-1.6zM109.1 394.5h1.6v1.6h-1.6zM61.4 406.7h1.6v1.6h-1.6zM143.2 392.9h1.6v1.6h-1.6zM133.8 382.3h1.6v1.6h-1.6zM72.3 351.8h1.6v1.6h-1.6zM94.9 381.9h1.6v1.6h-1.6zM96.2 329.6h1.6v1.6h-1.6zM116.1 373.8h1.6v1.6h-1.6zM91.4 383.7h1.6v1.6h-1.6zM113.5 391.8h1.6v1.6h-1.6zM121.8 416.1h1.6v1.6h-1.6zM130.5 407.2h1.6v1.6h-1.6zM63.7 394.7h1.6v1.6h-1.6zM83.0 407.7h1.6v1.6h-1.6zM73.1 362.4h1.6v1.6h-1.6zM105.9 333.3h1.6v1.6h-1.6zM120.9 411.2h1.6v1.6h-1.6zM73.2 349.4h1.6v1.6h-1.6zM78.8 351.4h1.6v1.6h-1.6zM109.5 331.6h1.6v1.6h-1.6zM115.1 400.4h1.6v1.6h-1.6zM85.2 388.1h1.6v1.6h-1.6z"/>
<line x1="42.8" y1="308.0" x2="42.8" y2="455.0" stroke="#333" stroke-width="1.1" />
<line x1="42.2" y1="454.5" x2="187.0" y2="454.5" stroke="#333" stroke-width="1.1" />
<line x1="40.5" y1="318.3" x2="42.8" y2="318.3" stroke="#333" stroke-width="1" />
<text x="38.5" y="321.4" font-size="8.8" fill="#161616" stroke="#161616" stroke-width="0" text-anchor="end" >0.3</text>
<line x1="40.5" y1="363.0" x2="42.8" y2="363.0" stroke="#333" stroke-width="1" />
<text x="38.5" y="366.1" font-size="8.8" fill="#161616" stroke="#161616" stroke-width="0" text-anchor="end" >0.2</text>
<line x1="40.5" y1="400.8" x2="42.8" y2="400.8" stroke="#333" stroke-width="1" />
<text x="38.5" y="403.9" font-size="8.8" fill="#161616" stroke="#161616" stroke-width="0" text-anchor="end" >−0.2</text>
<line x1="40.5" y1="445.5" x2="42.8" y2="445.5" stroke="#333" stroke-width="1" />
<text x="38.5" y="448.6" font-size="8.8" fill="#161616" stroke="#161616" stroke-width="0" text-anchor="end" >−0.3</text>
<line x1="60.2" y1="454.5" x2="60.2" y2="456.8" stroke="#333" stroke-width="1" />
<text x="60.2" y="466.3" font-size="8.8" fill="#161616" stroke="#161616" stroke-width="0" text-anchor="middle" >−10</text>
<line x1="83.7" y1="454.5" x2="83.7" y2="456.8" stroke="#333" stroke-width="1" />
<text x="83.7" y="466.3" font-size="8.8" fill="#161616" stroke="#161616" stroke-width="0" text-anchor="middle" >10</text>
<line x1="111.3" y1="454.5" x2="111.3" y2="456.8" stroke="#333" stroke-width="1" />
<text x="111.3" y="466.3" font-size="8.8" fill="#161616" stroke="#161616" stroke-width="0" text-anchor="middle" >15</text>
<line x1="164.8" y1="454.5" x2="164.8" y2="456.8" stroke="#333" stroke-width="1" />
<text x="164.8" y="466.3" font-size="8.8" fill="#161616" stroke="#161616" stroke-width="0" text-anchor="middle" >20</text>
<text x="112.3" y="478.5" font-size="8.8" fill="#161616" stroke="#161616" stroke-width="0" text-anchor="middle" >Δ% M+2+6– vs. other (scRNA-seq)</text>
<text x="0" y="0" font-size="8.8" fill="#161616" stroke="#161616" stroke-width="0" text-anchor="middle" transform="translate(13.4,376.8) rotate(-90)">Spearman rho pooled (GEP)</text>
<text x="123.0" y="450.8" font-size="8.8" fill="#161616" stroke="#161616" stroke-width="0" text-anchor="start" ><tspan font-style="italic">n</tspan> = 13,096</text>
<text x="132.6" y="309.6" font-size="7.7" fill="#c49bb0" stroke="#c49bb0" stroke-width="0" text-anchor="start" font-style="italic">SH3BP5</text>
<text x="133.6" y="320.4" font-size="7.7" fill="#c49bb0" stroke="#c49bb0" stroke-width="0" text-anchor="start" font-style="italic">TNFRSF13B</text>
<text x="102.0" y="330.2" font-size="7.7" fill="#c49bb0" stroke="#c49bb0" stroke-width="0" text-anchor="start" font-style="italic">ARHGAP24</text>
<text x="102.0" y="340.8" font-size="7.7" fill="#333" stroke="#333" stroke-width="0" text-anchor="start" font-style="italic">CCND2</text>
<text x="119.6" y="347.0" font-size="7.7" fill="#c49bb0" stroke="#c49bb0" stroke-width="0" text-anchor="start" font-style="italic">PARP15</text>
<text x="145.8" y="339.0" font-size="7.7" fill="#c49bb0" stroke="#c49bb0" stroke-width="0" text-anchor="start" font-style="italic">BATF</text>
<text x="171.0" y="347.6" font-size="7.7" fill="#c49bb0" stroke="#c49bb0" stroke-width="0" text-anchor="start" font-style="italic">CCDC50</text>
<text x="119.6" y="357.2" font-size="7.7" fill="#c49bb0" stroke="#c49bb0" stroke-width="0" text-anchor="start" font-style="italic">CCR7</text>
<text x="115.0" y="364.7" font-size="7.7" fill="#c49bb0" stroke="#c49bb0" stroke-width="0" text-anchor="start" font-style="italic">PIM2</text>
<text x="112.7" y="372.4" font-size="7.7" fill="#c49bb0" stroke="#c49bb0" stroke-width="0" text-anchor="start" font-style="italic">PES1</text>
<circle cx="128.1" cy="311" r="2.1" fill="none" stroke="#8a2452" stroke-width="1.2"/>
<circle cx="127.2" cy="318.8" r="2.1" fill="none" stroke="#8a2452" stroke-width="1.2"/>
<circle cx="101.2" cy="332.3" r="2.1" fill="none" stroke="#8a2452" stroke-width="1.2"/>
<circle cx="115.3" cy="344.4" r="2.1" fill="none" stroke="#8a2452" stroke-width="1.2"/>
<circle cx="148.1" cy="348.5" r="2.1" fill="none" stroke="#8a2452" stroke-width="1.2"/>
<circle cx="167.6" cy="344.6" r="2.1" fill="none" stroke="#8a2452" stroke-width="1.2"/>
<circle cx="97.3" cy="351.2" r="2.1" fill="none" stroke="#8a2452" stroke-width="1.2"/>
<circle cx="100.2" cy="351.2" r="2.1" fill="none" stroke="#8a2452" stroke-width="1.2"/>
<circle cx="108.8" cy="350.4" r="2.1" fill="none" stroke="#8a2452" stroke-width="1.2"/>
<circle cx="110.8" cy="352.2" r="2.1" fill="none" stroke="#8a2452" stroke-width="1.2"/>
<circle cx="114.5" cy="350.8" r="2.1" fill="none" stroke="#8a2452" stroke-width="1.2"/>
<circle cx="107.3" cy="361.5" r="2.1" fill="none" stroke="#8a2452" stroke-width="1.2"/>
<path d="M104.8,342.6 L111.8,342.6 L108.3,348.8 Z" fill="#b9c83c" stroke="#222" stroke-width="1"/>
<circle cx="44.6" cy="496.6" r="2.3" fill="none" stroke="#8e2a55" stroke-width="1.2"/>
<text x="50.1" y="499.1" font-size="8.8" fill="#161616" stroke="#161616" stroke-width="0" text-anchor="start" >scRNA-seq and GEP hit (<tspan font-style="italic">n</tspan> = 13)</text>
<text x="220.0" y="285.7" font-size="11" fill="#111" stroke="#111" stroke-width="0" text-anchor="start" font-weight="bold">D</text>
<text x="353.2" y="288.5" font-size="8.8" fill="#161616" stroke="#161616" stroke-width="0" text-anchor="middle" >gprofiler2</text>
<text x="353.2" y="298.5" font-size="8.8" fill="#161616" stroke="#161616" stroke-width="0" text-anchor="middle" >Wikipathways_up</text>
<rect x="271.0" y="300.8" width="167.0" height="164.6" fill="#f1f2f5"/>
<line x1="289.8" y1="300.8" x2="289.8" y2="465.4" stroke="#f8f9fa" stroke-width="0.6" />
<line x1="305.9" y1="300.8" x2="305.9" y2="465.4" stroke="#f8f9fa" stroke-width="0.6" />
<line x1="321.4" y1="300.8" x2="321.4" y2="465.4" stroke="#f8f9fa" stroke-width="0.6" />
<line x1="344.5" y1="300.8" x2="344.5" y2="465.4" stroke="#f8f9fa" stroke-width="0.6" />
<line x1="373.9" y1="300.8" x2="373.9" y2="465.4" stroke="#f8f9fa" stroke-width="0.6" />
<line x1="409.6" y1="300.8" x2="409.6" y2="465.4" stroke="#f8f9fa" stroke-width="0.6" />
<line x1="271.0" y1="331.0" x2="438.0" y2="331.0" stroke="#f8f9fa" stroke-width="0.6" />
<line x1="271.0" y1="382.4" x2="438.0" y2="382.4" stroke="#f8f9fa" stroke-width="0.6" />
<line x1="271.0" y1="424.0" x2="438.0" y2="424.0" stroke="#f8f9fa" stroke-width="0.6" />
<line x1="271.0" y1="451.3" x2="438.0" y2="451.3" stroke="#f8f9fa" stroke-width="0.6" />
<line x1="279.7" y1="300.8" x2="279.7" y2="465.4" stroke="#ffffff" stroke-width="1.1" />
<line x1="299.8" y1="300.8" x2="299.8" y2="465.4" stroke="#ffffff" stroke-width="1.1" />
<line x1="311.9" y1="300.8" x2="311.9" y2="465.4" stroke="#ffffff" stroke-width="1.1" />
<line x1="331.0" y1="300.8" x2="331.0" y2="465.4" stroke="#ffffff" stroke-width="1.1" />
<line x1="358.0" y1="300.8" x2="358.0" y2="465.4" stroke="#ffffff" stroke-width="1.1" />
<line x1="389.8" y1="300.8" x2="389.8" y2="465.4" stroke="#ffffff" stroke-width="1.1" />
<line x1="429.5" y1="300.8" x2="429.5" y2="465.4" stroke="#ffffff" stroke-width="1.1" />
<line x1="271.0" y1="303.3" x2="438.0" y2="303.3" stroke="#ffffff" stroke-width="1.1" />
<line x1="271.0" y1="358.6" x2="438.0" y2="358.6" stroke="#ffffff" stroke-width="1.1" />
<line x1="271.0" y1="406.2" x2="438.0" y2="406.2" stroke="#ffffff" stroke-width="1.1" />
<line x1="271.0" y1="441.8" x2="438.0" y2="441.8" stroke="#ffffff" stroke-width="1.1" />
<line x1="271.0" y1="460.8" x2="438.0" y2="460.8" stroke="#ffffff" stroke-width="1.1" />
<line x1="268.3" y1="303.3" x2="270.8" y2="303.3" stroke="#333" stroke-width="0.9" />
<text x="265.2" y="306.7" font-size="8.8" fill="#161616" stroke="#161616" stroke-width="0" text-anchor="end" >10<tspan font-size="6.6" dy="-3.8" dx="-0.4">−30</tspan></text>
<line x1="268.3" y1="358.6" x2="270.8" y2="358.6" stroke="#333" stroke-width="0.9" />
<text x="265.2" y="362.0" font-size="8.8" fill="#161616" stroke="#161616" stroke-width="0" text-anchor="end" >10<tspan font-size="6.6" dy="-3.8" dx="-0.4">−20</tspan></text>
<line x1="268.3" y1="406.2" x2="270.8" y2="406.2" stroke="#333" stroke-width="0.9" />
<text x="265.2" y="409.6" font-size="8.8" fill="#161616" stroke="#161616" stroke-width="0" text-anchor="end" >10<tspan font-size="6.6" dy="-3.8" dx="-0.4">−10</tspan></text>
<line x1="268.3" y1="441.8" x2="270.8" y2="441.8" stroke="#333" stroke-width="0.9" />
<text x="265.2" y="445.2" font-size="8.8" fill="#161616" stroke="#161616" stroke-width="0" text-anchor="end" >10<tspan font-size="6.6" dy="-3.8" dx="-0.4">−5</tspan></text>
<line x1="268.3" y1="460.8" x2="270.8" y2="460.8" stroke="#333" stroke-width="0.9" />
<text x="266.3" y="464.0" font-size="8.8" fill="#161616" stroke="#161616" stroke-width="0" text-anchor="end" >0</text>
<text x="0" y="0" font-size="8.8" fill="#161616" stroke="#161616" stroke-width="0" text-anchor="middle" transform="translate(238.6,384.3) rotate(-90)">FDR</text>
<line x1="279.7" y1="466.6" x2="279.7" y2="469.2" stroke="#333" stroke-width="1" />
<text x="0" y="0" font-size="9.2" fill="#161616" stroke="#161616" stroke-width="0" text-anchor="end" transform="translate(283.0,472.3) rotate(-90)">0.0</text>
<line x1="299.8" y1="466.6" x2="299.8" y2="469.2" stroke="#333" stroke-width="1" />
<text x="0" y="0" font-size="9.2" fill="#161616" stroke="#161616" stroke-width="0" text-anchor="end" transform="translate(303.1,472.3) rotate(-90)">0.5</text>
<line x1="311.9" y1="466.6" x2="311.9" y2="469.2" stroke="#333" stroke-width="1" />
<text x="0" y="0" font-size="9.2" fill="#161616" stroke="#161616" stroke-width="0" text-anchor="end" transform="translate(315.2,472.3) rotate(-90)">0.6</text>
<line x1="331.0" y1="466.6" x2="331.0" y2="469.2" stroke="#333" stroke-width="1" />
<text x="0" y="0" font-size="9.2" fill="#161616" stroke="#161616" stroke-width="0" text-anchor="end" transform="translate(334.3,472.3) rotate(-90)">0.7</text>
<line x1="358.0" y1="466.6" x2="358.0" y2="469.2" stroke="#333" stroke-width="1" />
<text x="0" y="0" font-size="9.2" fill="#161616" stroke="#161616" stroke-width="0" text-anchor="end" transform="translate(361.3,472.3) rotate(-90)">0.8</text>
<line x1="389.8" y1="466.6" x2="389.8" y2="469.2" stroke="#333" stroke-width="1" />
<text x="0" y="0" font-size="9.2" fill="#161616" stroke="#161616" stroke-width="0" text-anchor="end" transform="translate(393.1,472.3) rotate(-90)">0.9</text>
<line x1="429.5" y1="466.6" x2="429.5" y2="469.2" stroke="#333" stroke-width="1" />
<text x="0" y="0" font-size="9.2" fill="#161616" stroke="#161616" stroke-width="0" text-anchor="end" transform="translate(432.8,472.3) rotate(-90)">1.0</text>
<text x="353.4" y="498.2" font-size="8.8" fill="#161616" stroke="#161616" stroke-width="0" text-anchor="middle" >Recall</text>
<ellipse cx="314.2" cy="338" rx="14.6" ry="29.4" transform="rotate(8 314.2 338)" fill="none" stroke="#b58a9c" stroke-width="1.2" stroke-dasharray="3,2.4"/>
<ellipse cx="339" cy="414.5" rx="40" ry="7.8" transform="rotate(-23 339 414.5)" fill="none" stroke="#b58a9c" stroke-width="1.2" stroke-dasharray="3,2.4"/>
<circle cx="295.0" cy="454.1" r="2.0" fill="none" stroke="#931f55" stroke-width="1"/>
<circle cx="284.1" cy="461.3" r="1.8" fill="none" stroke="#931f55" stroke-width="1"/>
<circle cx="331.8" cy="443.1" r="1.4" fill="none" stroke="#931f55" stroke-width="1"/>
<circle cx="338.9" cy="460.7" r="2.8" fill="none" stroke="#931f55" stroke-width="1"/>
<circle cx="312.7" cy="459.1" r="2.7" fill="none" stroke="#931f55" stroke-width="1"/>
<circle cx="338.3" cy="457.6" r="2.0" fill="none" stroke="#931f55" stroke-width="1"/>
<circle cx="330.9" cy="457.2" r="2.9" fill="none" stroke="#931f55" stroke-width="1"/>
<circle cx="350.8" cy="458.7" r="2.7" fill="none" stroke="#931f55" stroke-width="1"/>
<circle cx="284.9" cy="459.4" r="2.0" fill="none" stroke="#931f55" stroke-width="1"/>
<circle cx="305.8" cy="458.4" r="2.7" fill="none" stroke="#931f55" stroke-width="1"/>
<circle cx="290.9" cy="461.2" r="1.4" fill="none" stroke="#931f55" stroke-width="1"/>
<circle cx="326.6" cy="461.4" r="2.9" fill="none" stroke="#931f55" stroke-width="1"/>
<circle cx="323.5" cy="459.5" r="2.0" fill="none" stroke="#931f55" stroke-width="1"/>
<circle cx="344.8" cy="461.0" r="2.3" fill="none" stroke="#931f55" stroke-width="1"/>
<circle cx="313.1" cy="453.5" r="2.8" fill="none" stroke="#931f55" stroke-width="1"/>
<circle cx="295.3" cy="456.3" r="1.7" fill="none" stroke="#931f55" stroke-width="1"/>
<circle cx="314.3" cy="461.1" r="1.6" fill="none" stroke="#931f55" stroke-width="1"/>
<circle cx="319.3" cy="448.0" r="2.3" fill="none" stroke="#931f55" stroke-width="1"/>
<circle cx="277.3" cy="459.9" r="2.7" fill="none" stroke="#931f55" stroke-width="1"/>
<circle cx="342.4" cy="461.4" r="2.6" fill="none" stroke="#931f55" stroke-width="1"/>
<circle cx="276.8" cy="459.9" r="2.1" fill="none" stroke="#931f55" stroke-width="1"/>
<circle cx="280.5" cy="460.5" r="1.8" fill="none" stroke="#931f55" stroke-width="1"/>
<circle cx="334.2" cy="457.9" r="2.1" fill="none" stroke="#931f55" stroke-width="1"/>
<circle cx="310.4" cy="461.5" r="1.4" fill="none" stroke="#931f55" stroke-width="1"/>
<circle cx="298.3" cy="451.8" r="2.2" fill="none" stroke="#931f55" stroke-width="1"/>
<circle cx="287.2" cy="461.3" r="2.5" fill="none" stroke="#931f55" stroke-width="1"/>
<circle cx="315.4" cy="461.4" r="2.0" fill="none" stroke="#931f55" stroke-width="1"/>
<circle cx="354.3" cy="460.3" r="2.9" fill="none" stroke="#931f55" stroke-width="1"/>
<circle cx="353.0" cy="461.5" r="1.8" fill="none" stroke="#931f55" stroke-width="1"/>
<circle cx="346.1" cy="461.4" r="1.7" fill="none" stroke="#931f55" stroke-width="1"/>
<circle cx="304.9" cy="449.5" r="2.0" fill="none" stroke="#931f55" stroke-width="1"/>
<circle cx="285.1" cy="458.1" r="2.1" fill="none" stroke="#931f55" stroke-width="1"/>
<circle cx="313.9" cy="461.2" r="2.5" fill="none" stroke="#931f55" stroke-width="1"/>
<circle cx="308.6" cy="460.6" r="2.7" fill="none" stroke="#931f55" stroke-width="1"/>
<circle cx="310.2" cy="451.6" r="1.5" fill="none" stroke="#931f55" stroke-width="1"/>
<circle cx="298.2" cy="455.2" r="2.3" fill="none" stroke="#931f55" stroke-width="1"/>
<circle cx="343.4" cy="459.4" r="2.4" fill="none" stroke="#931f55" stroke-width="1"/>
<circle cx="330.5" cy="461.4" r="1.8" fill="none" stroke="#931f55" stroke-width="1"/>
<circle cx="328.8" cy="461.5" r="2.7" fill="none" stroke="#931f55" stroke-width="1"/>
<circle cx="318.3" cy="456.9" r="2.1" fill="none" stroke="#931f55" stroke-width="1"/>
<circle cx="341.9" cy="459.7" r="2.1" fill="none" stroke="#931f55" stroke-width="1"/>
<circle cx="326.3" cy="457.9" r="2.2" fill="none" stroke="#931f55" stroke-width="1"/>
<circle cx="346.0" cy="454.0" r="2.9" fill="none" stroke="#931f55" stroke-width="1"/>
<circle cx="315.9" cy="456.1" r="1.7" fill="none" stroke="#931f55" stroke-width="1"/>
<circle cx="345.0" cy="461.5" r="2.6" fill="none" stroke="#931f55" stroke-width="1"/>
<circle cx="321.5" cy="448.8" r="1.4" fill="none" stroke="#931f55" stroke-width="1"/>
<circle cx="284.0" cy="458.9" r="1.8" fill="none" stroke="#931f55" stroke-width="1"/>
<circle cx="294.2" cy="450.6" r="1.9" fill="none" stroke="#931f55" stroke-width="1"/>
<circle cx="289.4" cy="460.8" r="1.8" fill="none" stroke="#931f55" stroke-width="1"/>
<circle cx="300.7" cy="452.0" r="1.5" fill="none" stroke="#931f55" stroke-width="1"/>
<circle cx="324.1" cy="451.6" r="2.4" fill="none" stroke="#931f55" stroke-width="1"/>
<circle cx="321.3" cy="461.4" r="2.2" fill="none" stroke="#931f55" stroke-width="1"/>
<circle cx="299.7" cy="455.8" r="2.5" fill="none" stroke="#931f55" stroke-width="1"/>
<circle cx="312.4" cy="452.4" r="2.3" fill="none" stroke="#931f55" stroke-width="1"/>
<circle cx="351.3" cy="458.1" r="2.4" fill="none" stroke="#931f55" stroke-width="1"/>
<circle cx="320.2" cy="460.9" r="1.5" fill="none" stroke="#931f55" stroke-width="1"/>
<circle cx="325.1" cy="458.0" r="1.9" fill="none" stroke="#931f55" stroke-width="1"/>
<circle cx="296.2" cy="459.9" r="2.1" fill="none" stroke="#931f55" stroke-width="1"/>
<circle cx="284.4" cy="460.3" r="2.0" fill="none" stroke="#931f55" stroke-width="1"/>
<circle cx="284.4" cy="454.8" r="3.0" fill="none" stroke="#931f55" stroke-width="1"/>
<circle cx="322.9" cy="441.0" r="2.5" fill="none" stroke="#931f55" stroke-width="1"/>
<circle cx="334.5" cy="459.0" r="2.7" fill="none" stroke="#931f55" stroke-width="1"/>
<circle cx="337.9" cy="459.5" r="1.7" fill="none" stroke="#931f55" stroke-width="1"/>
<circle cx="310.0" cy="454.6" r="2.3" fill="none" stroke="#931f55" stroke-width="1"/>
<circle cx="311.1" cy="459.8" r="2.4" fill="none" stroke="#931f55" stroke-width="1"/>
<circle cx="349.5" cy="455.0" r="2.3" fill="none" stroke="#931f55" stroke-width="1"/>
<circle cx="338.0" cy="447.5" r="1.4" fill="none" stroke="#931f55" stroke-width="1"/>
<circle cx="322.3" cy="449.9" r="1.5" fill="none" stroke="#931f55" stroke-width="1"/>
<circle cx="276.5" cy="459.2" r="2.9" fill="none" stroke="#931f55" stroke-width="1"/>
<circle cx="297.2" cy="446.8" r="2.0" fill="none" stroke="#931f55" stroke-width="1"/>
<circle cx="331.9" cy="455.8" r="1.6" fill="none" stroke="#931f55" stroke-width="1"/>
<circle cx="349.6" cy="458.6" r="2.2" fill="none" stroke="#931f55" stroke-width="1"/>
<circle cx="277.7" cy="461.1" r="2.6" fill="none" stroke="#931f55" stroke-width="1"/>
<circle cx="349.7" cy="457.6" r="2.8" fill="none" stroke="#931f55" stroke-width="1"/>
<circle cx="341.0" cy="454.9" r="2.0" fill="none" stroke="#931f55" stroke-width="1"/>
<circle cx="312.0" cy="460.1" r="2.7" fill="none" stroke="#931f55" stroke-width="1"/>
<circle cx="300.7" cy="449.0" r="1.8" fill="none" stroke="#931f55" stroke-width="1"/>
<circle cx="281.3" cy="461.2" r="2.4" fill="none" stroke="#931f55" stroke-width="1"/>
<circle cx="324.8" cy="440.8" r="2.0" fill="none" stroke="#931f55" stroke-width="1"/>
<circle cx="343.7" cy="461.3" r="1.5" fill="none" stroke="#931f55" stroke-width="1"/>
<circle cx="330.5" cy="455.7" r="1.8" fill="none" stroke="#931f55" stroke-width="1"/>
<circle cx="319.5" cy="454.8" r="2.5" fill="none" stroke="#931f55" stroke-width="1"/>
<circle cx="308.2" cy="457.6" r="2.3" fill="none" stroke="#931f55" stroke-width="1"/>
<circle cx="318.1" cy="457.6" r="2.0" fill="none" stroke="#931f55" stroke-width="1"/>
<circle cx="335.1" cy="457.5" r="2.2" fill="none" stroke="#931f55" stroke-width="1"/>
<circle cx="283.8" cy="460.7" r="2.5" fill="none" stroke="#931f55" stroke-width="1"/>
<circle cx="346.5" cy="457.8" r="1.9" fill="none" stroke="#931f55" stroke-width="1"/>
<circle cx="323.4" cy="446.6" r="3.0" fill="none" stroke="#931f55" stroke-width="1"/>
<circle cx="278.3" cy="461.5" r="2.1" fill="none" stroke="#931f55" stroke-width="1"/>
<circle cx="277.6" cy="460.2" r="2.0" fill="none" stroke="#931f55" stroke-width="1"/>
<circle cx="277.0" cy="461.4" r="2.2" fill="none" stroke="#931f55" stroke-width="1"/>
<circle cx="346.9" cy="460.4" r="2.0" fill="none" stroke="#931f55" stroke-width="1"/>
<circle cx="324.1" cy="444.2" r="2.4" fill="none" stroke="#931f55" stroke-width="1"/>
<circle cx="335.3" cy="458.3" r="1.8" fill="none" stroke="#931f55" stroke-width="1"/>
<circle cx="343.7" cy="455.6" r="1.6" fill="none" stroke="#931f55" stroke-width="1"/>
<circle cx="333.0" cy="461.1" r="2.7" fill="none" stroke="#931f55" stroke-width="1"/>
<circle cx="330.0" cy="445.0" r="2.0" fill="none" stroke="#931f55" stroke-width="1"/>
<circle cx="294.9" cy="449.5" r="1.4" fill="none" stroke="#931f55" stroke-width="1"/>
<circle cx="315.3" cy="458.2" r="1.6" fill="none" stroke="#931f55" stroke-width="1"/>
<circle cx="291.5" cy="450.2" r="1.6" fill="none" stroke="#931f55" stroke-width="1"/>
<circle cx="349.7" cy="460.2" r="2.5" fill="none" stroke="#931f55" stroke-width="1"/>
<circle cx="305.3" cy="461.4" r="2.4" fill="none" stroke="#931f55" stroke-width="1"/>
<circle cx="283.9" cy="461.4" r="1.6" fill="none" stroke="#931f55" stroke-width="1"/>
<circle cx="347.4" cy="460.1" r="2.3" fill="none" stroke="#931f55" stroke-width="1"/>
<circle cx="303.4" cy="458.1" r="1.5" fill="none" stroke="#931f55" stroke-width="1"/>
<circle cx="275.9" cy="460.1" r="1.8" fill="none" stroke="#931f55" stroke-width="1"/>
<circle cx="350.1" cy="461.4" r="2.8" fill="none" stroke="#931f55" stroke-width="1"/>
<circle cx="341.6" cy="451.1" r="2.2" fill="none" stroke="#931f55" stroke-width="1"/>
<circle cx="279.8" cy="458.1" r="2.7" fill="none" stroke="#931f55" stroke-width="1"/>
<circle cx="293.0" cy="453.4" r="1.4" fill="none" stroke="#931f55" stroke-width="1"/>
<circle cx="323.2" cy="461.5" r="1.6" fill="none" stroke="#931f55" stroke-width="1"/>
<circle cx="311.9" cy="443.6" r="2.8" fill="none" stroke="#931f55" stroke-width="1"/>
<circle cx="333.8" cy="461.3" r="2.9" fill="none" stroke="#931f55" stroke-width="1"/>
<circle cx="290.5" cy="456.1" r="2.2" fill="none" stroke="#931f55" stroke-width="1"/>
<circle cx="303.3" cy="457.2" r="2.6" fill="none" stroke="#931f55" stroke-width="1"/>
<circle cx="292.3" cy="451.3" r="2.9" fill="none" stroke="#931f55" stroke-width="1"/>
<circle cx="298.2" cy="456.0" r="2.8" fill="none" stroke="#931f55" stroke-width="1"/>
<circle cx="316.9" cy="461.3" r="2.3" fill="none" stroke="#931f55" stroke-width="1"/>
<circle cx="287.7" cy="455.1" r="1.6" fill="none" stroke="#931f55" stroke-width="1"/>
<circle cx="318.4" cy="458.4" r="2.4" fill="none" stroke="#931f55" stroke-width="1"/>
<circle cx="352.3" cy="458.2" r="2.0" fill="none" stroke="#931f55" stroke-width="1"/>
<circle cx="316.2" cy="450.2" r="1.8" fill="none" stroke="#931f55" stroke-width="1"/>
<circle cx="315.3" cy="453.9" r="1.6" fill="none" stroke="#931f55" stroke-width="1"/>
<circle cx="330.9" cy="460.2" r="2.4" fill="none" stroke="#931f55" stroke-width="1"/>
<circle cx="348.6" cy="458.0" r="2.8" fill="none" stroke="#931f55" stroke-width="1"/>
<circle cx="321.5" cy="456.3" r="2.2" fill="none" stroke="#931f55" stroke-width="1"/>
<circle cx="340.1" cy="451.4" r="2.2" fill="none" stroke="#931f55" stroke-width="1"/>
<circle cx="321.9" cy="458.4" r="1.7" fill="none" stroke="#931f55" stroke-width="1"/>
<circle cx="317.9" cy="460.6" r="1.9" fill="none" stroke="#931f55" stroke-width="1"/>
<circle cx="281.1" cy="458.8" r="1.7" fill="none" stroke="#931f55" stroke-width="1"/>
<circle cx="285.6" cy="461.5" r="2.0" fill="none" stroke="#931f55" stroke-width="1"/>
<circle cx="348.7" cy="459.2" r="2.2" fill="none" stroke="#931f55" stroke-width="1"/>
<circle cx="310.7" cy="459.8" r="2.8" fill="none" stroke="#931f55" stroke-width="1"/>
<circle cx="332.5" cy="457.2" r="2.3" fill="none" stroke="#931f55" stroke-width="1"/>
<circle cx="343.0" cy="455.3" r="1.6" fill="none" stroke="#931f55" stroke-width="1"/>
<circle cx="275.7" cy="461.5" r="1.9" fill="none" stroke="#931f55" stroke-width="1"/>
<circle cx="350.7" cy="458.8" r="1.7" fill="none" stroke="#931f55" stroke-width="1"/>
<circle cx="320.9" cy="451.6" r="2.6" fill="none" stroke="#931f55" stroke-width="1"/>
<circle cx="334.7" cy="451.9" r="1.8" fill="none" stroke="#931f55" stroke-width="1"/>
<circle cx="293.9" cy="460.9" r="1.8" fill="none" stroke="#931f55" stroke-width="1"/>
<circle cx="300.9" cy="457.3" r="1.7" fill="none" stroke="#931f55" stroke-width="1"/>
<circle cx="328.1" cy="446.8" r="2.3" fill="none" stroke="#931f55" stroke-width="1"/>
<circle cx="309.5" cy="459.9" r="2.7" fill="none" stroke="#931f55" stroke-width="1"/>
<circle cx="287.6" cy="460.7" r="1.9" fill="none" stroke="#931f55" stroke-width="1"/>
<circle cx="339.0" cy="455.9" r="1.7" fill="none" stroke="#931f55" stroke-width="1"/>
<circle cx="280.5" cy="456.9" r="2.9" fill="none" stroke="#931f55" stroke-width="1"/>
<circle cx="347.4" cy="455.1" r="2.2" fill="none" stroke="#931f55" stroke-width="1"/>
<circle cx="341.5" cy="460.3" r="1.5" fill="none" stroke="#931f55" stroke-width="1"/>
<circle cx="323.0" cy="453.6" r="2.6" fill="none" stroke="#931f55" stroke-width="1"/>
<circle cx="313.8" cy="458.9" r="2.8" fill="none" stroke="#931f55" stroke-width="1"/>
<circle cx="329.3" cy="458.3" r="1.7" fill="none" stroke="#931f55" stroke-width="1"/>
<circle cx="320.5" cy="456.7" r="2.0" fill="none" stroke="#931f55" stroke-width="1"/>
<circle cx="315.0" cy="444.4" r="2.3" fill="none" stroke="#931f55" stroke-width="1"/>
<circle cx="287.5" cy="454.9" r="2.0" fill="none" stroke="#931f55" stroke-width="1"/>
<circle cx="282.7" cy="461.2" r="1.9" fill="none" stroke="#931f55" stroke-width="1"/>
<circle cx="275.5" cy="460.0" r="2.1" fill="none" stroke="#931f55" stroke-width="1"/>
<circle cx="280.2" cy="458.0" r="2.6" fill="none" stroke="#931f55" stroke-width="1"/>
<circle cx="279.0" cy="460.8" r="2.4" fill="none" stroke="#931f55" stroke-width="1"/>
<circle cx="314.8" cy="454.5" r="2.5" fill="none" stroke="#931f55" stroke-width="1"/>
<circle cx="281.0" cy="461.5" r="2.9" fill="none" stroke="#931f55" stroke-width="1"/>
<circle cx="304.2" cy="455.6" r="2.2" fill="none" stroke="#931f55" stroke-width="1"/>
<circle cx="284.0" cy="455.6" r="1.8" fill="none" stroke="#931f55" stroke-width="1"/>
<circle cx="338.5" cy="454.9" r="2.1" fill="none" stroke="#931f55" stroke-width="1"/>
<circle cx="297.5" cy="449.9" r="2.2" fill="none" stroke="#931f55" stroke-width="1"/>
<circle cx="353.7" cy="458.6" r="1.9" fill="none" stroke="#931f55" stroke-width="1"/>
<circle cx="337.6" cy="449.3" r="2.7" fill="none" stroke="#931f55" stroke-width="1"/>
<circle cx="304.5" cy="456.4" r="1.8" fill="none" stroke="#931f55" stroke-width="1"/>
<circle cx="332.1" cy="460.8" r="2.6" fill="none" stroke="#931f55" stroke-width="1"/>
<circle cx="292.4" cy="461.4" r="2.3" fill="none" stroke="#931f55" stroke-width="1"/>
<circle cx="292.3" cy="456.3" r="2.8" fill="none" stroke="#931f55" stroke-width="1"/>
<circle cx="349.3" cy="456.5" r="2.2" fill="none" stroke="#931f55" stroke-width="1"/>
<circle cx="345.6" cy="460.0" r="2.3" fill="none" stroke="#931f55" stroke-width="1"/>
<circle cx="293.5" cy="451.1" r="2.4" fill="none" stroke="#931f55" stroke-width="1"/>
<circle cx="346.5" cy="461.3" r="2.1" fill="none" stroke="#931f55" stroke-width="1"/>
<circle cx="279.6" cy="456.6" r="2.7" fill="none" stroke="#931f55" stroke-width="1"/>
<circle cx="288.6" cy="461.3" r="2.2" fill="none" stroke="#931f55" stroke-width="1"/>
<circle cx="329.7" cy="461.1" r="1.7" fill="none" stroke="#931f55" stroke-width="1"/>
<circle cx="336.1" cy="458.1" r="2.0" fill="none" stroke="#931f55" stroke-width="1"/>
<circle cx="289.9" cy="459.5" r="2.2" fill="none" stroke="#931f55" stroke-width="1"/>
<circle cx="291.8" cy="454.9" r="2.2" fill="none" stroke="#931f55" stroke-width="1"/>
<circle cx="331.0" cy="452.8" r="2.7" fill="none" stroke="#931f55" stroke-width="1"/>
<circle cx="279.3" cy="457.5" r="2.7" fill="none" stroke="#931f55" stroke-width="1"/>
<circle cx="309.9" cy="459.4" r="1.5" fill="none" stroke="#931f55" stroke-width="1"/>
<circle cx="342.5" cy="449.8" r="2.6" fill="none" stroke="#931f55" stroke-width="1"/>
<circle cx="312.5" cy="461.0" r="2.9" fill="none" stroke="#931f55" stroke-width="1"/>
<circle cx="336.3" cy="461.4" r="1.6" fill="none" stroke="#931f55" stroke-width="1"/>
<circle cx="346.1" cy="459.9" r="2.0" fill="none" stroke="#931f55" stroke-width="1"/>
<circle cx="282.8" cy="461.4" r="2.0" fill="none" stroke="#931f55" stroke-width="1"/>
<circle cx="350.7" cy="457.5" r="2.1" fill="none" stroke="#931f55" stroke-width="1"/>
<circle cx="304.5" cy="447.5" r="1.7" fill="none" stroke="#931f55" stroke-width="1"/>
<circle cx="303.0" cy="450.0" r="2.3" fill="none" stroke="#931f55" stroke-width="1"/>
<circle cx="331.7" cy="459.1" r="2.2" fill="none" stroke="#931f55" stroke-width="1"/>
<circle cx="309.9" cy="456.1" r="1.8" fill="none" stroke="#931f55" stroke-width="1"/>
<circle cx="338.3" cy="461.0" r="2.3" fill="none" stroke="#931f55" stroke-width="1"/>
<circle cx="302.0" cy="460.9" r="2.4" fill="none" stroke="#931f55" stroke-width="1"/>
<circle cx="347.2" cy="457.0" r="2.1" fill="none" stroke="#931f55" stroke-width="1"/>
<circle cx="301.1" cy="459.5" r="1.7" fill="none" stroke="#931f55" stroke-width="1"/>
<circle cx="338.6" cy="453.9" r="1.8" fill="none" stroke="#931f55" stroke-width="1"/>
<circle cx="326.4" cy="452.5" r="1.4" fill="none" stroke="#931f55" stroke-width="1"/>
<circle cx="335.4" cy="452.2" r="1.5" fill="none" stroke="#931f55" stroke-width="1"/>
<circle cx="278.6" cy="460.7" r="4.2" fill="none" stroke="#931f55" stroke-width="1"/>
<circle cx="279.3" cy="460.0" r="4.2" fill="none" stroke="#931f55" stroke-width="1"/>
<circle cx="280.2" cy="459.6" r="4.2" fill="none" stroke="#931f55" stroke-width="1"/>
<circle cx="277.1" cy="460.5" r="4.2" fill="none" stroke="#931f55" stroke-width="1"/>
<circle cx="279.6" cy="460.0" r="4.2" fill="none" stroke="#931f55" stroke-width="1"/>
<circle cx="280.5" cy="459.0" r="4.2" fill="none" stroke="#931f55" stroke-width="1"/>
<circle cx="283.5" cy="458.1" r="1.6" fill="#fff" stroke="#931f55" stroke-width="0.9"/>
<circle cx="286.1" cy="459.0" r="1.6" fill="#fff" stroke="#931f55" stroke-width="0.9"/>
<circle cx="287.7" cy="458.3" r="1.6" fill="#fff" stroke="#931f55" stroke-width="0.9"/>
<circle cx="290.5" cy="458.1" r="1.6" fill="#fff" stroke="#931f55" stroke-width="0.9"/>
<circle cx="292.6" cy="459.0" r="1.6" fill="#fff" stroke="#931f55" stroke-width="0.9"/>
<circle cx="294.5" cy="459.7" r="1.6" fill="#fff" stroke="#931f55" stroke-width="0.9"/>
<circle cx="296.4" cy="459.8" r="1.6" fill="#fff" stroke="#931f55" stroke-width="0.9"/>
<circle cx="298.4" cy="459.2" r="1.6" fill="#fff" stroke="#931f55" stroke-width="0.9"/>
<circle cx="300.8" cy="459.0" r="1.6" fill="#fff" stroke="#931f55" stroke-width="0.9"/>
<circle cx="302.9" cy="460.0" r="1.6" fill="#fff" stroke="#931f55" stroke-width="0.9"/>
<circle cx="305.0" cy="458.3" r="1.6" fill="#fff" stroke="#931f55" stroke-width="0.9"/>
<circle cx="306.7" cy="459.0" r="1.6" fill="#fff" stroke="#931f55" stroke-width="0.9"/>
<circle cx="309.3" cy="459.5" r="1.6" fill="#fff" stroke="#931f55" stroke-width="0.9"/>
<circle cx="310.9" cy="460.0" r="1.6" fill="#fff" stroke="#931f55" stroke-width="0.9"/>
<circle cx="313.8" cy="458.9" r="1.6" fill="#fff" stroke="#931f55" stroke-width="0.9"/>
<circle cx="315.3" cy="458.5" r="1.6" fill="#fff" stroke="#931f55" stroke-width="0.9"/>
<circle cx="317.7" cy="458.0" r="1.6" fill="#fff" stroke="#931f55" stroke-width="0.9"/>
<circle cx="319.3" cy="460.4" r="1.6" fill="#fff" stroke="#931f55" stroke-width="0.9"/>
<circle cx="321.8" cy="460.0" r="1.6" fill="#fff" stroke="#931f55" stroke-width="0.9"/>
<circle cx="324.4" cy="459.0" r="1.6" fill="#fff" stroke="#931f55" stroke-width="0.9"/>
<circle cx="326.3" cy="458.2" r="1.6" fill="#fff" stroke="#931f55" stroke-width="0.9"/>
<circle cx="328.1" cy="460.1" r="1.6" fill="#fff" stroke="#931f55" stroke-width="0.9"/>
<circle cx="330.6" cy="460.0" r="1.6" fill="#fff" stroke="#931f55" stroke-width="0.9"/>
<circle cx="332.4" cy="459.6" r="1.6" fill="#fff" stroke="#931f55" stroke-width="0.9"/>
<circle cx="334.3" cy="460.2" r="1.6" fill="#fff" stroke="#931f55" stroke-width="0.9"/>
<circle cx="336.6" cy="458.3" r="1.6" fill="#fff" stroke="#931f55" stroke-width="0.9"/>
<circle cx="338.6" cy="458.3" r="1.6" fill="#fff" stroke="#931f55" stroke-width="0.9"/>
<circle cx="340.3" cy="458.1" r="1.6" fill="#fff" stroke="#931f55" stroke-width="0.9"/>
<circle cx="342.8" cy="458.2" r="1.6" fill="#fff" stroke="#931f55" stroke-width="0.9"/>
<circle cx="344.7" cy="458.9" r="1.6" fill="#fff" stroke="#931f55" stroke-width="0.9"/>
<circle cx="312.1" cy="425.2" r="3.7" fill="#fdf4f7" stroke="#931f55" stroke-width="1.25"/>
<circle cx="300.3" cy="432.6" r="3.1" fill="#fdf4f7" stroke="#931f55" stroke-width="1.25"/>
<circle cx="299.5" cy="433.2" r="4.3" fill="#fdf4f7" stroke="#931f55" stroke-width="1.25"/>
<circle cx="320.8" cy="427.8" r="3.4" fill="#fdf4f7" stroke="#931f55" stroke-width="1.25"/>
<circle cx="325.3" cy="435.5" r="3.4" fill="#fdf4f7" stroke="#931f55" stroke-width="1.25"/>
<circle cx="322.8" cy="429.1" r="3.8" fill="#fdf4f7" stroke="#931f55" stroke-width="1.25"/>
<circle cx="320.6" cy="421.4" r="4.1" fill="#fdf4f7" stroke="#931f55" stroke-width="1.25"/>
<circle cx="312.8" cy="430.3" r="4.1" fill="#fdf4f7" stroke="#931f55" stroke-width="1.25"/>
<circle cx="335.2" cy="435.1" r="4.4" fill="#fdf4f7" stroke="#931f55" stroke-width="1.25"/>
<circle cx="290.9" cy="443.8" r="4.1" fill="#fdf4f7" stroke="#931f55" stroke-width="1.25"/>
<circle cx="294.9" cy="432.3" r="3.9" fill="#fdf4f7" stroke="#931f55" stroke-width="1.25"/>
<circle cx="308.3" cy="421.4" r="4.4" fill="#fdf4f7" stroke="#931f55" stroke-width="1.25"/>
<circle cx="334.9" cy="432.0" r="4.0" fill="#fdf4f7" stroke="#931f55" stroke-width="1.25"/>
<circle cx="294.2" cy="431.6" r="4.5" fill="#fdf4f7" stroke="#931f55" stroke-width="1.25"/>
<circle cx="323.2" cy="429.1" r="3.8" fill="#fdf4f7" stroke="#931f55" stroke-width="1.25"/>
<circle cx="305.9" cy="427.6" r="3.1" fill="#fdf4f7" stroke="#931f55" stroke-width="1.25"/>
<circle cx="333.0" cy="435.5" r="3.8" fill="#fdf4f7" stroke="#931f55" stroke-width="1.25"/>
<circle cx="316.5" cy="429.7" r="4.4" fill="#fdf4f7" stroke="#931f55" stroke-width="1.25"/>
<circle cx="298.2" cy="440.0" r="4.1" fill="#fdf4f7" stroke="#931f55" stroke-width="1.25"/>
<circle cx="323.3" cy="430.8" r="3.8" fill="#fdf4f7" stroke="#931f55" stroke-width="1.25"/>
<circle cx="300.4" cy="439.1" r="3.9" fill="#fdf4f7" stroke="#931f55" stroke-width="1.25"/>
<circle cx="310.9" cy="431.1" r="3.1" fill="#fdf4f7" stroke="#931f55" stroke-width="1.25"/>
<circle cx="317.3" cy="427.8" r="4.5" fill="#fdf4f7" stroke="#931f55" stroke-width="1.25"/>
<circle cx="289.9" cy="443.2" r="3.4" fill="#fdf4f7" stroke="#931f55" stroke-width="1.25"/>
<circle cx="327.2" cy="437.5" r="3.6" fill="#fdf4f7" stroke="#931f55" stroke-width="1.25"/>
<circle cx="311.0" cy="422.4" r="3.4" fill="#fdf4f7" stroke="#931f55" stroke-width="1.25"/>
<circle cx="322.5" cy="394.4" r="4.4" fill="#fdf4f7" stroke="#931f55" stroke-width="1.25"/>
<circle cx="320.6" cy="402.5" r="4.2" fill="#fdf4f7" stroke="#931f55" stroke-width="1.25"/>
<circle cx="312.8" cy="407.3" r="4.4" fill="#fdf4f7" stroke="#931f55" stroke-width="1.25"/>
<circle cx="298.8" cy="417.8" r="4.8" fill="#fdf4f7" stroke="#931f55" stroke-width="1.25"/>
<circle cx="305.6" cy="419.0" r="4.4" fill="#fdf4f7" stroke="#931f55" stroke-width="1.25"/>
<circle cx="316.9" cy="420.3" r="4.4" fill="#fdf4f7" stroke="#931f55" stroke-width="1.25"/>
<circle cx="323.1" cy="416.5" r="4.0" fill="#fdf4f7" stroke="#931f55" stroke-width="1.25"/>
<circle cx="332.5" cy="410.6" r="3.0" fill="#fdf4f7" stroke="#931f55" stroke-width="1.25"/>
<circle cx="334.4" cy="416.3" r="3.0" fill="#fdf4f7" stroke="#931f55" stroke-width="1.25"/>
<circle cx="342.5" cy="399.8" r="3.0" fill="#fdf4f7" stroke="#931f55" stroke-width="1.25"/>
<circle cx="305.0" cy="425.6" r="4.2" fill="#fdf4f7" stroke="#931f55" stroke-width="1.25"/>
<circle cx="311.3" cy="426.9" r="3.5" fill="#fdf4f7" stroke="#931f55" stroke-width="1.25"/>
<circle cx="316.9" cy="430.0" r="4.2" fill="#fdf4f7" stroke="#931f55" stroke-width="1.25"/>
<circle cx="326.3" cy="422.5" r="3.0" fill="#fdf4f7" stroke="#931f55" stroke-width="1.25"/>
<circle cx="327.5" cy="426.9" r="3.0" fill="#fdf4f7" stroke="#931f55" stroke-width="1.25"/>
<circle cx="296.3" cy="431.9" r="4.0" fill="#fdf4f7" stroke="#931f55" stroke-width="1.25"/>
<circle cx="329.4" cy="431.9" r="3.0" fill="#fdf4f7" stroke="#931f55" stroke-width="1.25"/>
<circle cx="300.0" cy="434.4" r="4.0" fill="#fdf4f7" stroke="#931f55" stroke-width="1.25"/>
<circle cx="295.5" cy="434.1" r="4.0" fill="#fdf4f7" stroke="#931f55" stroke-width="1.25"/>
<circle cx="294.0" cy="441.3" r="3.5" fill="#fdf4f7" stroke="#931f55" stroke-width="1.25"/>
<circle cx="325.0" cy="422.5" r="3.0" fill="#fdf4f7" stroke="#931f55" stroke-width="1.25"/>
<circle cx="329.4" cy="433.1" r="3.0" fill="#fdf4f7" stroke="#931f55" stroke-width="1.25"/>
<circle cx="335.6" cy="438.8" r="3.0" fill="#fdf4f7" stroke="#931f55" stroke-width="1.25"/>
<circle cx="328.1" cy="443.8" r="3.0" fill="#fdf4f7" stroke="#931f55" stroke-width="1.25"/>
<circle cx="342.5" cy="435.6" r="2.5" fill="#fdf4f7" stroke="#931f55" stroke-width="1.25"/>
<circle cx="349.4" cy="436.9" r="2.3" fill="#fdf4f7" stroke="#931f55" stroke-width="1.25"/>
<circle cx="356.3" cy="433.1" r="2.3" fill="#fdf4f7" stroke="#931f55" stroke-width="1.25"/>
<circle cx="354.4" cy="439.4" r="2.3" fill="#fdf4f7" stroke="#931f55" stroke-width="1.25"/>
<circle cx="358.1" cy="440.0" r="2.3" fill="#fdf4f7" stroke="#931f55" stroke-width="1.25"/>
<circle cx="350.0" cy="440.6" r="2.0" fill="#fdf4f7" stroke="#931f55" stroke-width="1.25"/>
<circle cx="351.9" cy="445.6" r="2.3" fill="#fdf4f7" stroke="#931f55" stroke-width="1.25"/>
<circle cx="344.4" cy="446.9" r="2.3" fill="#fdf4f7" stroke="#931f55" stroke-width="1.25"/>
<circle cx="340.0" cy="444.4" r="2.5" fill="#fdf4f7" stroke="#931f55" stroke-width="1.25"/>
<circle cx="353.8" cy="450.6" r="2.0" fill="#fdf4f7" stroke="#931f55" stroke-width="1.25"/>
<circle cx="356.9" cy="453.1" r="2.0" fill="#fdf4f7" stroke="#931f55" stroke-width="1.25"/>
<circle cx="362.5" cy="450.6" r="2.0" fill="#fdf4f7" stroke="#931f55" stroke-width="1.25"/>
<circle cx="346.3" cy="453.1" r="2.0" fill="#fdf4f7" stroke="#931f55" stroke-width="1.25"/>
<circle cx="343.1" cy="455.6" r="2.0" fill="#fdf4f7" stroke="#931f55" stroke-width="1.25"/>
<circle cx="337.5" cy="455.6" r="2.0" fill="#fdf4f7" stroke="#931f55" stroke-width="1.25"/>
<circle cx="333.8" cy="453.8" r="2.3" fill="#fdf4f7" stroke="#931f55" stroke-width="1.25"/>
<circle cx="330.6" cy="458.1" r="2.0" fill="#fdf4f7" stroke="#931f55" stroke-width="1.25"/>
<circle cx="325.0" cy="458.8" r="2.0" fill="#fdf4f7" stroke="#931f55" stroke-width="1.25"/>
<circle cx="321.9" cy="456.9" r="2.0" fill="#fdf4f7" stroke="#931f55" stroke-width="1.25"/>
<circle cx="336.3" cy="446.3" r="2.5" fill="#fdf4f7" stroke="#931f55" stroke-width="1.25"/>
<circle cx="332.5" cy="446.3" r="2.5" fill="#fdf4f7" stroke="#931f55" stroke-width="1.25"/>
<circle cx="333.8" cy="450.0" r="2.0" fill="#fdf4f7" stroke="#931f55" stroke-width="1.25"/>
<circle cx="323.8" cy="450.6" r="2.0" fill="#fdf4f7" stroke="#931f55" stroke-width="1.25"/>
<circle cx="326.9" cy="451.3" r="2.0" fill="#fdf4f7" stroke="#931f55" stroke-width="1.25"/>
<circle cx="356.6" cy="433.1" r="2.3" fill="#fdf4f7" stroke="#931f55" stroke-width="1.25"/>
<circle cx="358.3" cy="440.4" r="2.3" fill="#fdf4f7" stroke="#931f55" stroke-width="1.25"/>
<circle cx="366.4" cy="438.0" r="2.5" fill="#fdf4f7" stroke="#931f55" stroke-width="1.25"/>
<circle cx="368.1" cy="435.5" r="2.3" fill="#fdf4f7" stroke="#931f55" stroke-width="1.25"/>
<circle cx="370.5" cy="440.4" r="2.5" fill="#fdf4f7" stroke="#931f55" stroke-width="1.25"/>
<circle cx="376.2" cy="442.9" r="2.5" fill="#fdf4f7" stroke="#931f55" stroke-width="1.25"/>
<circle cx="382.8" cy="447.0" r="2.5" fill="#fdf4f7" stroke="#931f55" stroke-width="1.25"/>
<circle cx="395.0" cy="450.2" r="2.5" fill="#fdf4f7" stroke="#931f55" stroke-width="1.25"/>
<circle cx="397.5" cy="449.1" r="2.5" fill="#fdf4f7" stroke="#931f55" stroke-width="1.25"/>
<circle cx="389.3" cy="453.5" r="2.3" fill="#fdf4f7" stroke="#931f55" stroke-width="1.25"/>
<circle cx="370.5" cy="452.7" r="2.5" fill="#fdf4f7" stroke="#931f55" stroke-width="1.25"/>
<circle cx="363.2" cy="451.0" r="2.3" fill="#fdf4f7" stroke="#931f55" stroke-width="1.25"/>
<circle cx="359.9" cy="451.9" r="2.3" fill="#fdf4f7" stroke="#931f55" stroke-width="1.25"/>
<circle cx="356.6" cy="454.3" r="2.3" fill="#fdf4f7" stroke="#931f55" stroke-width="1.25"/>
<circle cx="408.3" cy="435.7" r="2.3" fill="#fdf4f7" stroke="#931f55" stroke-width="1.25"/>
<circle cx="429.8" cy="438.8" r="2.3" fill="#fdf4f7" stroke="#931f55" stroke-width="1.25"/>
<circle cx="416.3" cy="399.5" r="2.3" fill="#fdf4f7" stroke="#931f55" stroke-width="1.25"/>
<circle cx="342.3" cy="399.6" r="3.0" fill="#fdf4f7" stroke="#931f55" stroke-width="1.25"/>
<circle cx="364.6" cy="401.9" r="3.0" fill="#fdf4f7" stroke="#931f55" stroke-width="1.25"/>
<circle cx="332.5" cy="411.2" r="3.0" fill="#fdf4f7" stroke="#931f55" stroke-width="1.25"/>
<circle cx="334.7" cy="415.5" r="3.0" fill="#fdf4f7" stroke="#931f55" stroke-width="1.25"/>
<circle cx="356.2" cy="432.7" r="2.3" fill="#fdf4f7" stroke="#931f55" stroke-width="1.25"/>
<circle cx="367.7" cy="435.8" r="2.3" fill="#fdf4f7" stroke="#931f55" stroke-width="1.25"/>
<circle cx="385.2" cy="455.1" r="1.3" fill="#931f55"/>
<circle cx="379.5" cy="455.6" r="1.3" fill="#931f55"/>
<circle cx="374.3" cy="456.8" r="1.3" fill="#931f55"/>
<circle cx="366.4" cy="457.9" r="1.3" fill="#931f55"/>
<rect x="429" y="452.5" width="2.6" height="8.5" rx="1.3" fill="#931f55"/>
<circle cx="314.6" cy="322.8" r="5.1" fill="#fff" stroke="#931f55" stroke-width="1.2"/>
<circle cx="313.4" cy="352.8" r="5.1" fill="#fff" stroke="#931f55" stroke-width="1.2"/>
<text x="345.4" y="323.5" font-size="8.8" fill="#bd8ea4" stroke="#bd8ea4" stroke-width="0" text-anchor="start" >PI3K-Akt</text>
<line x1="332.4" y1="322.6" x2="342.8" y2="320.4" stroke="#bd8ea4" stroke-width="1.1" />
<text x="339.5" y="380.0" font-size="8.8" fill="#bd8ea4" stroke="#bd8ea4" stroke-width="0" text-anchor="start" >Complement</text>
<line x1="359.6" y1="384.8" x2="357.0" y2="396.4" stroke="#bd8ea4" stroke-width="1.1" />
<text x="284.4" y="391.3" font-size="8.8" fill="#bd8ea4" stroke="#bd8ea4" stroke-width="0" text-anchor="start" >MAPK</text>
<line x1="296.3" y1="393.8" x2="303.8" y2="412.5" stroke="#bd8ea4" stroke-width="1.1" />
<text x="377.4" y="407.0" font-size="8.8" fill="#bd8ea4" stroke="#bd8ea4" stroke-width="0" text-anchor="start" >ATM</text>
<line x1="379.2" y1="409.6" x2="360.0" y2="430.4" stroke="#bd8ea4" stroke-width="1.1" />
<text x="386.9" y="415.5" font-size="8.8" fill="#bd8ea4" stroke="#bd8ea4" stroke-width="0" text-anchor="start" >GABA</text>
<line x1="386.2" y1="415.0" x2="373.0" y2="432.7" stroke="#bd8ea4" stroke-width="1.1" />
<text x="390.0" y="423.5" font-size="8.8" fill="#bd8ea4" stroke="#bd8ea4" stroke-width="0" text-anchor="start" >GABPα/β</text>
<line x1="404.6" y1="424.2" x2="407.0" y2="431.9" stroke="#bd8ea4" stroke-width="1.1" />
<text x="402.2" y="373.4" font-size="8.8" fill="#bd8ea4" stroke="#bd8ea4" stroke-width="0" text-anchor="start" >GPCRs</text>
<line x1="415.9" y1="375.7" x2="415.9" y2="394.9" stroke="#bd8ea4" stroke-width="1.1" />
<text x="398.3" y="460.0" font-size="8.8" fill="#333" stroke="#333" stroke-width="0" text-anchor="start" ><tspan font-style="italic">n</tspan> = 747</text>
<text x="463.0" y="409.2" font-size="8.8" fill="#161616" stroke="#161616" stroke-width="0" text-anchor="start" >Term size</text>
<circle cx="454.6" cy="417.7" r="1.3" fill="none" stroke="#8e1f50" stroke-width="1.3"/>
<text x="463.0" y="420.9" font-size="8.8" fill="#161616" stroke="#161616" stroke-width="0" text-anchor="start" >≤10 (<tspan font-style="italic">n</tspan> = 143)</text>
<circle cx="454.6" cy="428.8" r="2.2" fill="none" stroke="#8e1f50" stroke-width="1.3"/>
<text x="463.0" y="432.0" font-size="8.8" fill="#161616" stroke="#161616" stroke-width="0" text-anchor="start" >≤50 (<tspan font-style="italic">n</tspan> = 424)</text>
<circle cx="454.6" cy="439.7" r="3.3" fill="none" stroke="#8e1f50" stroke-width="1.3"/>
<text x="463.0" y="442.9" font-size="8.8" fill="#161616" stroke="#161616" stroke-width="0" text-anchor="start" >≤100 (<tspan font-style="italic">n</tspan> = 124)</text>
<circle cx="454.6" cy="450.8" r="4.4" fill="none" stroke="#8e1f50" stroke-width="1.3"/>
<text x="463.0" y="454.0" font-size="8.8" fill="#161616" stroke="#161616" stroke-width="0" text-anchor="start" >≤200 (<tspan font-style="italic">n</tspan> = 53)</text>
<circle cx="454.6" cy="462.3" r="5.4" fill="none" stroke="#8e1f50" stroke-width="1.3"/>
<text x="463.0" y="465.5" font-size="8.8" fill="#161616" stroke="#161616" stroke-width="0" text-anchor="start" >&gt;200 (<tspan font-style="italic">n</tspan> = 13)</text>
</g>
</svg></body></html>
